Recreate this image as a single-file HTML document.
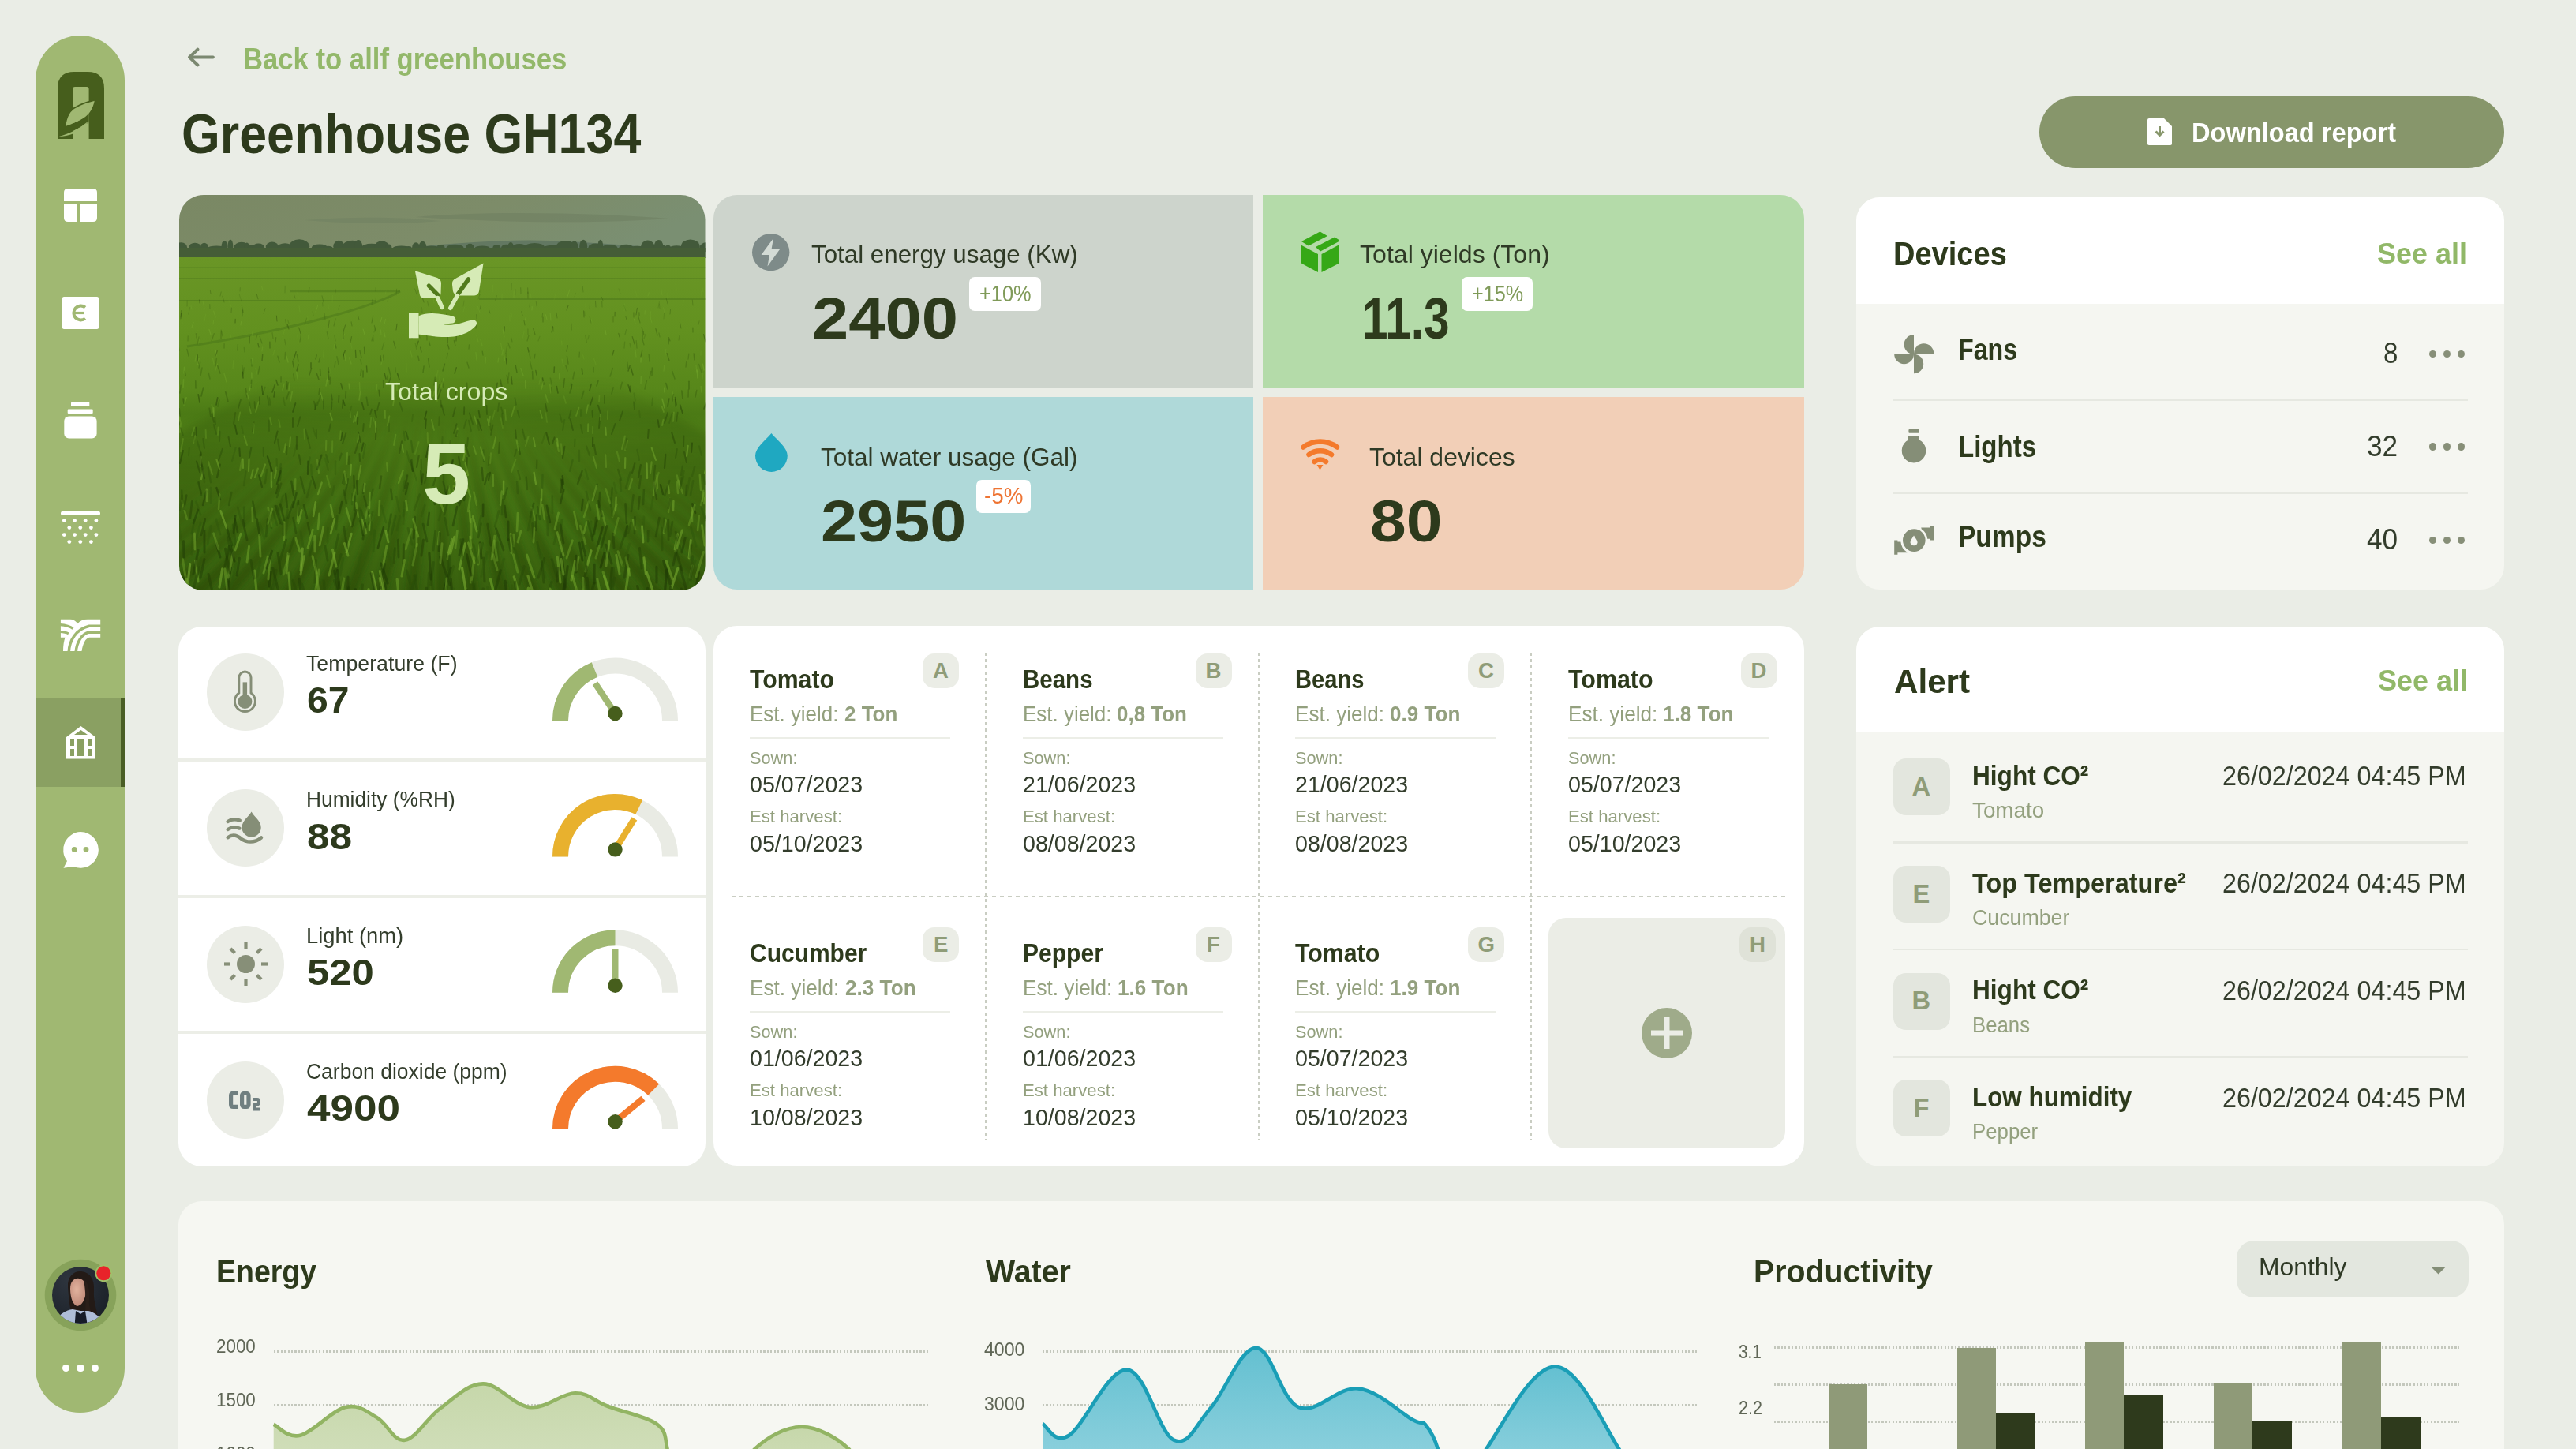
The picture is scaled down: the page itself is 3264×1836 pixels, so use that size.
<!DOCTYPE html>
<html><head><meta charset="utf-8"><style>
html,body{margin:0;padding:0;}
body{width:3264px;height:1836px;overflow:hidden;background:#eaede6;position:relative;font-family:"Liberation Sans",sans-serif;}
.t{position:absolute;white-space:nowrap;line-height:normal;transform-origin:0 0;}
.b{position:absolute;}
svg{position:absolute;overflow:visible;}
</style></head><body>
<div class="b" style="left:45px;top:45px;width:113px;height:1745px;background:#a0b872;border-radius:56.5px;"></div>
<div class="b" style="left:45px;top:884px;width:113px;height:113px;background:#8aa062;"></div>
<div class="b" style="left:153px;top:884px;width:5px;height:113px;background:#4a5e25;"></div>
<svg style="left:72.7px;top:90.7px" width="59" height="85" viewBox="0 0 59 85">
<path fill="#465e1c" d="M0 85 V21 Q0 0 21 0 H38 Q59 0 59 21 V85 H39.6 V22 Q39.6 19 37 19 H22 Q19 19 19 22 V85 Z"/>
<path fill="#465e1c" d="M10.6 68.8 C20 65 28 62 33 58 C40 52 45 44 46.9 35.9 L39.6 45 V64 C30 70 15 78 1.4 82 Z"/>
<path fill="#a0b872" d="M10.6 68.8 C11 58 17 48 24 44 C31 40 39 37.5 46.9 35.9 C45 46 40 54 33 58.5 C26 63 18 66 10.6 68.8 Z"/>
<path fill="none" stroke="#465e1c" stroke-width="2" d="M16 50 C22 44 32 39.5 46.9 35.9"/>
<path fill="#a0b872" d="M1 82.2 C14 79 28 72 39.6 62 C34 70 28 75 21 78 C14 80.5 7 81.8 1 82.2 Z"/>
</svg>
<svg style="left:81px;top:239px" width="42" height="42" viewBox="0 0 42 42">
<path fill="#fff" d="M0 5 Q0 0 5 0 H37 Q42 0 42 5 V16 H0 Z"/>
<path fill="#fff" d="M0 20 H16 V42 H5 Q0 42 0 37 Z"/>
<path fill="#fff" d="M20.5 20 H42 V37 Q42 42 37 42 H20.5 Z"/>
</svg>
<svg style="left:78.8px;top:376px" width="46" height="41" viewBox="0 0 46 41">
<rect x="0" y="0" width="46" height="41" rx="2" fill="#fff"/>
<path fill="none" stroke="#a0b872" stroke-width="4" d="M29 13.5 A9 9 0 1 0 29 27.5"/>
<path stroke="#a0b872" stroke-width="3.2" d="M14 20.5 H27"/>
</svg>
<svg style="left:81px;top:509px" width="42" height="47" viewBox="0 0 42 47">
<rect x="9" y="0.5" width="23.3" height="5.5" rx="1" fill="#fff"/>
<rect x="4.7" y="9.5" width="32" height="5.5" rx="1" fill="#fff"/>
<rect x="0.3" y="18.5" width="41.3" height="28" rx="6" fill="#fff"/>
</svg>
<svg style="left:77px;top:648px" width="50" height="42" viewBox="0 0 50 42">
<rect x="0" y="0" width="50" height="5" rx="2" fill="#fff"/><circle cx="4.3" cy="11.6" r="2.4" fill="#fff"/><circle cx="17.6" cy="11.6" r="2.4" fill="#fff"/><circle cx="31.2" cy="11.6" r="2.4" fill="#fff"/><circle cx="44.9" cy="11.6" r="2.4" fill="#fff"/><circle cx="10.8" cy="20.6" r="2.4" fill="#fff"/><circle cx="24.8" cy="20.6" r="2.4" fill="#fff"/><circle cx="38.4" cy="20.6" r="2.4" fill="#fff"/><circle cx="4.3" cy="29.6" r="2.4" fill="#fff"/><circle cx="17.6" cy="29.6" r="2.4" fill="#fff"/><circle cx="31.2" cy="29.6" r="2.4" fill="#fff"/><circle cx="44.9" cy="29.6" r="2.4" fill="#fff"/><circle cx="10.8" cy="38.6" r="2.4" fill="#fff"/><circle cx="24.8" cy="38.6" r="2.4" fill="#fff"/><circle cx="38.4" cy="38.6" r="2.4" fill="#fff"/></svg>
<svg style="left:70px;top:778px" width="64" height="54" viewBox="0 0 64 54">
<path fill="#fff" d="M6.9 6.8 H57.2 V29.8 H43 C38 31 35 38 33.5 47.1 H10 C10 40 11 34 12.5 29.8 H6.9 Z"/>
<g fill="none" stroke="#a0b872" stroke-width="3.6">
<path d="M17.2 48 C18 34 26 19 43 15.2 H58"/>
<path d="M26.2 48 C27 37 33 25 43 23.1 H58"/>
<path d="M6 13.6 C12 14 18 15 22.5 18.5" stroke-width="3.2"/>
<path d="M6 22.6 C10 22.8 13.5 23.2 16.8 24.8" stroke-width="3"/>
</g>
<path fill="#a0b872" d="M19 6 C24 7.5 27 10 28.3 12.2 C31 9 35 7 41 6 Z"/>
</svg>
<svg style="left:83.6px;top:919.8px" width="37" height="42" viewBox="0 0 37 42">
<path fill="#fff" d="M18.5 0 L37 14 V41.5 H0 V14 Z"/>
<path fill="#8aa062" d="M18.5 5 L27 11 H10 Z"/>
<rect x="5" y="16" width="5" height="9" fill="#8aa062"/>
<rect x="5" y="29" width="5" height="9" fill="#8aa062"/>
<rect x="27" y="16" width="5" height="9" fill="#8aa062"/>
<rect x="27" y="29" width="5" height="9" fill="#8aa062"/>
<rect x="14" y="16" width="9" height="22" fill="#8aa062"/>
</svg>
<svg style="left:79px;top:1053.6px" width="46" height="46" viewBox="0 0 46 46">
<path fill="#fff" d="M23 0 A22.9 22.9 0 1 1 14 44 L1.5 45.8 L6 37 A22.9 22.9 0 0 1 23 0 Z"/>
<circle cx="15.2" cy="22.4" r="3.4" fill="#a0b872"/>
<circle cx="30" cy="22.4" r="3.4" fill="#a0b872"/>
</svg>
<svg style="left:56px;top:1595px" width="92" height="92" viewBox="0 0 92 92">
<defs><clipPath id="av"><circle cx="46" cy="46" r="36"/></clipPath>
<radialGradient id="avbg" cx="0.35" cy="0.3" r="0.9"><stop offset="0" stop-color="#2e353e"/><stop offset="1" stop-color="#141920"/></radialGradient>
<radialGradient id="face" cx="0.4" cy="0.4" r="0.7"><stop offset="0" stop-color="#e2b39e"/><stop offset="1" stop-color="#b98272"/></radialGradient></defs>
<circle cx="46" cy="46" r="45.3" fill="#87a25a"/>
<g clip-path="url(#av)">
<rect x="0" y="0" width="92" height="92" fill="url(#avbg)"/>
<path fill="#231a16" d="M30 36 C29 22 38 15 47 16 C58 17 64 26 63 40 C62 52 66 62 68 74 L60 82 L36 80 C33 66 31 50 30 36 Z"/>
<path fill="url(#face)" d="M33 38 C33 29 38 24 44 25 C51 26 54 32 53 41 C52 52 48 59 42 60 C37 59 33 50 33 38 Z"/>
<path fill="#2a1e19" d="M50 26 C56 30 58 40 57 52 C56 60 60 68 62 76 L52 74 C52 62 54 50 50 26 Z"/>
<path fill="#aebdd8" d="M12 82 C18 70 28 65 36 64 L46 66 L56 66 C64 68 72 74 78 84 L78 92 H12 Z"/>
<path fill="#161b28" d="M40 66 L46 70 L52 66 L56 92 H38 Z"/>
</g>
<circle cx="75.3" cy="18.3" r="10.8" fill="#9fc06a"/>
<circle cx="75.3" cy="18.3" r="9" fill="#e8232a"/>
</svg>
<div class="b" style="left:79.2px;top:1729.2px;width:9.2px;height:9.2px;border-radius:50%;background:#fff"></div>
<div class="b" style="left:97.4px;top:1729.2px;width:9.2px;height:9.2px;border-radius:50%;background:#fff"></div>
<div class="b" style="left:115.60000000000001px;top:1729.2px;width:9.2px;height:9.2px;border-radius:50%;background:#fff"></div>
<svg style="left:236px;top:59px" width="37" height="28" viewBox="0 0 37 28">
<path fill="none" stroke="#7b8870" stroke-width="3.8" stroke-linecap="round" stroke-linejoin="round" d="M4 13.5 H34 M14.5 3.5 L4 13.5 L14.5 23.5"/>
</svg>
<div class="t" style="left:307.70px;top:52.79px;font-size:38.23px;color:#93b86a;font-weight:700;transform:scaleX(0.9071);">Back to allf greenhouses</div>
<div class="t" style="left:229.50px;top:128.68px;font-size:70.50px;color:#2d3a1c;font-weight:700;transform:scaleX(0.8899);">Greenhouse GH134</div>
<div class="b" style="left:2584px;top:122px;width:589px;height:91px;background:#87966b;border-radius:45.5px;"></div>
<svg style="left:2721px;top:150px" width="32" height="34" viewBox="0 0 32 34">
<path fill="#fff" d="M0 2 Q0 0 2 0 H21 L31 10 V32 Q31 34 29 34 H2 Q0 34 0 32 Z"/>
<path fill="none" stroke="#87966b" stroke-width="3" d="M15.5 10 V21 M10.5 16.5 L15.5 21.5 L20.5 16.5"/>
</svg>
<div class="t" style="left:2777.00px;top:148.12px;font-size:34.88px;color:#ffffff;font-weight:700;transform:scaleX(0.9350);">Download report</div>
<svg style="left:226.5px;top:247px" width="666.5" height="501" viewBox="0 0 666.5 501">
<defs>
<clipPath id="pc"><rect x="0" y="0" width="666.5" height="501" rx="31"/></clipPath>
<linearGradient id="sky" x1="0" y1="0" x2="1" y2="0.3"><stop offset="0" stop-color="#7a8864"/><stop offset="0.6" stop-color="#7d8c69"/><stop offset="1" stop-color="#7a8f72"/></linearGradient>
<linearGradient id="fld" x1="0" y1="0" x2="0" y2="1">
<stop offset="0" stop-color="#6a9626"/><stop offset="0.22" stop-color="#62911f"/><stop offset="0.4" stop-color="#57871a"/><stop offset="0.47" stop-color="#4b7a15"/><stop offset="0.55" stop-color="#4f7f17"/><stop offset="0.78" stop-color="#447213"/><stop offset="1" stop-color="#38600e"/></linearGradient>
<filter id="bl" x="-0.1" y="-0.1" width="1.2" height="1.2"><feGaussianBlur stdDeviation="4.5"/></filter>
<linearGradient id="fade" x1="0" y1="0" x2="0" y2="1"><stop offset="0" stop-color="#fff" stop-opacity="0"/><stop offset="0.3" stop-color="#fff" stop-opacity="0.4"/><stop offset="1" stop-color="#fff" stop-opacity="1"/></linearGradient>
<mask id="gm"><rect x="0" y="230" width="667" height="280" fill="url(#fade)"/></mask>
</defs>
<g clip-path="url(#pc)">
<rect x="0" y="0" width="667" height="80" fill="url(#sky)"/>
<path d="M300 28 C380 20 520 22 620 30 C540 36 420 36 300 28 Z" fill="#6a7a5e" opacity="0.45"/>
<path d="M160 32 C220 27 290 28 330 33 C290 37 220 37 160 32 Z" fill="#6a7a5e" opacity="0.35"/>
<path d="M300 66 C360 60 420 56 470 58 C520 60 570 64 620 68 L620 75 L300 75 Z" fill="#5d735f" opacity="0.8"/>
<g fill="#42593a"><ellipse cx="2.5" cy="66.2" rx="7.5" ry="5.9"/><ellipse cx="20.0" cy="66.3" rx="7.7" ry="5.6"/><ellipse cx="31.8" cy="66.3" rx="4.8" ry="5.6"/><ellipse cx="47.4" cy="67.2" rx="10.9" ry="2.7"/><ellipse cx="57.4" cy="65.7" rx="3.9" ry="7.7"/><ellipse cx="64.9" cy="65.3" rx="3.4" ry="8.9"/><ellipse cx="79.1" cy="66.1" rx="9.5" ry="6.3"/><ellipse cx="85.9" cy="66.3" rx="3.2" ry="5.7"/><ellipse cx="91.7" cy="66.9" rx="4.9" ry="3.7"/><ellipse cx="100.5" cy="66.5" rx="7.6" ry="5.1"/><ellipse cx="117.9" cy="66.1" rx="8.2" ry="6.5"/><ellipse cx="134.1" cy="66.4" rx="9.6" ry="5.2"/><ellipse cx="152.2" cy="65.3" rx="13.0" ry="9.0"/><ellipse cx="178.0" cy="66.7" rx="10.1" ry="4.2"/><ellipse cx="188.7" cy="67.3" rx="5.9" ry="2.5"/><ellipse cx="202.3" cy="65.6" rx="7.0" ry="7.9"/><ellipse cx="219.5" cy="65.6" rx="12.6" ry="7.9"/><ellipse cx="227.1" cy="65.5" rx="5.1" ry="8.4"/><ellipse cx="243.8" cy="66.6" rx="12.8" ry="4.8"/><ellipse cx="256.8" cy="65.8" rx="9.3" ry="7.4"/><ellipse cx="265.5" cy="66.7" rx="3.9" ry="4.3"/><ellipse cx="281.4" cy="67.2" rx="10.6" ry="2.8"/><ellipse cx="290.6" cy="67.3" rx="4.0" ry="2.4"/><ellipse cx="300.0" cy="66.2" rx="4.8" ry="5.9"/><ellipse cx="308.5" cy="65.9" rx="4.9" ry="7.1"/><ellipse cx="319.6" cy="67.2" rx="9.4" ry="2.8"/><ellipse cx="331.4" cy="66.8" rx="5.1" ry="3.9"/><ellipse cx="349.5" cy="66.8" rx="11.0" ry="4.1"/><ellipse cx="368.5" cy="66.6" rx="5.1" ry="4.8"/><ellipse cx="384.2" cy="67.2" rx="9.4" ry="2.7"/><ellipse cx="402.4" cy="66.9" rx="5.1" ry="3.8"/><ellipse cx="414.4" cy="66.8" rx="6.3" ry="4.1"/><ellipse cx="420.1" cy="66.2" rx="3.9" ry="6.1"/><ellipse cx="431.1" cy="66.6" rx="9.0" ry="4.6"/><ellipse cx="450.4" cy="66.4" rx="12.6" ry="5.4"/><ellipse cx="473.2" cy="67.0" rx="11.7" ry="3.3"/><ellipse cx="489.8" cy="65.7" rx="12.1" ry="7.7"/><ellipse cx="500.7" cy="65.8" rx="4.9" ry="7.2"/><ellipse cx="512.2" cy="65.4" rx="5.0" ry="8.7"/><ellipse cx="527.5" cy="66.5" rx="9.0" ry="5.0"/><ellipse cx="533.8" cy="65.4" rx="3.4" ry="8.7"/><ellipse cx="545.5" cy="66.9" rx="10.0" ry="3.8"/><ellipse cx="566.4" cy="66.8" rx="9.0" ry="4.1"/><ellipse cx="580.3" cy="67.3" rx="10.2" ry="2.5"/><ellipse cx="593.7" cy="65.6" rx="8.6" ry="8.0"/><ellipse cx="607.6" cy="65.5" rx="5.8" ry="8.4"/><ellipse cx="613.3" cy="66.8" rx="3.2" ry="3.9"/><ellipse cx="619.3" cy="67.0" rx="3.6" ry="3.2"/><ellipse cx="630.3" cy="67.1" rx="8.7" ry="2.9"/><ellipse cx="647.8" cy="65.3" rx="11.9" ry="8.9"/><ellipse cx="669.4" cy="66.2" rx="9.9" ry="6.1"/><ellipse cx="676.4" cy="67.4" rx="3.4" ry="2.1"/></g>
<rect x="0" y="67" width="667" height="13" fill="#455d37"/>
<rect x="0" y="79" width="667" height="422" fill="url(#fld)"/>
<g stroke="#3f6a18" stroke-opacity="0.35" fill="none">
<path d="M0 92 H667" stroke-width="1.2"/><path d="M0 106 H667" stroke-width="1.5"/>
<path d="M140 122 H280" stroke-width="2.5"/><path d="M0 134 H250" stroke-width="2"/>
<path d="M380 132 H667" stroke-width="2"/><path d="M280 122 C250 140 150 170 10 192" stroke-width="3"/>
</g>
<g stroke="#1f3c06" stroke-opacity="0.5" stroke-width="12" fill="none" filter="url(#bl)" mask="url(#gm)"><path d="M133 230 Q-107 380 -587 560" /><path d="M143 230 Q-85 380 -541 560" /><path d="M153 230 Q-63 380 -495 560" /><path d="M163 230 Q-41 380 -449 560" /><path d="M173 230 Q-19 380 -403 560" /><path d="M183 230 Q3 380 -357 560" /><path d="M193 230 Q25 380 -311 560" /><path d="M203 230 Q47 380 -265 560" /><path d="M213 230 Q69 380 -219 560" /><path d="M223 230 Q91 380 -173 560" /><path d="M233 230 Q113 380 -127 560" /><path d="M243 230 Q135 380 -81 560" /><path d="M253 230 Q157 380 -35 560" /><path d="M263 230 Q179 380 11 560" /><path d="M273 230 Q201 380 57 560" /><path d="M283 230 Q223 380 103 560" /><path d="M293 230 Q245 380 149 560" /><path d="M303 230 Q267 380 195 560" /><path d="M313 230 Q289 380 241 560" /><path d="M323 230 Q311 380 287 560" /><path d="M333 230 Q333 380 333 560" /><path d="M343 230 Q355 380 379 560" /><path d="M353 230 Q377 380 425 560" /><path d="M363 230 Q399 380 471 560" /><path d="M373 230 Q421 380 517 560" /><path d="M383 230 Q443 380 563 560" /><path d="M393 230 Q465 380 609 560" /><path d="M403 230 Q487 380 655 560" /><path d="M413 230 Q509 380 701 560" /><path d="M423 230 Q531 380 747 560" /><path d="M433 230 Q553 380 793 560" /><path d="M443 230 Q575 380 839 560" /><path d="M453 230 Q597 380 885 560" /><path d="M463 230 Q619 380 931 560" /><path d="M473 230 Q641 380 977 560" /><path d="M483 230 Q663 380 1023 560" /><path d="M493 230 Q685 380 1069 560" /><path d="M503 230 Q707 380 1115 560" /><path d="M513 230 Q729 380 1161 560" /><path d="M523 230 Q751 380 1207 560" /><path d="M533 230 Q773 380 1253 560" /></g>
<g stroke-linecap="round"><path d="M650 414 l-0.2 -17.2" stroke="#80b434" stroke-opacity="0.39" stroke-width="2.6"/><path d="M40 177 l-2.1 -6.7" stroke="#80b434" stroke-opacity="0.33" stroke-width="1.2"/><path d="M651 174 l-0.1 -6.0" stroke="#284a08" stroke-opacity="0.36" stroke-width="1.1"/><path d="M532 295 l1.1 -12.7" stroke="#1c3604" stroke-opacity="0.33" stroke-width="1.9"/><path d="M40 125 l-0.8 -4.5" stroke="#1c3604" stroke-opacity="0.30" stroke-width="0.8"/><path d="M494 283 l2.5 -10.3" stroke="#284a08" stroke-opacity="0.35" stroke-width="1.8"/><path d="M203 336 l2.6 -8.3" stroke="#284a08" stroke-opacity="0.38" stroke-width="2.1"/><path d="M621 378 l-1.5 -10.7" stroke="#80b434" stroke-opacity="0.43" stroke-width="2.4"/><path d="M507 338 l-0.0 -14.5" stroke="#2f560b" stroke-opacity="0.34" stroke-width="2.1"/><path d="M126 400 l5.7 -19.5" stroke="#2f560b" stroke-opacity="0.39" stroke-width="2.5"/><path d="M207 365 l3.0 -12.8" stroke="#284a08" stroke-opacity="0.44" stroke-width="2.3"/><path d="M180 519 l-4.0 -25.6" stroke="#2f560b" stroke-opacity="0.55" stroke-width="3.3"/><path d="M347 281 l2.8 -11.5" stroke="#203c05" stroke-opacity="0.34" stroke-width="1.8"/><path d="M12 151 l1.2 -8.4" stroke="#203c05" stroke-opacity="0.24" stroke-width="1.0"/><path d="M377 393 l-3.6 -16.5" stroke="#74a82c" stroke-opacity="0.36" stroke-width="2.5"/><path d="M22 179 l0.7 -7.6" stroke="#80b434" stroke-opacity="0.31" stroke-width="1.2"/><path d="M43 275 l-1.6 -9.1" stroke="#80b434" stroke-opacity="0.24" stroke-width="1.8"/><path d="M480 318 l-1.0 -9.2" stroke="#80b434" stroke-opacity="0.46" stroke-width="2.0"/><path d="M674 330 l1.8 -12.6" stroke="#2f560b" stroke-opacity="0.29" stroke-width="2.1"/><path d="M486 512 l2.2 -24.7" stroke="#284a08" stroke-opacity="0.46" stroke-width="3.2"/><path d="M593 359 l-0.5 -18.6" stroke="#80b434" stroke-opacity="0.49" stroke-width="2.3"/><path d="M584 162 l-2.2 -8.3" stroke="#2f560b" stroke-opacity="0.35" stroke-width="1.1"/><path d="M660 532 l-4.4 -35.3" stroke="#80b434" stroke-opacity="0.57" stroke-width="3.3"/><path d="M47 266 l1.7 -9.2" stroke="#1c3604" stroke-opacity="0.42" stroke-width="1.7"/><path d="M585 212 l0.2 -6.8" stroke="#80b434" stroke-opacity="0.36" stroke-width="1.4"/><path d="M92 179 l1.7 -7.1" stroke="#80b434" stroke-opacity="0.27" stroke-width="1.2"/><path d="M387 490 l-1.3 -30.0" stroke="#203c05" stroke-opacity="0.43" stroke-width="3.1"/><path d="M428 426 l1.0 -23.0" stroke="#74a82c" stroke-opacity="0.47" stroke-width="2.7"/><path d="M587 521 l-6.4 -25.4" stroke="#203c05" stroke-opacity="0.49" stroke-width="3.3"/><path d="M128 361 l1.1 -14.6" stroke="#284a08" stroke-opacity="0.40" stroke-width="2.3"/><path d="M619 138 l-1.8 -6.8" stroke="#284a08" stroke-opacity="0.30" stroke-width="0.9"/><path d="M360 148 l1.8 -6.2" stroke="#74a82c" stroke-opacity="0.22" stroke-width="1.0"/><path d="M223 327 l4.8 -16.5" stroke="#203c05" stroke-opacity="0.34" stroke-width="2.1"/><path d="M414 200 l1.8 -9.2" stroke="#284a08" stroke-opacity="0.20" stroke-width="1.3"/><path d="M-2 185 l-1.1 -6.1" stroke="#1c3604" stroke-opacity="0.21" stroke-width="1.2"/><path d="M74 427 l-3.5 -16.7" stroke="#203c05" stroke-opacity="0.51" stroke-width="2.7"/><path d="M424 130 l0.2 -8.1" stroke="#80b434" stroke-opacity="0.26" stroke-width="0.9"/><path d="M138 212 l-2.0 -7.9" stroke="#80b434" stroke-opacity="0.33" stroke-width="1.4"/><path d="M114 266 l-2.3 -10.9" stroke="#2f560b" stroke-opacity="0.41" stroke-width="1.7"/><path d="M154 176 l-2.3 -8.0" stroke="#1c3604" stroke-opacity="0.29" stroke-width="1.1"/><path d="M128 416 l-6.2 -22.0" stroke="#203c05" stroke-opacity="0.46" stroke-width="2.6"/><path d="M654 503 l4.4 -24.6" stroke="#203c05" stroke-opacity="0.58" stroke-width="3.2"/><path d="M541 470 l3.0 -16.5" stroke="#203c05" stroke-opacity="0.46" stroke-width="3.0"/><path d="M91 359 l2.6 -10.8" stroke="#74a82c" stroke-opacity="0.48" stroke-width="2.3"/><path d="M32 160 l1.7 -9.0" stroke="#74a82c" stroke-opacity="0.25" stroke-width="1.0"/><path d="M233 299 l0.8 -9.0" stroke="#284a08" stroke-opacity="0.43" stroke-width="1.9"/><path d="M301 196 l-1.8 -8.4" stroke="#2f560b" stroke-opacity="0.21" stroke-width="1.3"/><path d="M212 453 l6.3 -23.8" stroke="#80b434" stroke-opacity="0.54" stroke-width="2.9"/><path d="M121 359 l2.5 -13.7" stroke="#74a82c" stroke-opacity="0.47" stroke-width="2.3"/><path d="M524 433 l5.6 -20.3" stroke="#203c05" stroke-opacity="0.48" stroke-width="2.7"/><path d="M515 442 l-6.8 -22.8" stroke="#74a82c" stroke-opacity="0.40" stroke-width="2.8"/><path d="M599 162 l-2.9 -9.3" stroke="#74a82c" stroke-opacity="0.36" stroke-width="1.1"/><path d="M222 400 l0.4 -18.6" stroke="#1c3604" stroke-opacity="0.42" stroke-width="2.5"/><path d="M136 329 l0.5 -10.0" stroke="#284a08" stroke-opacity="0.40" stroke-width="2.1"/><path d="M166 430 l-3.0 -14.2" stroke="#1c3604" stroke-opacity="0.34" stroke-width="2.7"/><path d="M179 229 l-0.4 -7.4" stroke="#203c05" stroke-opacity="0.33" stroke-width="1.5"/><path d="M428 538 l1.6 -23.4" stroke="#284a08" stroke-opacity="0.48" stroke-width="3.4"/><path d="M255 514 l1.1 -36.3" stroke="#203c05" stroke-opacity="0.40" stroke-width="3.2"/><path d="M279 517 l-2.8 -29.8" stroke="#74a82c" stroke-opacity="0.48" stroke-width="3.3"/><path d="M628 233 l-3.1 -9.4" stroke="#2f560b" stroke-opacity="0.33" stroke-width="1.5"/><path d="M270 386 l-1.7 -13.5" stroke="#1c3604" stroke-opacity="0.32" stroke-width="2.4"/><path d="M638 535 l-1.8 -35.8" stroke="#1c3604" stroke-opacity="0.45" stroke-width="3.4"/><path d="M21 437 l6.2 -21.7" stroke="#2f560b" stroke-opacity="0.53" stroke-width="2.8"/><path d="M404 463 l-0.7 -22.2" stroke="#2f560b" stroke-opacity="0.53" stroke-width="2.9"/><path d="M96 270 l-0.5 -8.0" stroke="#203c05" stroke-opacity="0.29" stroke-width="1.7"/><path d="M278 365 l5.7 -16.2" stroke="#74a82c" stroke-opacity="0.44" stroke-width="2.3"/><path d="M68 220 l0.9 -10.2" stroke="#74a82c" stroke-opacity="0.26" stroke-width="1.4"/><path d="M487 376 l-2.2 -14.1" stroke="#2f560b" stroke-opacity="0.34" stroke-width="2.4"/><path d="M662 225 l-3.4 -10.5" stroke="#284a08" stroke-opacity="0.21" stroke-width="1.4"/><path d="M8 229 l-0.8 -5.4" stroke="#284a08" stroke-opacity="0.40" stroke-width="1.5"/><path d="M151 188 l-1.0 -9.5" stroke="#74a82c" stroke-opacity="0.26" stroke-width="1.2"/><path d="M565 433 l2.9 -13.5" stroke="#203c05" stroke-opacity="0.50" stroke-width="2.7"/><path d="M295 443 l-5.0 -20.6" stroke="#2f560b" stroke-opacity="0.47" stroke-width="2.8"/><path d="M213 535 l10.3 -35.0" stroke="#1c3604" stroke-opacity="0.53" stroke-width="3.4"/><path d="M307 364 l-0.7 -14.0" stroke="#203c05" stroke-opacity="0.39" stroke-width="2.3"/><path d="M195 408 l-3.0 -15.2" stroke="#80b434" stroke-opacity="0.44" stroke-width="2.6"/><path d="M329 412 l4.7 -17.8" stroke="#2f560b" stroke-opacity="0.40" stroke-width="2.6"/><path d="M241 425 l0.9 -19.4" stroke="#80b434" stroke-opacity="0.51" stroke-width="2.7"/><path d="M541 304 l-0.7 -9.4" stroke="#80b434" stroke-opacity="0.44" stroke-width="1.9"/><path d="M238 224 l-0.5 -7.1" stroke="#1c3604" stroke-opacity="0.37" stroke-width="1.4"/><path d="M243 430 l1.0 -15.3" stroke="#2f560b" stroke-opacity="0.37" stroke-width="2.7"/><path d="M594 439 l0.2 -13.7" stroke="#203c05" stroke-opacity="0.37" stroke-width="2.8"/><path d="M5 244 l0.6 -10.2" stroke="#74a82c" stroke-opacity="0.38" stroke-width="1.6"/><path d="M46 155 l-2.3 -7.9" stroke="#80b434" stroke-opacity="0.30" stroke-width="1.0"/><path d="M550 161 l-0.0 -6.4" stroke="#203c05" stroke-opacity="0.24" stroke-width="1.1"/><path d="M230 313 l-3.2 -12.4" stroke="#1c3604" stroke-opacity="0.37" stroke-width="2.0"/><path d="M476 423 l4.6 -20.1" stroke="#80b434" stroke-opacity="0.40" stroke-width="2.7"/><path d="M249 122 l0.1 -4.4" stroke="#284a08" stroke-opacity="0.26" stroke-width="0.8"/><path d="M540 418 l-4.3 -17.4" stroke="#80b434" stroke-opacity="0.36" stroke-width="2.6"/><path d="M459 387 l0.3 -14.4" stroke="#74a82c" stroke-opacity="0.50" stroke-width="2.5"/><path d="M202 145 l0.9 -4.7" stroke="#2f560b" stroke-opacity="0.35" stroke-width="1.0"/><path d="M2 436 l-3.1 -23.4" stroke="#2f560b" stroke-opacity="0.38" stroke-width="2.8"/><path d="M151 211 l-1.7 -8.8" stroke="#2f560b" stroke-opacity="0.38" stroke-width="1.4"/><path d="M615 289 l4.0 -13.0" stroke="#203c05" stroke-opacity="0.35" stroke-width="1.8"/><path d="M599 229 l0.3 -10.0" stroke="#284a08" stroke-opacity="0.31" stroke-width="1.5"/><path d="M24 213 l-0.8 -10.2" stroke="#203c05" stroke-opacity="0.36" stroke-width="1.4"/><path d="M530 445 l6.5 -23.8" stroke="#1c3604" stroke-opacity="0.52" stroke-width="2.8"/><path d="M159 309 l-0.7 -12.5" stroke="#74a82c" stroke-opacity="0.29" stroke-width="2.0"/><path d="M546 501 l2.4 -28.4" stroke="#203c05" stroke-opacity="0.48" stroke-width="3.2"/><path d="M518 183 l1.1 -4.7" stroke="#2f560b" stroke-opacity="0.20" stroke-width="1.2"/><path d="M482 233 l-0.1 -6.2" stroke="#80b434" stroke-opacity="0.33" stroke-width="1.5"/><path d="M198 480 l7.1 -24.4" stroke="#284a08" stroke-opacity="0.52" stroke-width="3.0"/><path d="M16 305 l3.3 -10.7" stroke="#74a82c" stroke-opacity="0.32" stroke-width="1.9"/><path d="M372 290 l-4.1 -13.5" stroke="#284a08" stroke-opacity="0.39" stroke-width="1.9"/><path d="M260 164 l1.5 -6.7" stroke="#80b434" stroke-opacity="0.27" stroke-width="1.1"/><path d="M478 483 l-5.7 -21.2" stroke="#284a08" stroke-opacity="0.54" stroke-width="3.0"/><path d="M483 475 l1.8 -20.7" stroke="#203c05" stroke-opacity="0.51" stroke-width="3.0"/><path d="M508 521 l-4.6 -21.1" stroke="#1c3604" stroke-opacity="0.53" stroke-width="3.3"/><path d="M638 258 l-1.2 -9.9" stroke="#1c3604" stroke-opacity="0.25" stroke-width="1.7"/><path d="M55 179 l-1.8 -7.9" stroke="#1c3604" stroke-opacity="0.19" stroke-width="1.2"/><path d="M473 315 l2.6 -7.6" stroke="#1c3604" stroke-opacity="0.35" stroke-width="2.0"/><path d="M622 151 l0.6 -6.3" stroke="#2f560b" stroke-opacity="0.33" stroke-width="1.0"/><path d="M217 282 l-0.6 -8.2" stroke="#80b434" stroke-opacity="0.31" stroke-width="1.8"/><path d="M158 451 l-4.1 -24.2" stroke="#2f560b" stroke-opacity="0.42" stroke-width="2.9"/><path d="M63 393 l3.3 -16.1" stroke="#284a08" stroke-opacity="0.43" stroke-width="2.5"/><path d="M516 187 l-0.9 -9.1" stroke="#203c05" stroke-opacity="0.29" stroke-width="1.2"/><path d="M126 361 l2.9 -19.9" stroke="#2f560b" stroke-opacity="0.41" stroke-width="2.3"/><path d="M442 131 l-0.1 -7.9" stroke="#1c3604" stroke-opacity="0.30" stroke-width="0.9"/><path d="M627 258 l-2.2 -8.3" stroke="#80b434" stroke-opacity="0.26" stroke-width="1.7"/><path d="M363 500 l-4.5 -27.4" stroke="#80b434" stroke-opacity="0.57" stroke-width="3.2"/><path d="M403 463 l-3.7 -25.0" stroke="#74a82c" stroke-opacity="0.40" stroke-width="2.9"/><path d="M560 361 l-3.9 -13.1" stroke="#284a08" stroke-opacity="0.37" stroke-width="2.3"/><path d="M628 449 l3.5 -19.3" stroke="#80b434" stroke-opacity="0.53" stroke-width="2.8"/><path d="M429 378 l-0.9 -14.3" stroke="#284a08" stroke-opacity="0.33" stroke-width="2.4"/><path d="M381 282 l-1.4 -8.5" stroke="#203c05" stroke-opacity="0.43" stroke-width="1.8"/><path d="M528 142 l-0.5 -7.7" stroke="#1c3604" stroke-opacity="0.28" stroke-width="0.9"/><path d="M272 317 l2.4 -13.3" stroke="#74a82c" stroke-opacity="0.36" stroke-width="2.0"/><path d="M565 538 l-1.4 -30.2" stroke="#203c05" stroke-opacity="0.42" stroke-width="3.4"/><path d="M217 514 l-8.8 -26.4" stroke="#284a08" stroke-opacity="0.44" stroke-width="3.2"/><path d="M287 379 l2.8 -13.6" stroke="#203c05" stroke-opacity="0.48" stroke-width="2.4"/><path d="M569 223 l2.3 -7.1" stroke="#1c3604" stroke-opacity="0.35" stroke-width="1.4"/><path d="M154 341 l-2.1 -11.6" stroke="#284a08" stroke-opacity="0.48" stroke-width="2.2"/><path d="M588 427 l0.9 -19.2" stroke="#2f560b" stroke-opacity="0.38" stroke-width="2.7"/><path d="M379 434 l3.6 -17.4" stroke="#284a08" stroke-opacity="0.51" stroke-width="2.7"/><path d="M301 362 l-5.0 -15.0" stroke="#2f560b" stroke-opacity="0.31" stroke-width="2.3"/><path d="M549 496 l1.4 -22.9" stroke="#284a08" stroke-opacity="0.44" stroke-width="3.1"/><path d="M205 311 l1.8 -9.1" stroke="#1c3604" stroke-opacity="0.44" stroke-width="2.0"/><path d="M579 205 l-1.0 -8.1" stroke="#74a82c" stroke-opacity="0.38" stroke-width="1.3"/><path d="M426 127 l0.2 -7.5" stroke="#2f560b" stroke-opacity="0.19" stroke-width="0.8"/><path d="M24 490 l-3.5 -26.6" stroke="#74a82c" stroke-opacity="0.54" stroke-width="3.1"/><path d="M83 420 l-0.9 -24.1" stroke="#284a08" stroke-opacity="0.36" stroke-width="2.7"/><path d="M73 482 l3.4 -21.8" stroke="#203c05" stroke-opacity="0.50" stroke-width="3.0"/><path d="M246 452 l1.7 -27.1" stroke="#2f560b" stroke-opacity="0.54" stroke-width="2.9"/><path d="M114 496 l2.2 -18.5" stroke="#1c3604" stroke-opacity="0.57" stroke-width="3.1"/><path d="M352 305 l0.7 -9.5" stroke="#74a82c" stroke-opacity="0.37" stroke-width="1.9"/><path d="M380 298 l-2.4 -10.9" stroke="#2f560b" stroke-opacity="0.31" stroke-width="1.9"/><path d="M118 350 l-6.1 -18.6" stroke="#1c3604" stroke-opacity="0.47" stroke-width="2.2"/><path d="M-8 366 l-4.2 -13.7" stroke="#80b434" stroke-opacity="0.48" stroke-width="2.3"/><path d="M322 255 l1.4 -6.2" stroke="#80b434" stroke-opacity="0.37" stroke-width="1.6"/><path d="M643 339 l-3.0 -12.9" stroke="#203c05" stroke-opacity="0.37" stroke-width="2.2"/><path d="M366 401 l2.8 -17.9" stroke="#74a82c" stroke-opacity="0.41" stroke-width="2.5"/><path d="M388 213 l0.5 -7.2" stroke="#80b434" stroke-opacity="0.22" stroke-width="1.4"/><path d="M594 308 l0.8 -10.9" stroke="#1c3604" stroke-opacity="0.36" stroke-width="2.0"/><path d="M578 424 l-2.9 -12.7" stroke="#80b434" stroke-opacity="0.44" stroke-width="2.7"/><path d="M153 452 l-5.6 -17.4" stroke="#74a82c" stroke-opacity="0.51" stroke-width="2.9"/><path d="M526 430 l2.2 -20.9" stroke="#203c05" stroke-opacity="0.37" stroke-width="2.7"/><path d="M100 227 l1.9 -9.4" stroke="#284a08" stroke-opacity="0.28" stroke-width="1.5"/><path d="M469 316 l-3.8 -14.7" stroke="#203c05" stroke-opacity="0.46" stroke-width="2.0"/><path d="M302 181 l-1.5 -8.0" stroke="#203c05" stroke-opacity="0.21" stroke-width="1.2"/><path d="M194 285 l-2.8 -8.5" stroke="#80b434" stroke-opacity="0.40" stroke-width="1.8"/><path d="M148 428 l-3.4 -18.8" stroke="#1c3604" stroke-opacity="0.35" stroke-width="2.7"/><path d="M202 215 l-2.1 -10.4" stroke="#2f560b" stroke-opacity="0.29" stroke-width="1.4"/><path d="M30 393 l4.5 -17.5" stroke="#203c05" stroke-opacity="0.50" stroke-width="2.5"/><path d="M580 194 l-0.8 -9.3" stroke="#284a08" stroke-opacity="0.24" stroke-width="1.3"/><path d="M116 266 l-1.8 -8.8" stroke="#2f560b" stroke-opacity="0.36" stroke-width="1.7"/><path d="M314 439 l-4.8 -21.8" stroke="#1c3604" stroke-opacity="0.38" stroke-width="2.8"/><path d="M40 281 l-1.7 -10.6" stroke="#284a08" stroke-opacity="0.35" stroke-width="1.8"/><path d="M341 431 l-4.3 -21.7" stroke="#284a08" stroke-opacity="0.41" stroke-width="2.7"/><path d="M633 184 l1.0 -6.5" stroke="#284a08" stroke-opacity="0.19" stroke-width="1.2"/><path d="M254 255 l-0.9 -7.7" stroke="#203c05" stroke-opacity="0.36" stroke-width="1.6"/><path d="M407 247 l0.1 -8.1" stroke="#2f560b" stroke-opacity="0.23" stroke-width="1.6"/><path d="M281 251 l1.2 -8.4" stroke="#74a82c" stroke-opacity="0.29" stroke-width="1.6"/><path d="M249 310 l0.4 -14.7" stroke="#1c3604" stroke-opacity="0.34" stroke-width="2.0"/><path d="M584 282 l-0.9 -8.1" stroke="#2f560b" stroke-opacity="0.27" stroke-width="1.8"/><path d="M503 476 l3.0 -16.7" stroke="#80b434" stroke-opacity="0.42" stroke-width="3.0"/><path d="M620 402 l2.0 -17.6" stroke="#74a82c" stroke-opacity="0.36" stroke-width="2.5"/><path d="M52 386 l-4.6 -14.9" stroke="#1c3604" stroke-opacity="0.49" stroke-width="2.4"/><path d="M472 240 l-1.6 -7.7" stroke="#2f560b" stroke-opacity="0.29" stroke-width="1.5"/><path d="M347 419 l5.1 -24.0" stroke="#1c3604" stroke-opacity="0.44" stroke-width="2.7"/><path d="M369 415 l-1.1 -14.6" stroke="#74a82c" stroke-opacity="0.51" stroke-width="2.6"/><path d="M177 503 l-4.4 -31.6" stroke="#80b434" stroke-opacity="0.44" stroke-width="3.2"/><path d="M6 226 l0.4 -7.8" stroke="#74a82c" stroke-opacity="0.38" stroke-width="1.5"/><path d="M431 493 l6.2 -22.3" stroke="#284a08" stroke-opacity="0.49" stroke-width="3.1"/><path d="M519 516 l-1.9 -30.6" stroke="#1c3604" stroke-opacity="0.40" stroke-width="3.3"/><path d="M308 149 l-0.5 -6.4" stroke="#2f560b" stroke-opacity="0.30" stroke-width="1.0"/><path d="M330 235 l0.5 -7.4" stroke="#74a82c" stroke-opacity="0.26" stroke-width="1.5"/><path d="M151 406 l-1.2 -15.5" stroke="#2f560b" stroke-opacity="0.43" stroke-width="2.6"/><path d="M515 477 l7.1 -26.4" stroke="#80b434" stroke-opacity="0.56" stroke-width="3.0"/><path d="M228 260 l1.6 -10.7" stroke="#80b434" stroke-opacity="0.31" stroke-width="1.7"/><path d="M122 186 l0.7 -5.3" stroke="#203c05" stroke-opacity="0.25" stroke-width="1.2"/><path d="M242 294 l1.2 -11.5" stroke="#74a82c" stroke-opacity="0.32" stroke-width="1.9"/><path d="M342 195 l-1.5 -5.1" stroke="#284a08" stroke-opacity="0.37" stroke-width="1.3"/><path d="M572 250 l-3.0 -9.2" stroke="#203c05" stroke-opacity="0.40" stroke-width="1.6"/><path d="M27 485 l4.9 -23.5" stroke="#1c3604" stroke-opacity="0.42" stroke-width="3.1"/><path d="M242 387 l3.6 -14.5" stroke="#2f560b" stroke-opacity="0.48" stroke-width="2.5"/><path d="M379 468 l2.2 -25.4" stroke="#74a82c" stroke-opacity="0.52" stroke-width="3.0"/><path d="M249 173 l-1.7 -7.6" stroke="#284a08" stroke-opacity="0.28" stroke-width="1.1"/><path d="M532 411 l-2.9 -18.0" stroke="#74a82c" stroke-opacity="0.45" stroke-width="2.6"/><path d="M630 287 l1.7 -11.3" stroke="#284a08" stroke-opacity="0.42" stroke-width="1.8"/><path d="M235 201 l-0.5 -7.8" stroke="#284a08" stroke-opacity="0.37" stroke-width="1.3"/><path d="M107 479 l5.4 -21.0" stroke="#80b434" stroke-opacity="0.42" stroke-width="3.0"/><path d="M414 285 l-1.0 -13.0" stroke="#80b434" stroke-opacity="0.29" stroke-width="1.8"/><path d="M585 239 l0.3 -8.7" stroke="#74a82c" stroke-opacity="0.40" stroke-width="1.5"/><path d="M94 302 l0.6 -12.1" stroke="#74a82c" stroke-opacity="0.38" stroke-width="1.9"/><path d="M146 235 l-1.3 -8.0" stroke="#284a08" stroke-opacity="0.25" stroke-width="1.5"/><path d="M512 123 l-0.8 -7.4" stroke="#2f560b" stroke-opacity="0.35" stroke-width="0.8"/><path d="M585 205 l1.6 -7.3" stroke="#1c3604" stroke-opacity="0.31" stroke-width="1.3"/><path d="M413 210 l-2.0 -9.0" stroke="#74a82c" stroke-opacity="0.38" stroke-width="1.4"/><path d="M294 538 l-8.2 -36.3" stroke="#284a08" stroke-opacity="0.59" stroke-width="3.4"/><path d="M453 346 l0.4 -9.6" stroke="#284a08" stroke-opacity="0.39" stroke-width="2.2"/><path d="M134 124 l0.2 -8.8" stroke="#2f560b" stroke-opacity="0.31" stroke-width="0.8"/><path d="M264 429 l4.6 -24.5" stroke="#284a08" stroke-opacity="0.52" stroke-width="2.7"/><path d="M566 322 l1.2 -13.5" stroke="#284a08" stroke-opacity="0.39" stroke-width="2.1"/><path d="M256 215 l1.6 -7.2" stroke="#74a82c" stroke-opacity="0.33" stroke-width="1.4"/><path d="M204 309 l0.6 -9.8" stroke="#74a82c" stroke-opacity="0.33" stroke-width="2.0"/><path d="M135 431 l2.7 -21.4" stroke="#2f560b" stroke-opacity="0.40" stroke-width="2.7"/><path d="M246 185 l-0.4 -5.3" stroke="#284a08" stroke-opacity="0.27" stroke-width="1.2"/><path d="M358 255 l2.8 -10.6" stroke="#74a82c" stroke-opacity="0.24" stroke-width="1.6"/><path d="M387 367 l4.2 -13.8" stroke="#1c3604" stroke-opacity="0.38" stroke-width="2.3"/><path d="M112 417 l6.0 -19.1" stroke="#74a82c" stroke-opacity="0.50" stroke-width="2.6"/><path d="M350 447 l2.4 -21.3" stroke="#80b434" stroke-opacity="0.36" stroke-width="2.8"/><path d="M226 379 l-0.9 -16.9" stroke="#203c05" stroke-opacity="0.49" stroke-width="2.4"/><path d="M497 171 l-0.2 -8.1" stroke="#1c3604" stroke-opacity="0.28" stroke-width="1.1"/><path d="M361 278 l0.2 -8.8" stroke="#1c3604" stroke-opacity="0.33" stroke-width="1.8"/><path d="M398 369 l-0.3 -14.7" stroke="#74a82c" stroke-opacity="0.45" stroke-width="2.3"/><path d="M495 251 l2.9 -11.1" stroke="#2f560b" stroke-opacity="0.38" stroke-width="1.6"/><path d="M66 497 l6.3 -31.1" stroke="#2f560b" stroke-opacity="0.54" stroke-width="3.1"/><path d="M341 455 l4.8 -18.7" stroke="#80b434" stroke-opacity="0.42" stroke-width="2.9"/><path d="M229 337 l-0.5 -8.9" stroke="#1c3604" stroke-opacity="0.34" stroke-width="2.1"/><path d="M40 390 l-0.1 -19.1" stroke="#2f560b" stroke-opacity="0.33" stroke-width="2.5"/><path d="M28 329 l-5.0 -16.6" stroke="#2f560b" stroke-opacity="0.44" stroke-width="2.1"/><path d="M219 195 l-1.9 -9.7" stroke="#74a82c" stroke-opacity="0.22" stroke-width="1.3"/><path d="M257 196 l2.6 -9.1" stroke="#284a08" stroke-opacity="0.21" stroke-width="1.3"/><path d="M355 393 l6.4 -19.5" stroke="#203c05" stroke-opacity="0.45" stroke-width="2.5"/><path d="M1 301 l0.9 -9.5" stroke="#74a82c" stroke-opacity="0.39" stroke-width="1.9"/><path d="M134 208 l0.5 -8.6" stroke="#284a08" stroke-opacity="0.23" stroke-width="1.3"/><path d="M636 169 l-1.6 -7.3" stroke="#284a08" stroke-opacity="0.32" stroke-width="1.1"/><path d="M237 429 l-4.3 -17.6" stroke="#80b434" stroke-opacity="0.39" stroke-width="2.7"/><path d="M410 277 l-2.0 -7.7" stroke="#284a08" stroke-opacity="0.31" stroke-width="1.8"/><path d="M151 416 l4.3 -16.6" stroke="#74a82c" stroke-opacity="0.52" stroke-width="2.6"/><path d="M435 153 l-1.1 -5.3" stroke="#1c3604" stroke-opacity="0.29" stroke-width="1.0"/><path d="M34 308 l-0.4 -10.0" stroke="#74a82c" stroke-opacity="0.32" stroke-width="2.0"/><path d="M451 412 l-4.1 -16.0" stroke="#74a82c" stroke-opacity="0.40" stroke-width="2.6"/><path d="M60 237 l-3.0 -10.7" stroke="#80b434" stroke-opacity="0.24" stroke-width="1.5"/><path d="M51 497 l3.6 -23.1" stroke="#80b434" stroke-opacity="0.51" stroke-width="3.1"/><path d="M550 536 l-8.5 -35.2" stroke="#284a08" stroke-opacity="0.47" stroke-width="3.4"/><path d="M207 315 l4.3 -13.0" stroke="#284a08" stroke-opacity="0.46" stroke-width="2.0"/><path d="M558 286 l4.0 -11.6" stroke="#284a08" stroke-opacity="0.45" stroke-width="1.8"/><path d="M532 396 l1.1 -19.1" stroke="#1c3604" stroke-opacity="0.39" stroke-width="2.5"/><path d="M261 180 l-1.9 -8.0" stroke="#80b434" stroke-opacity="0.32" stroke-width="1.2"/><path d="M612 450 l-0.5 -28.0" stroke="#284a08" stroke-opacity="0.43" stroke-width="2.8"/><path d="M244 185 l1.8 -6.6" stroke="#284a08" stroke-opacity="0.26" stroke-width="1.2"/><path d="M356 345 l-1.8 -13.1" stroke="#203c05" stroke-opacity="0.40" stroke-width="2.2"/><path d="M153 148 l-1.0 -7.4" stroke="#74a82c" stroke-opacity="0.32" stroke-width="1.0"/><path d="M274 224 l-0.2 -5.4" stroke="#203c05" stroke-opacity="0.23" stroke-width="1.4"/><path d="M606 178 l-2.1 -8.5" stroke="#203c05" stroke-opacity="0.29" stroke-width="1.2"/><path d="M410 291 l-0.8 -13.8" stroke="#284a08" stroke-opacity="0.30" stroke-width="1.9"/><path d="M65 455 l-3.1 -21.4" stroke="#203c05" stroke-opacity="0.35" stroke-width="2.9"/><path d="M196 166 l2.2 -9.2" stroke="#284a08" stroke-opacity="0.26" stroke-width="1.1"/><path d="M137 246 l-0.5 -9.1" stroke="#1c3604" stroke-opacity="0.27" stroke-width="1.6"/><path d="M374 537 l11.3 -37.9" stroke="#284a08" stroke-opacity="0.48" stroke-width="3.4"/><path d="M497 246 l-0.4 -7.2" stroke="#1c3604" stroke-opacity="0.30" stroke-width="1.6"/><path d="M219 392 l0.3 -13.1" stroke="#2f560b" stroke-opacity="0.42" stroke-width="2.5"/><path d="M264 350 l-0.9 -9.9" stroke="#74a82c" stroke-opacity="0.36" stroke-width="2.2"/><path d="M347 519 l-2.9 -32.6" stroke="#203c05" stroke-opacity="0.58" stroke-width="3.3"/><path d="M397 123 l0.6 -8.8" stroke="#74a82c" stroke-opacity="0.32" stroke-width="0.8"/><path d="M513 208 l-1.4 -5.1" stroke="#74a82c" stroke-opacity="0.21" stroke-width="1.3"/><path d="M163 159 l-0.3 -5.6" stroke="#74a82c" stroke-opacity="0.25" stroke-width="1.0"/><path d="M456 240 l1.7 -7.2" stroke="#74a82c" stroke-opacity="0.23" stroke-width="1.5"/><path d="M97 183 l2.1 -5.9" stroke="#1c3604" stroke-opacity="0.20" stroke-width="1.2"/><path d="M369 382 l-6.4 -19.1" stroke="#80b434" stroke-opacity="0.46" stroke-width="2.4"/><path d="M-6 364 l1.9 -15.2" stroke="#284a08" stroke-opacity="0.33" stroke-width="2.3"/><path d="M460 155 l0.6 -4.9" stroke="#284a08" stroke-opacity="0.26" stroke-width="1.0"/><path d="M489 497 l-3.5 -34.9" stroke="#203c05" stroke-opacity="0.52" stroke-width="3.1"/><path d="M262 415 l-5.6 -20.8" stroke="#2f560b" stroke-opacity="0.35" stroke-width="2.6"/><path d="M86 256 l-1.7 -10.5" stroke="#1c3604" stroke-opacity="0.24" stroke-width="1.6"/><path d="M249 301 l-0.1 -13.4" stroke="#80b434" stroke-opacity="0.42" stroke-width="1.9"/><path d="M320 335 l2.8 -14.9" stroke="#74a82c" stroke-opacity="0.32" stroke-width="2.1"/><path d="M102 265 l0.1 -8.8" stroke="#1c3604" stroke-opacity="0.33" stroke-width="1.7"/><path d="M307 367 l2.0 -13.7" stroke="#1c3604" stroke-opacity="0.36" stroke-width="2.3"/><path d="M150 413 l1.0 -19.2" stroke="#74a82c" stroke-opacity="0.51" stroke-width="2.6"/><path d="M165 457 l4.9 -17.0" stroke="#284a08" stroke-opacity="0.46" stroke-width="2.9"/><path d="M614 530 l-5.4 -28.9" stroke="#203c05" stroke-opacity="0.41" stroke-width="3.3"/><path d="M571 249 l0.3 -6.8" stroke="#203c05" stroke-opacity="0.32" stroke-width="1.6"/><path d="M296 326 l-1.9 -13.9" stroke="#2f560b" stroke-opacity="0.43" stroke-width="2.1"/><path d="M127 212 l-2.1 -7.9" stroke="#2f560b" stroke-opacity="0.32" stroke-width="1.4"/><path d="M624 498 l7.8 -24.7" stroke="#80b434" stroke-opacity="0.54" stroke-width="3.1"/><path d="M560 375 l-1.5 -14.9" stroke="#2f560b" stroke-opacity="0.41" stroke-width="2.4"/><path d="M191 226 l-0.1 -6.3" stroke="#74a82c" stroke-opacity="0.22" stroke-width="1.5"/><path d="M637 453 l4.2 -18.5" stroke="#203c05" stroke-opacity="0.52" stroke-width="2.9"/><path d="M363 376 l1.9 -16.8" stroke="#203c05" stroke-opacity="0.46" stroke-width="2.4"/><path d="M27 229 l2.0 -10.1" stroke="#2f560b" stroke-opacity="0.31" stroke-width="1.5"/><path d="M227 408 l-2.8 -17.7" stroke="#80b434" stroke-opacity="0.39" stroke-width="2.6"/><path d="M642 218 l0.7 -6.3" stroke="#284a08" stroke-opacity="0.27" stroke-width="1.4"/><path d="M630 121 l-0.8 -8.8" stroke="#74a82c" stroke-opacity="0.33" stroke-width="0.8"/><path d="M447 146 l0.2 -4.4" stroke="#80b434" stroke-opacity="0.36" stroke-width="1.0"/><path d="M621 529 l3.6 -28.3" stroke="#284a08" stroke-opacity="0.50" stroke-width="3.3"/><path d="M332 269 l-0.5 -8.5" stroke="#1c3604" stroke-opacity="0.28" stroke-width="1.7"/><path d="M10 411 l-6.9 -24.1" stroke="#74a82c" stroke-opacity="0.37" stroke-width="2.6"/><path d="M177 212 l1.6 -6.0" stroke="#2f560b" stroke-opacity="0.38" stroke-width="1.4"/><path d="M4 513 l3.8 -29.0" stroke="#203c05" stroke-opacity="0.56" stroke-width="3.2"/><path d="M106 253 l2.8 -9.6" stroke="#284a08" stroke-opacity="0.25" stroke-width="1.6"/><path d="M647 485 l3.5 -15.2" stroke="#80b434" stroke-opacity="0.49" stroke-width="3.1"/><path d="M516 476 l-1.7 -18.6" stroke="#2f560b" stroke-opacity="0.56" stroke-width="3.0"/><path d="M270 470 l-6.9 -20.2" stroke="#2f560b" stroke-opacity="0.41" stroke-width="3.0"/><path d="M351 366 l-0.5 -15.1" stroke="#2f560b" stroke-opacity="0.48" stroke-width="2.3"/><path d="M128 294 l-1.8 -9.0" stroke="#74a82c" stroke-opacity="0.29" stroke-width="1.9"/><path d="M409 405 l1.0 -18.7" stroke="#284a08" stroke-opacity="0.36" stroke-width="2.6"/><path d="M197 218 l0.9 -7.2" stroke="#2f560b" stroke-opacity="0.32" stroke-width="1.4"/><path d="M514 153 l-0.3 -5.3" stroke="#2f560b" stroke-opacity="0.24" stroke-width="1.0"/><path d="M615 270 l-3.0 -11.7" stroke="#80b434" stroke-opacity="0.40" stroke-width="1.7"/><path d="M532 262 l0.5 -8.2" stroke="#80b434" stroke-opacity="0.25" stroke-width="1.7"/><path d="M616 529 l5.8 -18.2" stroke="#1c3604" stroke-opacity="0.58" stroke-width="3.3"/><path d="M131 180 l2.7 -9.1" stroke="#74a82c" stroke-opacity="0.21" stroke-width="1.2"/><path d="M541 177 l-1.1 -5.9" stroke="#80b434" stroke-opacity="0.32" stroke-width="1.2"/><path d="M488 491 l-2.4 -26.7" stroke="#284a08" stroke-opacity="0.56" stroke-width="3.1"/><path d="M587 182 l1.2 -9.5" stroke="#284a08" stroke-opacity="0.25" stroke-width="1.2"/><path d="M74 197 l0.4 -7.5" stroke="#203c05" stroke-opacity="0.25" stroke-width="1.3"/><path d="M438 159 l1.5 -4.4" stroke="#80b434" stroke-opacity="0.27" stroke-width="1.0"/><path d="M217 187 l1.5 -7.4" stroke="#203c05" stroke-opacity="0.28" stroke-width="1.2"/><path d="M570 373 l4.0 -12.8" stroke="#80b434" stroke-opacity="0.31" stroke-width="2.4"/><path d="M265 440 l-3.3 -14.3" stroke="#80b434" stroke-opacity="0.51" stroke-width="2.8"/><path d="M7 524 l2.9 -36.8" stroke="#284a08" stroke-opacity="0.48" stroke-width="3.3"/><path d="M0 197 l-1.0 -6.0" stroke="#203c05" stroke-opacity="0.31" stroke-width="1.3"/><path d="M162 409 l-4.0 -15.9" stroke="#203c05" stroke-opacity="0.44" stroke-width="2.6"/><path d="M361 295 l2.9 -9.9" stroke="#2f560b" stroke-opacity="0.39" stroke-width="1.9"/><path d="M601 381 l0.7 -16.3" stroke="#74a82c" stroke-opacity="0.46" stroke-width="2.4"/><path d="M205 512 l3.7 -26.0" stroke="#74a82c" stroke-opacity="0.44" stroke-width="3.2"/><path d="M461 161 l-0.0 -6.0" stroke="#203c05" stroke-opacity="0.30" stroke-width="1.1"/><path d="M445 408 l4.2 -17.3" stroke="#203c05" stroke-opacity="0.41" stroke-width="2.6"/><path d="M331 158 l2.2 -6.6" stroke="#74a82c" stroke-opacity="0.28" stroke-width="1.0"/><path d="M182 141 l-0.3 -4.3" stroke="#284a08" stroke-opacity="0.21" stroke-width="0.9"/><path d="M336 499 l8.3 -26.6" stroke="#1c3604" stroke-opacity="0.55" stroke-width="3.1"/><path d="M207 184 l2.4 -7.9" stroke="#80b434" stroke-opacity="0.23" stroke-width="1.2"/><path d="M541 470 l4.1 -31.4" stroke="#80b434" stroke-opacity="0.50" stroke-width="3.0"/><path d="M540 460 l-3.4 -24.7" stroke="#2f560b" stroke-opacity="0.36" stroke-width="2.9"/><path d="M646 460 l2.3 -22.6" stroke="#80b434" stroke-opacity="0.53" stroke-width="2.9"/><path d="M432 512 l-7.7 -28.1" stroke="#74a82c" stroke-opacity="0.56" stroke-width="3.2"/><path d="M118 250 l3.5 -10.3" stroke="#203c05" stroke-opacity="0.36" stroke-width="1.6"/><path d="M449 435 l-1.4 -18.6" stroke="#284a08" stroke-opacity="0.45" stroke-width="2.7"/><path d="M428 516 l-2.6 -25.8" stroke="#284a08" stroke-opacity="0.56" stroke-width="3.3"/><path d="M662 330 l-3.1 -11.7" stroke="#2f560b" stroke-opacity="0.38" stroke-width="2.1"/><path d="M177 253 l1.0 -7.6" stroke="#284a08" stroke-opacity="0.30" stroke-width="1.6"/><path d="M615 509 l2.8 -33.9" stroke="#1c3604" stroke-opacity="0.54" stroke-width="3.2"/><path d="M182 260 l-3.0 -9.3" stroke="#80b434" stroke-opacity="0.34" stroke-width="1.7"/><path d="M501 319 l0.5 -9.3" stroke="#2f560b" stroke-opacity="0.36" stroke-width="2.0"/><path d="M223 287 l3.0 -12.0" stroke="#80b434" stroke-opacity="0.36" stroke-width="1.8"/><path d="M621 210 l-2.8 -9.4" stroke="#1c3604" stroke-opacity="0.29" stroke-width="1.4"/><path d="M513 408 l5.9 -19.4" stroke="#74a82c" stroke-opacity="0.44" stroke-width="2.6"/><path d="M-2 296 l2.6 -7.5" stroke="#203c05" stroke-opacity="0.28" stroke-width="1.9"/><path d="M177 352 l-2.1 -16.3" stroke="#80b434" stroke-opacity="0.30" stroke-width="2.2"/><path d="M32 144 l-1.9 -9.0" stroke="#74a82c" stroke-opacity="0.34" stroke-width="1.0"/><path d="M39 144 l-0.2 -5.4" stroke="#2f560b" stroke-opacity="0.36" stroke-width="0.9"/><path d="M528 329 l-2.3 -12.7" stroke="#203c05" stroke-opacity="0.36" stroke-width="2.1"/><path d="M377 157 l-0.4 -5.4" stroke="#1c3604" stroke-opacity="0.19" stroke-width="1.0"/><path d="M311 284 l2.4 -9.6" stroke="#1c3604" stroke-opacity="0.45" stroke-width="1.8"/><path d="M625 487 l-7.7 -23.0" stroke="#80b434" stroke-opacity="0.47" stroke-width="3.1"/><path d="M264 292 l2.4 -11.7" stroke="#80b434" stroke-opacity="0.31" stroke-width="1.9"/><path d="M445 207 l-1.2 -6.0" stroke="#284a08" stroke-opacity="0.28" stroke-width="1.3"/><path d="M520 248 l2.2 -8.4" stroke="#1c3604" stroke-opacity="0.36" stroke-width="1.6"/><path d="M336 405 l6.2 -23.0" stroke="#284a08" stroke-opacity="0.47" stroke-width="2.6"/><path d="M487 244 l1.3 -11.1" stroke="#1c3604" stroke-opacity="0.27" stroke-width="1.6"/><path d="M402 245 l1.1 -6.7" stroke="#203c05" stroke-opacity="0.37" stroke-width="1.6"/><path d="M275 127 l0.6 -7.8" stroke="#2f560b" stroke-opacity="0.33" stroke-width="0.8"/><path d="M646 246 l-0.0 -9.8" stroke="#284a08" stroke-opacity="0.39" stroke-width="1.6"/><path d="M258 472 l4.9 -26.8" stroke="#80b434" stroke-opacity="0.43" stroke-width="3.0"/><path d="M166 321 l-3.0 -12.5" stroke="#284a08" stroke-opacity="0.30" stroke-width="2.0"/><path d="M213 448 l-4.4 -27.7" stroke="#203c05" stroke-opacity="0.41" stroke-width="2.8"/><path d="M214 520 l-0.1 -35.8" stroke="#1c3604" stroke-opacity="0.45" stroke-width="3.3"/><path d="M278 459 l-0.6 -21.7" stroke="#203c05" stroke-opacity="0.46" stroke-width="2.9"/><path d="M5 305 l-3.1 -9.8" stroke="#284a08" stroke-opacity="0.32" stroke-width="1.9"/><path d="M463 411 l-2.9 -18.5" stroke="#74a82c" stroke-opacity="0.44" stroke-width="2.6"/><path d="M360 336 l2.4 -11.8" stroke="#80b434" stroke-opacity="0.45" stroke-width="2.1"/><path d="M161 512 l-5.6 -19.1" stroke="#284a08" stroke-opacity="0.53" stroke-width="3.2"/><path d="M326 231 l1.9 -8.5" stroke="#74a82c" stroke-opacity="0.26" stroke-width="1.5"/><path d="M470 415 l-4.2 -21.3" stroke="#1c3604" stroke-opacity="0.47" stroke-width="2.6"/><path d="M619 132 l0.0 -8.0" stroke="#74a82c" stroke-opacity="0.20" stroke-width="0.9"/><path d="M415 214 l-0.7 -6.4" stroke="#1c3604" stroke-opacity="0.38" stroke-width="1.4"/><path d="M115 194 l-0.1 -7.9" stroke="#203c05" stroke-opacity="0.34" stroke-width="1.3"/><path d="M596 211 l-0.9 -9.2" stroke="#2f560b" stroke-opacity="0.30" stroke-width="1.4"/><path d="M573 401 l2.6 -20.8" stroke="#203c05" stroke-opacity="0.32" stroke-width="2.5"/><path d="M397 256 l0.2 -10.3" stroke="#1c3604" stroke-opacity="0.24" stroke-width="1.6"/><path d="M4 163 l-1.2 -7.7" stroke="#80b434" stroke-opacity="0.21" stroke-width="1.1"/><path d="M27 405 l-5.5 -16.4" stroke="#2f560b" stroke-opacity="0.39" stroke-width="2.6"/><path d="M190 225 l-0.8 -6.2" stroke="#203c05" stroke-opacity="0.25" stroke-width="1.4"/><path d="M101 193 l-1.2 -5.3" stroke="#203c05" stroke-opacity="0.37" stroke-width="1.2"/><path d="M417 437 l0.0 -23.1" stroke="#1c3604" stroke-opacity="0.50" stroke-width="2.8"/><path d="M172 272 l3.3 -9.6" stroke="#2f560b" stroke-opacity="0.30" stroke-width="1.7"/><path d="M259 244 l-0.3 -8.5" stroke="#203c05" stroke-opacity="0.26" stroke-width="1.6"/><path d="M564 485 l4.9 -28.4" stroke="#1c3604" stroke-opacity="0.39" stroke-width="3.1"/><path d="M145 331 l3.6 -13.7" stroke="#2f560b" stroke-opacity="0.29" stroke-width="2.1"/><path d="M656 224 l-1.1 -8.2" stroke="#74a82c" stroke-opacity="0.32" stroke-width="1.4"/><path d="M42 536 l-5.7 -23.0" stroke="#1c3604" stroke-opacity="0.54" stroke-width="3.4"/><path d="M297 435 l1.7 -26.9" stroke="#203c05" stroke-opacity="0.46" stroke-width="2.8"/><path d="M109 365 l2.1 -17.2" stroke="#2f560b" stroke-opacity="0.48" stroke-width="2.3"/><path d="M547 394 l1.8 -22.7" stroke="#284a08" stroke-opacity="0.36" stroke-width="2.5"/><path d="M137 396 l-2.0 -17.0" stroke="#203c05" stroke-opacity="0.42" stroke-width="2.5"/><path d="M116 530 l-6.5 -33.5" stroke="#2f560b" stroke-opacity="0.41" stroke-width="3.3"/><path d="M537 134 l-1.6 -4.7" stroke="#2f560b" stroke-opacity="0.34" stroke-width="0.9"/><path d="M665 391 l3.6 -21.3" stroke="#74a82c" stroke-opacity="0.44" stroke-width="2.5"/><path d="M632 378 l-1.1 -13.8" stroke="#80b434" stroke-opacity="0.35" stroke-width="2.4"/><path d="M117 420 l-4.3 -23.5" stroke="#74a82c" stroke-opacity="0.38" stroke-width="2.7"/><path d="M47 204 l-0.5 -6.4" stroke="#80b434" stroke-opacity="0.34" stroke-width="1.3"/><path d="M449 531 l4.3 -27.9" stroke="#1c3604" stroke-opacity="0.40" stroke-width="3.3"/><path d="M393 292 l-2.1 -7.8" stroke="#74a82c" stroke-opacity="0.45" stroke-width="1.9"/><path d="M216 276 l2.4 -8.3" stroke="#2f560b" stroke-opacity="0.28" stroke-width="1.8"/><path d="M442 125 l-0.3 -7.2" stroke="#1c3604" stroke-opacity="0.30" stroke-width="0.8"/><path d="M583 153 l-0.1 -4.3" stroke="#1c3604" stroke-opacity="0.29" stroke-width="1.0"/><path d="M512 433 l3.6 -16.0" stroke="#2f560b" stroke-opacity="0.39" stroke-width="2.7"/><path d="M605 378 l-3.8 -15.4" stroke="#80b434" stroke-opacity="0.31" stroke-width="2.4"/><path d="M403 475 l-5.2 -19.1" stroke="#74a82c" stroke-opacity="0.40" stroke-width="3.0"/><path d="M290 309 l-2.8 -9.3" stroke="#203c05" stroke-opacity="0.42" stroke-width="2.0"/><path d="M249 292 l-3.6 -10.4" stroke="#74a82c" stroke-opacity="0.26" stroke-width="1.9"/><path d="M123 378 l3.0 -11.0" stroke="#203c05" stroke-opacity="0.47" stroke-width="2.4"/><path d="M186 242 l1.8 -8.8" stroke="#74a82c" stroke-opacity="0.41" stroke-width="1.6"/><path d="M438 165 l-1.0 -5.6" stroke="#284a08" stroke-opacity="0.32" stroke-width="1.1"/><path d="M117 508 l6.0 -32.5" stroke="#284a08" stroke-opacity="0.49" stroke-width="3.2"/><path d="M275 171 l1.0 -7.8" stroke="#203c05" stroke-opacity="0.36" stroke-width="1.1"/><path d="M601 362 l2.1 -19.2" stroke="#203c05" stroke-opacity="0.32" stroke-width="2.3"/><path d="M377 290 l-2.9 -9.5" stroke="#80b434" stroke-opacity="0.37" stroke-width="1.8"/><path d="M645 208 l0.8 -6.8" stroke="#284a08" stroke-opacity="0.25" stroke-width="1.3"/><path d="M466 274 l-1.9 -9.1" stroke="#203c05" stroke-opacity="0.36" stroke-width="1.8"/><path d="M69 428 l2.1 -21.7" stroke="#1c3604" stroke-opacity="0.53" stroke-width="2.7"/><path d="M35 388 l-0.2 -15.2" stroke="#80b434" stroke-opacity="0.40" stroke-width="2.5"/><path d="M451 319 l-2.0 -11.0" stroke="#80b434" stroke-opacity="0.42" stroke-width="2.0"/><path d="M460 314 l3.6 -11.1" stroke="#2f560b" stroke-opacity="0.29" stroke-width="2.0"/><path d="M460 372 l0.5 -17.2" stroke="#2f560b" stroke-opacity="0.41" stroke-width="2.4"/><path d="M654 403 l-3.8 -11.6" stroke="#1c3604" stroke-opacity="0.45" stroke-width="2.6"/><path d="M165 228 l2.6 -8.3" stroke="#284a08" stroke-opacity="0.34" stroke-width="1.5"/><path d="M147 131 l-1.3 -4.2" stroke="#203c05" stroke-opacity="0.23" stroke-width="0.9"/><path d="M471 159 l-0.8 -8.6" stroke="#80b434" stroke-opacity="0.32" stroke-width="1.0"/><path d="M370 491 l3.9 -31.3" stroke="#74a82c" stroke-opacity="0.43" stroke-width="3.1"/><path d="M424 445 l-0.2 -14.9" stroke="#74a82c" stroke-opacity="0.44" stroke-width="2.8"/><path d="M98 502 l-2.5 -25.8" stroke="#74a82c" stroke-opacity="0.51" stroke-width="3.2"/><path d="M534 536 l0.1 -28.1" stroke="#74a82c" stroke-opacity="0.48" stroke-width="3.4"/><path d="M322 507 l-2.6 -26.0" stroke="#284a08" stroke-opacity="0.39" stroke-width="3.2"/><path d="M44 288 l-2.5 -10.1" stroke="#1c3604" stroke-opacity="0.27" stroke-width="1.8"/><path d="M92 217 l-0.7 -8.3" stroke="#2f560b" stroke-opacity="0.35" stroke-width="1.4"/><path d="M106 121 l-1.3 -4.7" stroke="#80b434" stroke-opacity="0.30" stroke-width="0.8"/><path d="M96 358 l3.8 -11.3" stroke="#74a82c" stroke-opacity="0.48" stroke-width="2.3"/><path d="M89 261 l-3.1 -9.7" stroke="#80b434" stroke-opacity="0.30" stroke-width="1.7"/><path d="M621 289 l3.7 -12.7" stroke="#2f560b" stroke-opacity="0.34" stroke-width="1.8"/><path d="M619 246 l-2.2 -7.5" stroke="#2f560b" stroke-opacity="0.42" stroke-width="1.6"/><path d="M210 380 l4.1 -19.9" stroke="#284a08" stroke-opacity="0.47" stroke-width="2.4"/><path d="M569 220 l-1.2 -8.0" stroke="#2f560b" stroke-opacity="0.32" stroke-width="1.4"/><path d="M106 253 l-1.2 -10.7" stroke="#1c3604" stroke-opacity="0.40" stroke-width="1.6"/><path d="M144 514 l-4.8 -25.5" stroke="#2f560b" stroke-opacity="0.55" stroke-width="3.2"/><path d="M432 328 l-2.5 -11.1" stroke="#203c05" stroke-opacity="0.40" stroke-width="2.1"/><path d="M472 174 l1.4 -7.4" stroke="#203c05" stroke-opacity="0.34" stroke-width="1.1"/><path d="M287 449 l7.4 -25.7" stroke="#74a82c" stroke-opacity="0.37" stroke-width="2.8"/><path d="M309 225 l1.1 -8.0" stroke="#2f560b" stroke-opacity="0.38" stroke-width="1.5"/><path d="M431 282 l-2.3 -8.3" stroke="#2f560b" stroke-opacity="0.43" stroke-width="1.8"/><path d="M250 247 l0.6 -6.1" stroke="#80b434" stroke-opacity="0.24" stroke-width="1.6"/><path d="M511 227 l-0.7 -7.2" stroke="#1c3604" stroke-opacity="0.40" stroke-width="1.5"/><path d="M630 456 l-0.3 -20.9" stroke="#2f560b" stroke-opacity="0.48" stroke-width="2.9"/><path d="M214 457 l-4.6 -15.5" stroke="#80b434" stroke-opacity="0.47" stroke-width="2.9"/><path d="M301 126 l-2.3 -7.0" stroke="#1c3604" stroke-opacity="0.24" stroke-width="0.8"/><path d="M81 228 l1.2 -9.0" stroke="#284a08" stroke-opacity="0.24" stroke-width="1.5"/><path d="M52 459 l-4.9 -17.2" stroke="#1c3604" stroke-opacity="0.48" stroke-width="2.9"/><path d="M207 246 l-2.1 -7.3" stroke="#1c3604" stroke-opacity="0.35" stroke-width="1.6"/><path d="M524 319 l0.2 -11.2" stroke="#1c3604" stroke-opacity="0.43" stroke-width="2.0"/><path d="M604 433 l4.4 -23.9" stroke="#1c3604" stroke-opacity="0.35" stroke-width="2.7"/><path d="M22 181 l-0.7 -5.5" stroke="#1c3604" stroke-opacity="0.21" stroke-width="1.2"/><path d="M384 191 l-2.2 -7.9" stroke="#74a82c" stroke-opacity="0.35" stroke-width="1.2"/><path d="M366 120 l-1.3 -4.5" stroke="#74a82c" stroke-opacity="0.28" stroke-width="0.8"/><path d="M510 400 l1.5 -14.1" stroke="#1c3604" stroke-opacity="0.41" stroke-width="2.5"/><path d="M453 228 l-1.2 -5.6" stroke="#203c05" stroke-opacity="0.32" stroke-width="1.5"/><path d="M649 326 l1.0 -11.5" stroke="#1c3604" stroke-opacity="0.44" stroke-width="2.1"/><path d="M112 530 l11.2 -36.8" stroke="#2f560b" stroke-opacity="0.52" stroke-width="3.3"/><path d="M283 274 l-3.7 -10.7" stroke="#2f560b" stroke-opacity="0.42" stroke-width="1.8"/><path d="M185 158 l-0.9 -8.4" stroke="#1c3604" stroke-opacity="0.18" stroke-width="1.0"/><path d="M535 446 l7.0 -26.5" stroke="#203c05" stroke-opacity="0.48" stroke-width="2.8"/><path d="M351 185 l0.3 -7.6" stroke="#1c3604" stroke-opacity="0.32" stroke-width="1.2"/><path d="M231 214 l-1.4 -5.3" stroke="#2f560b" stroke-opacity="0.22" stroke-width="1.4"/><path d="M414 408 l-1.6 -14.0" stroke="#1c3604" stroke-opacity="0.47" stroke-width="2.6"/><path d="M487 217 l-1.9 -8.8" stroke="#74a82c" stroke-opacity="0.30" stroke-width="1.4"/><path d="M567 158 l-1.3 -4.4" stroke="#284a08" stroke-opacity="0.33" stroke-width="1.0"/><path d="M546 230 l3.3 -10.4" stroke="#284a08" stroke-opacity="0.25" stroke-width="1.5"/><path d="M128 536 l-3.3 -24.2" stroke="#1c3604" stroke-opacity="0.41" stroke-width="3.4"/><path d="M209 367 l2.6 -12.1" stroke="#284a08" stroke-opacity="0.31" stroke-width="2.3"/><path d="M191 240 l0.6 -8.8" stroke="#1c3604" stroke-opacity="0.24" stroke-width="1.5"/><path d="M492 223 l-2.1 -6.8" stroke="#284a08" stroke-opacity="0.27" stroke-width="1.4"/><path d="M190 234 l-1.0 -10.4" stroke="#1c3604" stroke-opacity="0.35" stroke-width="1.5"/><path d="M327 261 l-2.5 -8.1" stroke="#74a82c" stroke-opacity="0.39" stroke-width="1.7"/><path d="M153 186 l1.4 -8.7" stroke="#284a08" stroke-opacity="0.26" stroke-width="1.2"/><path d="M351 306 l1.5 -7.3" stroke="#203c05" stroke-opacity="0.39" stroke-width="2.0"/><path d="M255 161 l1.8 -5.6" stroke="#80b434" stroke-opacity="0.35" stroke-width="1.1"/><path d="M452 425 l1.1 -19.3" stroke="#203c05" stroke-opacity="0.43" stroke-width="2.7"/><path d="M622 535 l1.0 -38.0" stroke="#203c05" stroke-opacity="0.58" stroke-width="3.4"/><path d="M316 141 l-1.4 -6.0" stroke="#203c05" stroke-opacity="0.22" stroke-width="0.9"/><path d="M511 497 l5.8 -26.0" stroke="#1c3604" stroke-opacity="0.38" stroke-width="3.1"/><path d="M493 214 l-1.6 -9.9" stroke="#284a08" stroke-opacity="0.29" stroke-width="1.4"/><path d="M628 314 l-3.8 -12.9" stroke="#1c3604" stroke-opacity="0.36" stroke-width="2.0"/><path d="M62 262 l-3.2 -12.2" stroke="#1c3604" stroke-opacity="0.26" stroke-width="1.7"/><path d="M334 352 l0.1 -11.5" stroke="#203c05" stroke-opacity="0.38" stroke-width="2.2"/><path d="M635 370 l4.6 -20.1" stroke="#2f560b" stroke-opacity="0.44" stroke-width="2.3"/><path d="M616 203 l0.8 -7.5" stroke="#74a82c" stroke-opacity="0.26" stroke-width="1.3"/><path d="M52 128 l1.2 -5.1" stroke="#284a08" stroke-opacity="0.29" stroke-width="0.9"/><path d="M71 162 l0.2 -4.7" stroke="#1c3604" stroke-opacity="0.37" stroke-width="1.1"/><path d="M482 528 l6.3 -33.7" stroke="#203c05" stroke-opacity="0.55" stroke-width="3.3"/><path d="M403 521 l-8.6 -33.8" stroke="#74a82c" stroke-opacity="0.58" stroke-width="3.3"/><path d="M145 209 l3.1 -10.3" stroke="#1c3604" stroke-opacity="0.37" stroke-width="1.3"/><path d="M379 465 l5.6 -23.7" stroke="#284a08" stroke-opacity="0.36" stroke-width="2.9"/><path d="M491 146 l2.3 -6.6" stroke="#1c3604" stroke-opacity="0.34" stroke-width="1.0"/><path d="M208 204 l2.3 -6.8" stroke="#1c3604" stroke-opacity="0.34" stroke-width="1.3"/><path d="M307 457 l2.5 -19.9" stroke="#203c05" stroke-opacity="0.49" stroke-width="2.9"/><path d="M667 186 l-2.4 -9.3" stroke="#1c3604" stroke-opacity="0.35" stroke-width="1.2"/><path d="M82 368 l2.5 -17.6" stroke="#2f560b" stroke-opacity="0.44" stroke-width="2.3"/><path d="M233 378 l1.3 -11.5" stroke="#284a08" stroke-opacity="0.47" stroke-width="2.4"/><path d="M26 351 l-4.0 -13.5" stroke="#1c3604" stroke-opacity="0.38" stroke-width="2.2"/><path d="M411 126 l0.6 -7.2" stroke="#74a82c" stroke-opacity="0.17" stroke-width="0.8"/><path d="M212 391 l-3.4 -16.3" stroke="#284a08" stroke-opacity="0.47" stroke-width="2.5"/><path d="M307 536 l-10.3 -30.0" stroke="#74a82c" stroke-opacity="0.58" stroke-width="3.4"/><path d="M381 145 l1.5 -5.6" stroke="#203c05" stroke-opacity="0.23" stroke-width="1.0"/><path d="M75 286 l2.2 -10.5" stroke="#74a82c" stroke-opacity="0.37" stroke-width="1.8"/><path d="M385 407 l0.2 -15.1" stroke="#1c3604" stroke-opacity="0.50" stroke-width="2.6"/><path d="M325 242 l0.2 -8.3" stroke="#284a08" stroke-opacity="0.30" stroke-width="1.6"/><path d="M643 495 l11.1 -31.9" stroke="#2f560b" stroke-opacity="0.55" stroke-width="3.1"/><path d="M28 431 l4.9 -20.6" stroke="#203c05" stroke-opacity="0.49" stroke-width="2.7"/><path d="M379 186 l-2.0 -7.8" stroke="#74a82c" stroke-opacity="0.29" stroke-width="1.2"/><path d="M663 233 l0.8 -7.0" stroke="#74a82c" stroke-opacity="0.24" stroke-width="1.5"/><path d="M301 192 l2.3 -7.0" stroke="#203c05" stroke-opacity="0.39" stroke-width="1.2"/><path d="M622 493 l-8.4 -29.4" stroke="#203c05" stroke-opacity="0.53" stroke-width="3.1"/><path d="M342 323 l1.8 -11.7" stroke="#203c05" stroke-opacity="0.27" stroke-width="2.1"/><path d="M32 453 l-0.1 -27.5" stroke="#1c3604" stroke-opacity="0.45" stroke-width="2.9"/><path d="M174 308 l-0.2 -10.1" stroke="#284a08" stroke-opacity="0.33" stroke-width="2.0"/><path d="M274 194 l-2.2 -8.6" stroke="#203c05" stroke-opacity="0.30" stroke-width="1.3"/><path d="M187 236 l1.9 -10.0" stroke="#74a82c" stroke-opacity="0.26" stroke-width="1.5"/><path d="M59 506 l6.4 -33.0" stroke="#1c3604" stroke-opacity="0.39" stroke-width="3.2"/><path d="M24 189 l2.5 -7.8" stroke="#74a82c" stroke-opacity="0.25" stroke-width="1.2"/><path d="M2 155 l0.5 -8.4" stroke="#1c3604" stroke-opacity="0.24" stroke-width="1.0"/><path d="M205 519 l-8.5 -30.4" stroke="#284a08" stroke-opacity="0.46" stroke-width="3.3"/><path d="M343 380 l-1.4 -11.6" stroke="#80b434" stroke-opacity="0.35" stroke-width="2.4"/><path d="M335 244 l-1.6 -7.9" stroke="#1c3604" stroke-opacity="0.23" stroke-width="1.6"/><path d="M614 275 l-2.3 -7.0" stroke="#74a82c" stroke-opacity="0.42" stroke-width="1.8"/><path d="M22 484 l5.6 -22.8" stroke="#2f560b" stroke-opacity="0.39" stroke-width="3.1"/><path d="M29 344 l-2.5 -14.8" stroke="#284a08" stroke-opacity="0.33" stroke-width="2.2"/><path d="M534 285 l0.2 -7.9" stroke="#80b434" stroke-opacity="0.34" stroke-width="1.8"/><path d="M323 180 l2.3 -9.2" stroke="#2f560b" stroke-opacity="0.30" stroke-width="1.2"/><path d="M466 158 l-1.6 -6.2" stroke="#80b434" stroke-opacity="0.34" stroke-width="1.0"/><path d="M257 490 l3.5 -22.4" stroke="#203c05" stroke-opacity="0.41" stroke-width="3.1"/><path d="M77 122 l0.3 -4.4" stroke="#1c3604" stroke-opacity="0.23" stroke-width="0.8"/><path d="M-0 522 l-3.2 -18.7" stroke="#203c05" stroke-opacity="0.42" stroke-width="3.3"/><path d="M89 248 l2.0 -7.8" stroke="#80b434" stroke-opacity="0.40" stroke-width="1.6"/><path d="M598 398 l2.5 -15.4" stroke="#2f560b" stroke-opacity="0.38" stroke-width="2.5"/><path d="M295 205 l-1.8 -7.2" stroke="#74a82c" stroke-opacity="0.29" stroke-width="1.3"/><path d="M655 484 l9.4 -31.5" stroke="#74a82c" stroke-opacity="0.43" stroke-width="3.1"/><path d="M668 352 l1.4 -16.2" stroke="#203c05" stroke-opacity="0.40" stroke-width="2.2"/><path d="M307 147 l1.0 -4.5" stroke="#80b434" stroke-opacity="0.18" stroke-width="1.0"/><path d="M336 279 l-3.4 -12.7" stroke="#203c05" stroke-opacity="0.33" stroke-width="1.8"/><path d="M305 181 l-1.4 -4.7" stroke="#1c3604" stroke-opacity="0.21" stroke-width="1.2"/><path d="M43 164 l0.6 -4.6" stroke="#74a82c" stroke-opacity="0.36" stroke-width="1.1"/><path d="M638 378 l-5.4 -16.3" stroke="#74a82c" stroke-opacity="0.39" stroke-width="2.4"/><path d="M637 475 l-6.5 -20.6" stroke="#203c05" stroke-opacity="0.43" stroke-width="3.0"/><path d="M341 475 l-1.2 -19.4" stroke="#284a08" stroke-opacity="0.52" stroke-width="3.0"/><path d="M95 486 l-4.2 -23.5" stroke="#203c05" stroke-opacity="0.41" stroke-width="3.1"/><path d="M353 531 l-5.3 -31.8" stroke="#2f560b" stroke-opacity="0.45" stroke-width="3.3"/><path d="M455 485 l7.7 -24.3" stroke="#203c05" stroke-opacity="0.37" stroke-width="3.1"/><path d="M16 455 l1.5 -26.4" stroke="#2f560b" stroke-opacity="0.40" stroke-width="2.9"/><path d="M523 162 l-0.8 -5.0" stroke="#74a82c" stroke-opacity="0.35" stroke-width="1.1"/><path d="M421 120 l0.4 -7.6" stroke="#2f560b" stroke-opacity="0.27" stroke-width="0.8"/><path d="M212 365 l-2.6 -14.5" stroke="#80b434" stroke-opacity="0.37" stroke-width="2.3"/><path d="M589 190 l-2.1 -7.8" stroke="#2f560b" stroke-opacity="0.36" stroke-width="1.2"/><path d="M345 350 l1.8 -14.5" stroke="#203c05" stroke-opacity="0.44" stroke-width="2.2"/><path d="M191 370 l-3.9 -14.1" stroke="#74a82c" stroke-opacity="0.30" stroke-width="2.4"/><path d="M626 287 l0.9 -11.6" stroke="#80b434" stroke-opacity="0.29" stroke-width="1.8"/><path d="M129 237 l0.1 -6.2" stroke="#2f560b" stroke-opacity="0.34" stroke-width="1.5"/><path d="M536 407 l-4.8 -18.9" stroke="#203c05" stroke-opacity="0.41" stroke-width="2.6"/><path d="M138 409 l6.6 -19.9" stroke="#203c05" stroke-opacity="0.38" stroke-width="2.6"/><path d="M133 437 l-0.1 -22.2" stroke="#80b434" stroke-opacity="0.45" stroke-width="2.8"/><path d="M90 270 l-1.1 -9.6" stroke="#2f560b" stroke-opacity="0.32" stroke-width="1.7"/><path d="M2 157 l0.6 -7.2" stroke="#1c3604" stroke-opacity="0.37" stroke-width="1.0"/><path d="M565 324 l3.0 -12.4" stroke="#74a82c" stroke-opacity="0.29" stroke-width="2.1"/><path d="M473 403 l-0.3 -21.4" stroke="#2f560b" stroke-opacity="0.40" stroke-width="2.6"/><path d="M194 380 l2.3 -10.7" stroke="#2f560b" stroke-opacity="0.34" stroke-width="2.4"/><path d="M674 337 l-4.4 -12.8" stroke="#2f560b" stroke-opacity="0.46" stroke-width="2.1"/><path d="M427 308 l-1.0 -9.8" stroke="#1c3604" stroke-opacity="0.32" stroke-width="2.0"/><path d="M411 450 l-9.6 -27.6" stroke="#203c05" stroke-opacity="0.47" stroke-width="2.8"/><path d="M645 256 l0.3 -9.0" stroke="#203c05" stroke-opacity="0.24" stroke-width="1.6"/><path d="M324 392 l-2.4 -12.7" stroke="#1c3604" stroke-opacity="0.36" stroke-width="2.5"/><path d="M599 267 l0.9 -9.6" stroke="#2f560b" stroke-opacity="0.28" stroke-width="1.7"/><path d="M365 530 l3.6 -23.9" stroke="#1c3604" stroke-opacity="0.49" stroke-width="3.3"/><path d="M407 537 l9.9 -28.5" stroke="#1c3604" stroke-opacity="0.48" stroke-width="3.4"/><path d="M349 363 l4.8 -15.2" stroke="#80b434" stroke-opacity="0.33" stroke-width="2.3"/><path d="M75 270 l3.0 -10.6" stroke="#284a08" stroke-opacity="0.40" stroke-width="1.7"/><path d="M62 509 l-4.2 -34.9" stroke="#80b434" stroke-opacity="0.39" stroke-width="3.2"/><path d="M327 252 l2.9 -11.5" stroke="#203c05" stroke-opacity="0.25" stroke-width="1.6"/><path d="M401 134 l1.0 -6.4" stroke="#1c3604" stroke-opacity="0.34" stroke-width="0.9"/><path d="M127 323 l-2.1 -13.5" stroke="#203c05" stroke-opacity="0.28" stroke-width="2.1"/><path d="M28 378 l-3.9 -13.9" stroke="#284a08" stroke-opacity="0.44" stroke-width="2.4"/><path d="M505 366 l5.6 -16.1" stroke="#1c3604" stroke-opacity="0.34" stroke-width="2.3"/><path d="M162 383 l5.2 -21.0" stroke="#284a08" stroke-opacity="0.32" stroke-width="2.4"/><path d="M124 348 l-0.5 -14.0" stroke="#2f560b" stroke-opacity="0.38" stroke-width="2.2"/><path d="M370 482 l-5.5 -26.3" stroke="#1c3604" stroke-opacity="0.52" stroke-width="3.0"/><path d="M525 224 l0.0 -5.5" stroke="#2f560b" stroke-opacity="0.34" stroke-width="1.4"/><path d="M-5 226 l1.3 -7.9" stroke="#80b434" stroke-opacity="0.30" stroke-width="1.5"/><path d="M328 443 l1.7 -15.7" stroke="#74a82c" stroke-opacity="0.48" stroke-width="2.8"/><path d="M350 253 l1.5 -8.0" stroke="#284a08" stroke-opacity="0.39" stroke-width="1.6"/><path d="M559 246 l2.3 -8.6" stroke="#284a08" stroke-opacity="0.27" stroke-width="1.6"/><path d="M286 371 l3.1 -15.5" stroke="#203c05" stroke-opacity="0.44" stroke-width="2.4"/><path d="M405 327 l0.9 -13.2" stroke="#284a08" stroke-opacity="0.42" stroke-width="2.1"/><path d="M422 186 l-1.3 -5.0" stroke="#284a08" stroke-opacity="0.22" stroke-width="1.2"/><path d="M198 354 l-0.0 -16.7" stroke="#2f560b" stroke-opacity="0.30" stroke-width="2.2"/><path d="M36 442 l4.2 -22.5" stroke="#2f560b" stroke-opacity="0.43" stroke-width="2.8"/><path d="M381 127 l-1.0 -4.9" stroke="#2f560b" stroke-opacity="0.21" stroke-width="0.8"/><path d="M329 451 l1.2 -22.7" stroke="#1c3604" stroke-opacity="0.43" stroke-width="2.8"/><path d="M355 474 l7.4 -32.3" stroke="#80b434" stroke-opacity="0.54" stroke-width="3.0"/><path d="M392 342 l0.9 -9.8" stroke="#2f560b" stroke-opacity="0.39" stroke-width="2.2"/><path d="M284 375 l1.7 -12.6" stroke="#2f560b" stroke-opacity="0.37" stroke-width="2.4"/><path d="M297 252 l1.6 -8.8" stroke="#203c05" stroke-opacity="0.39" stroke-width="1.6"/><path d="M657 425 l1.9 -18.3" stroke="#74a82c" stroke-opacity="0.37" stroke-width="2.7"/><path d="M150 233 l-1.5 -9.6" stroke="#74a82c" stroke-opacity="0.35" stroke-width="1.5"/><path d="M529 346 l-4.2 -14.2" stroke="#80b434" stroke-opacity="0.34" stroke-width="2.2"/><path d="M594 128 l1.3 -4.3" stroke="#80b434" stroke-opacity="0.26" stroke-width="0.8"/><path d="M643 380 l3.7 -20.8" stroke="#2f560b" stroke-opacity="0.40" stroke-width="2.4"/><path d="M188 463 l-3.2 -18.6" stroke="#284a08" stroke-opacity="0.55" stroke-width="2.9"/><path d="M441 373 l-1.3 -15.5" stroke="#284a08" stroke-opacity="0.41" stroke-width="2.4"/><path d="M113 487 l1.7 -24.6" stroke="#74a82c" stroke-opacity="0.50" stroke-width="3.1"/><path d="M638 140 l1.2 -6.4" stroke="#80b434" stroke-opacity="0.19" stroke-width="0.9"/><path d="M173 371 l-4.4 -13.7" stroke="#203c05" stroke-opacity="0.42" stroke-width="2.4"/><path d="M164 183 l0.1 -4.9" stroke="#80b434" stroke-opacity="0.33" stroke-width="1.2"/><path d="M86 465 l2.5 -19.7" stroke="#74a82c" stroke-opacity="0.50" stroke-width="2.9"/><path d="M124 418 l-5.0 -17.2" stroke="#284a08" stroke-opacity="0.36" stroke-width="2.6"/><path d="M250 282 l-2.1 -8.8" stroke="#1c3604" stroke-opacity="0.38" stroke-width="1.8"/><path d="M529 242 l2.0 -6.8" stroke="#2f560b" stroke-opacity="0.40" stroke-width="1.6"/><path d="M567 416 l-1.5 -24.8" stroke="#203c05" stroke-opacity="0.42" stroke-width="2.6"/><path d="M379 132 l2.0 -6.0" stroke="#1c3604" stroke-opacity="0.17" stroke-width="0.9"/><path d="M323 298 l-3.2 -13.0" stroke="#80b434" stroke-opacity="0.32" stroke-width="1.9"/><path d="M97 409 l-3.7 -20.5" stroke="#203c05" stroke-opacity="0.38" stroke-width="2.6"/><path d="M229 522 l3.3 -27.9" stroke="#284a08" stroke-opacity="0.55" stroke-width="3.3"/><path d="M525 386 l4.7 -19.4" stroke="#203c05" stroke-opacity="0.32" stroke-width="2.4"/><path d="M199 194 l-1.5 -5.5" stroke="#284a08" stroke-opacity="0.33" stroke-width="1.3"/><path d="M620 437 l-0.3 -25.9" stroke="#203c05" stroke-opacity="0.37" stroke-width="2.8"/><path d="M194 326 l0.2 -13.7" stroke="#74a82c" stroke-opacity="0.33" stroke-width="2.1"/><path d="M14 409 l2.2 -20.7" stroke="#203c05" stroke-opacity="0.43" stroke-width="2.6"/><path d="M41 185 l3.3 -9.5" stroke="#203c05" stroke-opacity="0.22" stroke-width="1.2"/><path d="M92 232 l-0.2 -6.9" stroke="#80b434" stroke-opacity="0.32" stroke-width="1.5"/><path d="M381 123 l-1.0 -8.0" stroke="#2f560b" stroke-opacity="0.31" stroke-width="0.8"/><path d="M189 339 l-3.0 -9.8" stroke="#284a08" stroke-opacity="0.36" stroke-width="2.2"/><path d="M198 448 l3.9 -18.1" stroke="#284a08" stroke-opacity="0.46" stroke-width="2.8"/><path d="M421 454 l-0.9 -24.8" stroke="#80b434" stroke-opacity="0.39" stroke-width="2.9"/><path d="M284 326 l-1.8 -10.3" stroke="#80b434" stroke-opacity="0.40" stroke-width="2.1"/><path d="M655 530 l0.3 -27.5" stroke="#203c05" stroke-opacity="0.59" stroke-width="3.3"/><path d="M261 283 l-0.2 -10.0" stroke="#74a82c" stroke-opacity="0.43" stroke-width="1.8"/><path d="M93 414 l-0.5 -17.3" stroke="#80b434" stroke-opacity="0.33" stroke-width="2.6"/><path d="M528 460 l4.2 -15.2" stroke="#74a82c" stroke-opacity="0.39" stroke-width="2.9"/><path d="M344 454 l4.8 -20.8" stroke="#80b434" stroke-opacity="0.54" stroke-width="2.9"/><path d="M65 319 l-2.5 -12.2" stroke="#1c3604" stroke-opacity="0.32" stroke-width="2.0"/><path d="M105 198 l0.6 -5.1" stroke="#74a82c" stroke-opacity="0.34" stroke-width="1.3"/><path d="M626 400 l0.4 -12.0" stroke="#80b434" stroke-opacity="0.46" stroke-width="2.5"/><path d="M647 459 l2.0 -15.7" stroke="#284a08" stroke-opacity="0.38" stroke-width="2.9"/><path d="M110 433 l2.2 -22.6" stroke="#284a08" stroke-opacity="0.53" stroke-width="2.7"/><path d="M377 426 l-4.9 -18.6" stroke="#80b434" stroke-opacity="0.46" stroke-width="2.7"/><path d="M46 217 l1.4 -9.8" stroke="#2f560b" stroke-opacity="0.29" stroke-width="1.4"/><path d="M561 322 l3.9 -16.5" stroke="#80b434" stroke-opacity="0.30" stroke-width="2.1"/><path d="M513 428 l3.4 -13.7" stroke="#74a82c" stroke-opacity="0.52" stroke-width="2.7"/><path d="M48 358 l3.8 -16.3" stroke="#1c3604" stroke-opacity="0.39" stroke-width="2.3"/><path d="M307 530 l6.4 -31.7" stroke="#203c05" stroke-opacity="0.48" stroke-width="3.3"/><path d="M291 179 l1.3 -7.1" stroke="#74a82c" stroke-opacity="0.31" stroke-width="1.2"/><path d="M648 380 l3.2 -17.7" stroke="#2f560b" stroke-opacity="0.50" stroke-width="2.4"/><path d="M646 418 l7.3 -25.1" stroke="#74a82c" stroke-opacity="0.44" stroke-width="2.6"/><path d="M28 255 l2.6 -10.9" stroke="#284a08" stroke-opacity="0.36" stroke-width="1.6"/><path d="M6 522 l3.2 -35.0" stroke="#74a82c" stroke-opacity="0.48" stroke-width="3.3"/><path d="M10 141 l0.2 -7.1" stroke="#284a08" stroke-opacity="0.26" stroke-width="0.9"/><path d="M49 304 l0.5 -9.5" stroke="#74a82c" stroke-opacity="0.33" stroke-width="1.9"/><path d="M452 366 l-2.4 -14.3" stroke="#80b434" stroke-opacity="0.49" stroke-width="2.3"/><path d="M337 515 l2.3 -29.4" stroke="#74a82c" stroke-opacity="0.54" stroke-width="3.2"/><path d="M173 271 l-2.1 -9.3" stroke="#284a08" stroke-opacity="0.37" stroke-width="1.7"/><path d="M512 520 l-0.2 -34.6" stroke="#74a82c" stroke-opacity="0.45" stroke-width="3.3"/><path d="M66 142 l-2.9 -8.4" stroke="#74a82c" stroke-opacity="0.24" stroke-width="0.9"/><path d="M301 445 l-0.3 -18.2" stroke="#80b434" stroke-opacity="0.40" stroke-width="2.8"/><path d="M669 519 l2.6 -28.3" stroke="#80b434" stroke-opacity="0.40" stroke-width="3.3"/><path d="M636 451 l-6.8 -23.9" stroke="#284a08" stroke-opacity="0.45" stroke-width="2.9"/><path d="M425 449 l-4.4 -17.5" stroke="#284a08" stroke-opacity="0.42" stroke-width="2.8"/><path d="M485 288 l-2.8 -10.6" stroke="#284a08" stroke-opacity="0.27" stroke-width="1.8"/><path d="M141 508 l-2.0 -28.9" stroke="#74a82c" stroke-opacity="0.54" stroke-width="3.2"/><path d="M636 355 l1.9 -11.4" stroke="#284a08" stroke-opacity="0.37" stroke-width="2.3"/><path d="M629 268 l-0.3 -9.3" stroke="#284a08" stroke-opacity="0.38" stroke-width="1.7"/><path d="M207 270 l0.6 -9.6" stroke="#1c3604" stroke-opacity="0.36" stroke-width="1.7"/><path d="M472 251 l-0.3 -7.3" stroke="#2f560b" stroke-opacity="0.31" stroke-width="1.6"/><path d="M15 524 l3.9 -28.1" stroke="#284a08" stroke-opacity="0.52" stroke-width="3.3"/><path d="M409 196 l-1.3 -7.5" stroke="#80b434" stroke-opacity="0.22" stroke-width="1.3"/><path d="M404 212 l0.8 -5.9" stroke="#74a82c" stroke-opacity="0.37" stroke-width="1.4"/><path d="M136 479 l2.0 -24.6" stroke="#80b434" stroke-opacity="0.42" stroke-width="3.0"/><path d="M264 516 l-3.5 -23.4" stroke="#1c3604" stroke-opacity="0.40" stroke-width="3.3"/><path d="M648 488 l2.6 -30.3" stroke="#284a08" stroke-opacity="0.45" stroke-width="3.1"/><path d="M114 299 l-0.2 -13.5" stroke="#284a08" stroke-opacity="0.35" stroke-width="1.9"/><path d="M149 322 l-0.0 -16.0" stroke="#1c3604" stroke-opacity="0.34" stroke-width="2.1"/><path d="M524 436 l-2.3 -22.1" stroke="#2f560b" stroke-opacity="0.50" stroke-width="2.8"/><path d="M190 299 l1.8 -8.5" stroke="#284a08" stroke-opacity="0.38" stroke-width="1.9"/><path d="M488 502 l4.2 -31.3" stroke="#203c05" stroke-opacity="0.54" stroke-width="3.2"/><path d="M303 509 l-4.9 -26.9" stroke="#284a08" stroke-opacity="0.48" stroke-width="3.2"/><path d="M480 251 l-1.7 -8.5" stroke="#203c05" stroke-opacity="0.39" stroke-width="1.6"/><path d="M485 329 l-1.1 -13.8" stroke="#74a82c" stroke-opacity="0.29" stroke-width="2.1"/><path d="M411 379 l0.1 -16.2" stroke="#80b434" stroke-opacity="0.48" stroke-width="2.4"/><path d="M548 303 l4.5 -13.0" stroke="#284a08" stroke-opacity="0.46" stroke-width="1.9"/><path d="M249 136 l0.5 -7.0" stroke="#2f560b" stroke-opacity="0.30" stroke-width="0.9"/><path d="M603 366 l4.6 -14.1" stroke="#74a82c" stroke-opacity="0.32" stroke-width="2.3"/><path d="M324 131 l-1.6 -6.5" stroke="#2f560b" stroke-opacity="0.35" stroke-width="0.9"/><path d="M420 159 l1.3 -8.0" stroke="#74a82c" stroke-opacity="0.23" stroke-width="1.0"/><path d="M186 520 l-2.8 -31.2" stroke="#284a08" stroke-opacity="0.41" stroke-width="3.3"/><path d="M549 408 l5.4 -16.0" stroke="#74a82c" stroke-opacity="0.34" stroke-width="2.6"/><path d="M50 398 l1.3 -18.5" stroke="#74a82c" stroke-opacity="0.34" stroke-width="2.5"/><path d="M338 502 l9.6 -31.3" stroke="#2f560b" stroke-opacity="0.49" stroke-width="3.2"/><path d="M15 538 l0.6 -24.9" stroke="#203c05" stroke-opacity="0.44" stroke-width="3.4"/><path d="M487 366 l-1.3 -9.9" stroke="#1c3604" stroke-opacity="0.48" stroke-width="2.3"/><path d="M392 361 l2.0 -9.1" stroke="#203c05" stroke-opacity="0.48" stroke-width="2.3"/><path d="M412 173 l0.4 -6.3" stroke="#203c05" stroke-opacity="0.35" stroke-width="1.1"/><path d="M455 185 l1.9 -5.6" stroke="#2f560b" stroke-opacity="0.19" stroke-width="1.2"/><path d="M433 475 l-6.6 -24.3" stroke="#2f560b" stroke-opacity="0.47" stroke-width="3.0"/><path d="M520 144 l0.6 -7.6" stroke="#2f560b" stroke-opacity="0.18" stroke-width="0.9"/><path d="M28 342 l-0.6 -15.3" stroke="#1c3604" stroke-opacity="0.35" stroke-width="2.2"/><path d="M134 267 l-2.1 -10.3" stroke="#2f560b" stroke-opacity="0.31" stroke-width="1.7"/><path d="M430 323 l-2.3 -11.4" stroke="#74a82c" stroke-opacity="0.44" stroke-width="2.1"/><path d="M163 308 l-3.1 -11.2" stroke="#284a08" stroke-opacity="0.33" stroke-width="2.0"/><path d="M385 203 l-0.8 -4.9" stroke="#2f560b" stroke-opacity="0.35" stroke-width="1.3"/><path d="M622 185 l-1.5 -4.4" stroke="#203c05" stroke-opacity="0.29" stroke-width="1.2"/><path d="M562 470 l-6.0 -18.3" stroke="#74a82c" stroke-opacity="0.40" stroke-width="3.0"/><path d="M211 257 l0.4 -8.6" stroke="#1c3604" stroke-opacity="0.30" stroke-width="1.6"/><path d="M572 193 l-1.0 -5.3" stroke="#2f560b" stroke-opacity="0.21" stroke-width="1.3"/><path d="M208 173 l2.6 -8.1" stroke="#203c05" stroke-opacity="0.31" stroke-width="1.1"/><path d="M23 215 l2.0 -7.9" stroke="#80b434" stroke-opacity="0.37" stroke-width="1.4"/><path d="M665 222 l-1.6 -7.9" stroke="#80b434" stroke-opacity="0.36" stroke-width="1.4"/><path d="M6 398 l3.3 -17.4" stroke="#203c05" stroke-opacity="0.42" stroke-width="2.5"/><path d="M614 157 l0.6 -7.6" stroke="#2f560b" stroke-opacity="0.21" stroke-width="1.0"/><path d="M210 267 l-2.4 -6.9" stroke="#1c3604" stroke-opacity="0.40" stroke-width="1.7"/><path d="M32 321 l-1.7 -12.1" stroke="#284a08" stroke-opacity="0.35" stroke-width="2.0"/><path d="M417 524 l-3.9 -34.7" stroke="#1c3604" stroke-opacity="0.48" stroke-width="3.3"/><path d="M464 485 l-4.9 -29.3" stroke="#2f560b" stroke-opacity="0.44" stroke-width="3.1"/><path d="M124 366 l4.5 -15.8" stroke="#1c3604" stroke-opacity="0.45" stroke-width="2.3"/><path d="M379 423 l3.6 -16.4" stroke="#2f560b" stroke-opacity="0.52" stroke-width="2.7"/><path d="M381 149 l-2.6 -7.6" stroke="#74a82c" stroke-opacity="0.32" stroke-width="1.0"/><path d="M218 419 l-6.1 -21.6" stroke="#80b434" stroke-opacity="0.42" stroke-width="2.7"/><path d="M509 280 l-0.0 -7.9" stroke="#2f560b" stroke-opacity="0.33" stroke-width="1.8"/><path d="M332 243 l3.1 -10.7" stroke="#74a82c" stroke-opacity="0.37" stroke-width="1.6"/><path d="M52 430 l-5.2 -19.0" stroke="#2f560b" stroke-opacity="0.41" stroke-width="2.7"/><path d="M46 222 l2.5 -7.9" stroke="#80b434" stroke-opacity="0.24" stroke-width="1.4"/><path d="M294 504 l4.6 -21.7" stroke="#2f560b" stroke-opacity="0.48" stroke-width="3.2"/><path d="M612 292 l1.5 -7.4" stroke="#74a82c" stroke-opacity="0.41" stroke-width="1.9"/><path d="M479 156 l-1.0 -6.8" stroke="#284a08" stroke-opacity="0.31" stroke-width="1.0"/><path d="M490 264 l-2.5 -8.9" stroke="#74a82c" stroke-opacity="0.27" stroke-width="1.7"/><path d="M503 280 l3.5 -10.4" stroke="#74a82c" stroke-opacity="0.41" stroke-width="1.8"/><path d="M666 352 l3.9 -13.8" stroke="#80b434" stroke-opacity="0.46" stroke-width="2.2"/><path d="M395 444 l-4.3 -26.8" stroke="#1c3604" stroke-opacity="0.36" stroke-width="2.8"/><path d="M397 284 l2.9 -10.5" stroke="#74a82c" stroke-opacity="0.26" stroke-width="1.8"/><path d="M635 372 l1.4 -12.7" stroke="#284a08" stroke-opacity="0.34" stroke-width="2.4"/><path d="M244 162 l1.8 -8.8" stroke="#2f560b" stroke-opacity="0.36" stroke-width="1.1"/><path d="M589 182 l1.9 -5.6" stroke="#284a08" stroke-opacity="0.19" stroke-width="1.2"/><path d="M665 271 l2.9 -8.4" stroke="#203c05" stroke-opacity="0.40" stroke-width="1.7"/><path d="M359 172 l1.5 -6.2" stroke="#2f560b" stroke-opacity="0.35" stroke-width="1.1"/><path d="M328 258 l3.8 -11.0" stroke="#203c05" stroke-opacity="0.37" stroke-width="1.7"/><path d="M132 431 l0.2 -14.4" stroke="#284a08" stroke-opacity="0.50" stroke-width="2.7"/><path d="M19 312 l0.3 -10.9" stroke="#284a08" stroke-opacity="0.29" stroke-width="2.0"/><path d="M666 519 l-4.9 -23.7" stroke="#2f560b" stroke-opacity="0.39" stroke-width="3.3"/><path d="M435 182 l2.3 -9.5" stroke="#74a82c" stroke-opacity="0.20" stroke-width="1.2"/><path d="M217 355 l0.9 -13.1" stroke="#80b434" stroke-opacity="0.43" stroke-width="2.3"/><path d="M383 298 l-4.4 -13.2" stroke="#1c3604" stroke-opacity="0.39" stroke-width="1.9"/><path d="M192 429 l5.0 -18.5" stroke="#80b434" stroke-opacity="0.52" stroke-width="2.7"/><path d="M293 493 l-4.7 -16.9" stroke="#284a08" stroke-opacity="0.44" stroke-width="3.1"/><path d="M139 248 l1.1 -10.0" stroke="#80b434" stroke-opacity="0.25" stroke-width="1.6"/><path d="M265 240 l3.5 -10.3" stroke="#203c05" stroke-opacity="0.33" stroke-width="1.5"/><path d="M551 431 l5.4 -21.7" stroke="#74a82c" stroke-opacity="0.37" stroke-width="2.7"/><path d="M475 133 l2.0 -8.1" stroke="#74a82c" stroke-opacity="0.19" stroke-width="0.9"/><path d="M441 185 l2.1 -7.5" stroke="#2f560b" stroke-opacity="0.29" stroke-width="1.2"/><path d="M4 391 l-0.8 -16.4" stroke="#284a08" stroke-opacity="0.40" stroke-width="2.5"/><path d="M150 293 l3.4 -11.7" stroke="#284a08" stroke-opacity="0.42" stroke-width="1.9"/><path d="M189 144 l-0.5 -7.4" stroke="#80b434" stroke-opacity="0.25" stroke-width="1.0"/><path d="M566 147 l-2.1 -6.6" stroke="#2f560b" stroke-opacity="0.18" stroke-width="1.0"/><path d="M100 132 l-1.6 -5.7" stroke="#203c05" stroke-opacity="0.33" stroke-width="0.9"/><path d="M154 481 l4.3 -23.3" stroke="#80b434" stroke-opacity="0.49" stroke-width="3.0"/><path d="M419 160 l-0.2 -7.5" stroke="#74a82c" stroke-opacity="0.25" stroke-width="1.0"/><path d="M558 338 l-3.1 -12.2" stroke="#74a82c" stroke-opacity="0.32" stroke-width="2.2"/><path d="M405 485 l6.6 -23.8" stroke="#2f560b" stroke-opacity="0.52" stroke-width="3.1"/><path d="M643 331 l1.7 -13.2" stroke="#80b434" stroke-opacity="0.44" stroke-width="2.1"/><path d="M132 481 l7.1 -25.7" stroke="#74a82c" stroke-opacity="0.37" stroke-width="3.0"/><path d="M650 356 l3.2 -11.6" stroke="#2f560b" stroke-opacity="0.46" stroke-width="2.3"/><path d="M77 331 l-0.7 -9.8" stroke="#1c3604" stroke-opacity="0.43" stroke-width="2.1"/><path d="M221 288 l1.2 -7.8" stroke="#80b434" stroke-opacity="0.35" stroke-width="1.8"/><path d="M329 292 l0.7 -10.7" stroke="#284a08" stroke-opacity="0.29" stroke-width="1.9"/><path d="M565 346 l0.3 -13.0" stroke="#80b434" stroke-opacity="0.43" stroke-width="2.2"/><path d="M338 379 l-3.3 -15.5" stroke="#1c3604" stroke-opacity="0.39" stroke-width="2.4"/><path d="M-10 122 l0.3 -6.7" stroke="#74a82c" stroke-opacity="0.24" stroke-width="0.8"/><path d="M384 256 l3.1 -9.9" stroke="#1c3604" stroke-opacity="0.23" stroke-width="1.6"/><path d="M421 351 l5.3 -15.5" stroke="#74a82c" stroke-opacity="0.30" stroke-width="2.2"/><path d="M615 346 l1.3 -17.1" stroke="#203c05" stroke-opacity="0.42" stroke-width="2.2"/><path d="M42 503 l-4.9 -22.5" stroke="#203c05" stroke-opacity="0.44" stroke-width="3.2"/><path d="M227 360 l3.3 -17.3" stroke="#80b434" stroke-opacity="0.39" stroke-width="2.3"/><path d="M163 354 l0.4 -16.4" stroke="#1c3604" stroke-opacity="0.47" stroke-width="2.2"/><path d="M319 494 l3.3 -28.4" stroke="#284a08" stroke-opacity="0.48" stroke-width="3.1"/><path d="M276 425 l3.7 -17.7" stroke="#2f560b" stroke-opacity="0.39" stroke-width="2.7"/><path d="M582 358 l2.9 -15.8" stroke="#1c3604" stroke-opacity="0.37" stroke-width="2.3"/><path d="M50 449 l-6.5 -20.2" stroke="#80b434" stroke-opacity="0.36" stroke-width="2.8"/><path d="M144 505 l-2.9 -26.7" stroke="#2f560b" stroke-opacity="0.39" stroke-width="3.2"/><path d="M172 452 l-0.4 -19.8" stroke="#80b434" stroke-opacity="0.42" stroke-width="2.9"/><path d="M335 361 l-0.1 -11.9" stroke="#284a08" stroke-opacity="0.38" stroke-width="2.3"/><path d="M151 406 l-0.1 -18.0" stroke="#1c3604" stroke-opacity="0.42" stroke-width="2.6"/><path d="M231 206 l-2.2 -9.1" stroke="#1c3604" stroke-opacity="0.23" stroke-width="1.3"/><path d="M293 505 l7.0 -22.8" stroke="#284a08" stroke-opacity="0.52" stroke-width="3.2"/><path d="M28 360 l2.6 -11.3" stroke="#80b434" stroke-opacity="0.46" stroke-width="2.3"/><path d="M152 132 l-2.9 -9.0" stroke="#74a82c" stroke-opacity="0.19" stroke-width="0.9"/><path d="M569 428 l3.4 -12.7" stroke="#284a08" stroke-opacity="0.37" stroke-width="2.7"/><path d="M386 338 l-0.5 -14.6" stroke="#2f560b" stroke-opacity="0.41" stroke-width="2.1"/><path d="M253 515 l-8.4 -36.7" stroke="#80b434" stroke-opacity="0.56" stroke-width="3.2"/><path d="M365 247 l-0.4 -8.6" stroke="#2f560b" stroke-opacity="0.42" stroke-width="1.6"/><path d="M322 368 l6.0 -19.3" stroke="#284a08" stroke-opacity="0.43" stroke-width="2.3"/><path d="M638 277 l-3.3 -10.9" stroke="#1c3604" stroke-opacity="0.42" stroke-width="1.8"/><path d="M12 204 l-2.1 -8.6" stroke="#2f560b" stroke-opacity="0.34" stroke-width="1.3"/><path d="M67 337 l4.6 -16.7" stroke="#2f560b" stroke-opacity="0.33" stroke-width="2.1"/><path d="M175 348 l5.4 -18.4" stroke="#1c3604" stroke-opacity="0.40" stroke-width="2.2"/><path d="M511 302 l-2.3 -11.0" stroke="#2f560b" stroke-opacity="0.40" stroke-width="1.9"/><path d="M173 500 l4.3 -24.8" stroke="#74a82c" stroke-opacity="0.44" stroke-width="3.2"/><path d="M-5 338 l0.7 -11.1" stroke="#203c05" stroke-opacity="0.31" stroke-width="2.1"/><path d="M86 317 l-3.6 -11.5" stroke="#74a82c" stroke-opacity="0.41" stroke-width="2.0"/><path d="M233 431 l-3.4 -17.9" stroke="#203c05" stroke-opacity="0.48" stroke-width="2.7"/><path d="M439 245 l-0.1 -9.2" stroke="#80b434" stroke-opacity="0.34" stroke-width="1.6"/><path d="M377 209 l-1.1 -9.4" stroke="#74a82c" stroke-opacity="0.35" stroke-width="1.4"/><path d="M448 538 l-10.5 -30.7" stroke="#284a08" stroke-opacity="0.43" stroke-width="3.4"/><path d="M614 428 l2.5 -15.7" stroke="#74a82c" stroke-opacity="0.45" stroke-width="2.7"/><path d="M400 503 l7.3 -27.1" stroke="#203c05" stroke-opacity="0.48" stroke-width="3.2"/><path d="M522 162 l-1.8 -7.5" stroke="#1c3604" stroke-opacity="0.18" stroke-width="1.1"/><path d="M73 303 l-2.3 -11.6" stroke="#1c3604" stroke-opacity="0.44" stroke-width="1.9"/><path d="M364 349 l0.7 -16.0" stroke="#203c05" stroke-opacity="0.44" stroke-width="2.2"/><path d="M2 325 l2.9 -16.0" stroke="#74a82c" stroke-opacity="0.34" stroke-width="2.1"/><path d="M446 131 l-0.6 -4.5" stroke="#74a82c" stroke-opacity="0.29" stroke-width="0.9"/><path d="M188 440 l0.4 -17.9" stroke="#2f560b" stroke-opacity="0.35" stroke-width="2.8"/><path d="M462 491 l-2.6 -26.2" stroke="#203c05" stroke-opacity="0.39" stroke-width="3.1"/><path d="M215 341 l0.3 -9.4" stroke="#284a08" stroke-opacity="0.39" stroke-width="2.2"/><path d="M319 487 l-2.1 -33.1" stroke="#1c3604" stroke-opacity="0.50" stroke-width="3.1"/><path d="M541 345 l-0.8 -15.7" stroke="#80b434" stroke-opacity="0.30" stroke-width="2.2"/><path d="M492 129 l2.8 -9.0" stroke="#80b434" stroke-opacity="0.35" stroke-width="0.9"/><path d="M64 437 l-6.6 -24.1" stroke="#2f560b" stroke-opacity="0.45" stroke-width="2.8"/><path d="M505 424 l-4.6 -22.8" stroke="#74a82c" stroke-opacity="0.44" stroke-width="2.7"/><path d="M261 126 l1.1 -4.1" stroke="#80b434" stroke-opacity="0.17" stroke-width="0.8"/><path d="M358 374 l-2.8 -11.0" stroke="#284a08" stroke-opacity="0.44" stroke-width="2.4"/><path d="M549 407 l-2.6 -22.5" stroke="#2f560b" stroke-opacity="0.44" stroke-width="2.6"/><path d="M337 382 l4.3 -12.9" stroke="#1c3604" stroke-opacity="0.34" stroke-width="2.4"/><path d="M296 350 l-1.6 -14.3" stroke="#203c05" stroke-opacity="0.41" stroke-width="2.2"/><path d="M81 226 l-1.3 -9.8" stroke="#2f560b" stroke-opacity="0.31" stroke-width="1.5"/><path d="M140 319 l0.9 -11.7" stroke="#80b434" stroke-opacity="0.38" stroke-width="2.0"/><path d="M370 435 l0.3 -24.6" stroke="#74a82c" stroke-opacity="0.42" stroke-width="2.8"/><path d="M596 232 l1.9 -8.6" stroke="#1c3604" stroke-opacity="0.23" stroke-width="1.5"/><path d="M546 390 l-5.5 -17.7" stroke="#74a82c" stroke-opacity="0.36" stroke-width="2.5"/><path d="M234 376 l1.3 -10.3" stroke="#80b434" stroke-opacity="0.44" stroke-width="2.4"/><path d="M304 162 l1.2 -6.2" stroke="#1c3604" stroke-opacity="0.32" stroke-width="1.1"/><path d="M129 480 l-4.0 -26.2" stroke="#203c05" stroke-opacity="0.46" stroke-width="3.0"/><path d="M144 294 l-0.0 -11.0" stroke="#203c05" stroke-opacity="0.40" stroke-width="1.9"/><path d="M315 418 l1.8 -15.2" stroke="#1c3604" stroke-opacity="0.41" stroke-width="2.6"/><path d="M467 431 l-0.2 -22.6" stroke="#284a08" stroke-opacity="0.34" stroke-width="2.7"/><path d="M392 292 l1.9 -11.2" stroke="#74a82c" stroke-opacity="0.43" stroke-width="1.9"/><path d="M239 267 l-1.6 -10.6" stroke="#2f560b" stroke-opacity="0.42" stroke-width="1.7"/><path d="M655 445 l-6.4 -23.6" stroke="#2f560b" stroke-opacity="0.53" stroke-width="2.8"/><path d="M89 188 l0.1 -8.6" stroke="#1c3604" stroke-opacity="0.37" stroke-width="1.2"/><path d="M663 388 l1.3 -13.2" stroke="#80b434" stroke-opacity="0.40" stroke-width="2.5"/><path d="M32 364 l-2.4 -16.1" stroke="#2f560b" stroke-opacity="0.30" stroke-width="2.3"/><path d="M251 273 l2.2 -9.1" stroke="#284a08" stroke-opacity="0.42" stroke-width="1.7"/><path d="M643 502 l-8.3 -31.1" stroke="#1c3604" stroke-opacity="0.41" stroke-width="3.2"/><path d="M235 430 l-3.3 -19.0" stroke="#74a82c" stroke-opacity="0.37" stroke-width="2.7"/><path d="M289 400 l-1.7 -13.0" stroke="#74a82c" stroke-opacity="0.50" stroke-width="2.5"/><path d="M135 190 l-1.3 -6.4" stroke="#203c05" stroke-opacity="0.19" stroke-width="1.2"/><path d="M81 346 l-0.3 -11.3" stroke="#80b434" stroke-opacity="0.43" stroke-width="2.2"/><path d="M669 300 l0.8 -8.5" stroke="#74a82c" stroke-opacity="0.40" stroke-width="1.9"/><path d="M486 333 l2.4 -14.1" stroke="#203c05" stroke-opacity="0.42" stroke-width="2.1"/><path d="M376 169 l0.4 -6.4" stroke="#203c05" stroke-opacity="0.37" stroke-width="1.1"/><path d="M233 333 l2.9 -16.6" stroke="#2f560b" stroke-opacity="0.38" stroke-width="2.1"/><path d="M69 290 l2.2 -14.1" stroke="#203c05" stroke-opacity="0.27" stroke-width="1.9"/><path d="M194 260 l-1.2 -7.6" stroke="#203c05" stroke-opacity="0.32" stroke-width="1.7"/><path d="M81 149 l-1.7 -8.9" stroke="#1c3604" stroke-opacity="0.29" stroke-width="1.0"/><path d="M26 263 l-1.8 -10.1" stroke="#203c05" stroke-opacity="0.43" stroke-width="1.7"/><path d="M359 462 l-2.3 -25.1" stroke="#284a08" stroke-opacity="0.51" stroke-width="2.9"/><path d="M4 504 l2.6 -18.9" stroke="#1c3604" stroke-opacity="0.48" stroke-width="3.2"/><path d="M196 195 l0.9 -6.0" stroke="#74a82c" stroke-opacity="0.30" stroke-width="1.3"/><path d="M16 145 l-1.0 -4.5" stroke="#74a82c" stroke-opacity="0.31" stroke-width="1.0"/><path d="M307 199 l-1.4 -5.8" stroke="#203c05" stroke-opacity="0.30" stroke-width="1.3"/><path d="M323 137 l-1.2 -8.7" stroke="#80b434" stroke-opacity="0.21" stroke-width="0.9"/><path d="M588 440 l-1.5 -20.3" stroke="#80b434" stroke-opacity="0.53" stroke-width="2.8"/><path d="M458 460 l-4.2 -19.7" stroke="#284a08" stroke-opacity="0.44" stroke-width="2.9"/><path d="M501 129 l1.4 -4.7" stroke="#2f560b" stroke-opacity="0.17" stroke-width="0.9"/><path d="M383 460 l-1.9 -19.3" stroke="#1c3604" stroke-opacity="0.50" stroke-width="2.9"/><path d="M450 207 l1.1 -5.6" stroke="#2f560b" stroke-opacity="0.34" stroke-width="1.3"/><path d="M262 513 l-7.7 -36.5" stroke="#80b434" stroke-opacity="0.47" stroke-width="3.2"/><path d="M12 330 l0.8 -9.4" stroke="#2f560b" stroke-opacity="0.28" stroke-width="2.1"/><path d="M194 136 l0.5 -8.5" stroke="#74a82c" stroke-opacity="0.24" stroke-width="0.9"/><path d="M661 374 l-1.3 -19.1" stroke="#74a82c" stroke-opacity="0.43" stroke-width="2.4"/><path d="M57 194 l0.1 -5.3" stroke="#284a08" stroke-opacity="0.26" stroke-width="1.3"/><path d="M658 164 l1.1 -4.3" stroke="#203c05" stroke-opacity="0.18" stroke-width="1.1"/><path d="M673 357 l-4.1 -13.6" stroke="#80b434" stroke-opacity="0.48" stroke-width="2.3"/><path d="M524 302 l0.2 -8.4" stroke="#74a82c" stroke-opacity="0.31" stroke-width="1.9"/><path d="M548 510 l-10.8 -31.9" stroke="#74a82c" stroke-opacity="0.44" stroke-width="3.2"/><path d="M546 507 l-7.5 -23.7" stroke="#74a82c" stroke-opacity="0.52" stroke-width="3.2"/><path d="M619 268 l1.8 -9.8" stroke="#203c05" stroke-opacity="0.38" stroke-width="1.7"/><path d="M240 404 l-5.7 -22.2" stroke="#203c05" stroke-opacity="0.41" stroke-width="2.6"/><path d="M102 431 l-3.5 -20.4" stroke="#203c05" stroke-opacity="0.53" stroke-width="2.7"/><path d="M483 391 l4.4 -17.6" stroke="#1c3604" stroke-opacity="0.44" stroke-width="2.5"/><path d="M264 135 l1.1 -4.7" stroke="#284a08" stroke-opacity="0.29" stroke-width="0.9"/><path d="M174 479 l-5.0 -21.2" stroke="#74a82c" stroke-opacity="0.50" stroke-width="3.0"/><path d="M81 302 l-1.8 -8.9" stroke="#2f560b" stroke-opacity="0.27" stroke-width="1.9"/><path d="M1 340 l3.8 -16.0" stroke="#203c05" stroke-opacity="0.48" stroke-width="2.2"/><path d="M571 482 l-5.0 -22.3" stroke="#80b434" stroke-opacity="0.41" stroke-width="3.0"/><path d="M369 537 l8.1 -26.1" stroke="#80b434" stroke-opacity="0.41" stroke-width="3.4"/><path d="M247 174 l2.0 -6.6" stroke="#2f560b" stroke-opacity="0.20" stroke-width="1.1"/><path d="M224 206 l-0.6 -9.6" stroke="#203c05" stroke-opacity="0.38" stroke-width="1.3"/><path d="M629 333 l1.8 -10.9" stroke="#284a08" stroke-opacity="0.36" stroke-width="2.1"/><path d="M216 246 l-0.9 -7.0" stroke="#80b434" stroke-opacity="0.32" stroke-width="1.6"/><path d="M518 300 l0.2 -9.7" stroke="#74a82c" stroke-opacity="0.43" stroke-width="1.9"/><path d="M368 527 l6.1 -33.2" stroke="#284a08" stroke-opacity="0.43" stroke-width="3.3"/><path d="M212 341 l1.1 -14.0" stroke="#80b434" stroke-opacity="0.32" stroke-width="2.2"/><path d="M667 412 l-4.9 -14.5" stroke="#2f560b" stroke-opacity="0.45" stroke-width="2.6"/><path d="M612 127 l-1.2 -8.1" stroke="#80b434" stroke-opacity="0.22" stroke-width="0.8"/><path d="M534 277 l-3.2 -10.4" stroke="#203c05" stroke-opacity="0.38" stroke-width="1.8"/><path d="M673 256 l1.2 -8.0" stroke="#284a08" stroke-opacity="0.40" stroke-width="1.6"/><path d="M237 421 l-6.6 -21.5" stroke="#284a08" stroke-opacity="0.50" stroke-width="2.7"/><path d="M136 259 l3.0 -8.9" stroke="#284a08" stroke-opacity="0.31" stroke-width="1.7"/><path d="M175 267 l4.2 -12.5" stroke="#2f560b" stroke-opacity="0.38" stroke-width="1.7"/><path d="M66 181 l-1.4 -4.5" stroke="#74a82c" stroke-opacity="0.23" stroke-width="1.2"/><path d="M515 457 l-4.5 -17.1" stroke="#203c05" stroke-opacity="0.54" stroke-width="2.9"/><path d="M447 221 l-2.4 -9.6" stroke="#2f560b" stroke-opacity="0.30" stroke-width="1.4"/><path d="M605 491 l-0.1 -19.8" stroke="#1c3604" stroke-opacity="0.43" stroke-width="3.1"/><path d="M395 304 l2.4 -12.2" stroke="#284a08" stroke-opacity="0.40" stroke-width="1.9"/><path d="M145 380 l-2.8 -17.2" stroke="#203c05" stroke-opacity="0.45" stroke-width="2.4"/><path d="M661 393 l4.1 -15.5" stroke="#74a82c" stroke-opacity="0.32" stroke-width="2.5"/><path d="M211 210 l-1.7 -9.3" stroke="#80b434" stroke-opacity="0.27" stroke-width="1.4"/><path d="M164 123 l1.3 -5.4" stroke="#203c05" stroke-opacity="0.23" stroke-width="0.8"/><path d="M419 194 l-2.1 -6.6" stroke="#2f560b" stroke-opacity="0.27" stroke-width="1.3"/><path d="M534 472 l4.9 -18.4" stroke="#1c3604" stroke-opacity="0.56" stroke-width="3.0"/><path d="M6 459 l-0.6 -20.4" stroke="#203c05" stroke-opacity="0.54" stroke-width="2.9"/><path d="M99 483 l3.8 -17.7" stroke="#2f560b" stroke-opacity="0.51" stroke-width="3.0"/><path d="M319 352 l3.1 -12.9" stroke="#203c05" stroke-opacity="0.31" stroke-width="2.2"/><path d="M615 149 l-1.6 -6.3" stroke="#80b434" stroke-opacity="0.17" stroke-width="1.0"/><path d="M20 449 l-0.6 -20.0" stroke="#80b434" stroke-opacity="0.45" stroke-width="2.8"/><path d="M590 246 l2.3 -10.5" stroke="#2f560b" stroke-opacity="0.31" stroke-width="1.6"/><path d="M78 165 l0.5 -4.5" stroke="#80b434" stroke-opacity="0.30" stroke-width="1.1"/><path d="M409 203 l1.5 -7.2" stroke="#74a82c" stroke-opacity="0.36" stroke-width="1.3"/><path d="M438 309 l-3.2 -12.5" stroke="#284a08" stroke-opacity="0.36" stroke-width="2.0"/><path d="M233 231 l0.1 -8.0" stroke="#284a08" stroke-opacity="0.37" stroke-width="1.5"/><path d="M66 149 l0.4 -5.9" stroke="#1c3604" stroke-opacity="0.23" stroke-width="1.0"/><path d="M340 461 l3.5 -16.4" stroke="#80b434" stroke-opacity="0.37" stroke-width="2.9"/><path d="M228 158 l-1.5 -5.1" stroke="#284a08" stroke-opacity="0.33" stroke-width="1.0"/><path d="M639 319 l0.4 -13.4" stroke="#1c3604" stroke-opacity="0.30" stroke-width="2.0"/><path d="M457 411 l-2.9 -15.7" stroke="#284a08" stroke-opacity="0.46" stroke-width="2.6"/><path d="M348 381 l-0.2 -12.8" stroke="#80b434" stroke-opacity="0.38" stroke-width="2.4"/><path d="M539 264 l0.0 -10.2" stroke="#284a08" stroke-opacity="0.40" stroke-width="1.7"/><path d="M119 203 l1.7 -6.0" stroke="#74a82c" stroke-opacity="0.26" stroke-width="1.3"/><path d="M376 250 l1.1 -7.8" stroke="#74a82c" stroke-opacity="0.40" stroke-width="1.6"/><path d="M0 248 l-0.8 -11.3" stroke="#80b434" stroke-opacity="0.24" stroke-width="1.6"/><path d="M425 331 l2.2 -8.3" stroke="#284a08" stroke-opacity="0.31" stroke-width="2.1"/><path d="M583 336 l-2.6 -13.2" stroke="#2f560b" stroke-opacity="0.35" stroke-width="2.1"/><path d="M404 274 l1.1 -9.9" stroke="#2f560b" stroke-opacity="0.39" stroke-width="1.8"/><path d="M152 514 l-7.7 -25.1" stroke="#284a08" stroke-opacity="0.41" stroke-width="3.2"/><path d="M-8 139 l-2.2 -6.7" stroke="#2f560b" stroke-opacity="0.29" stroke-width="0.9"/><path d="M622 432 l3.0 -17.8" stroke="#284a08" stroke-opacity="0.47" stroke-width="2.7"/><path d="M370 447 l-1.4 -14.1" stroke="#74a82c" stroke-opacity="0.50" stroke-width="2.8"/><path d="M367 331 l-4.2 -14.2" stroke="#1c3604" stroke-opacity="0.34" stroke-width="2.1"/><path d="M271 267 l1.5 -9.9" stroke="#80b434" stroke-opacity="0.33" stroke-width="1.7"/><path d="M516 276 l2.1 -9.9" stroke="#80b434" stroke-opacity="0.35" stroke-width="1.8"/><path d="M258 505 l-3.8 -19.4" stroke="#80b434" stroke-opacity="0.45" stroke-width="3.2"/><path d="M256 177 l-0.8 -6.2" stroke="#74a82c" stroke-opacity="0.38" stroke-width="1.2"/><path d="M256 211 l-1.0 -7.4" stroke="#1c3604" stroke-opacity="0.29" stroke-width="1.4"/><path d="M322 157 l-2.9 -8.9" stroke="#1c3604" stroke-opacity="0.26" stroke-width="1.0"/><path d="M583 539 l1.8 -27.0" stroke="#80b434" stroke-opacity="0.54" stroke-width="3.4"/><path d="M548 531 l-8.1 -23.1" stroke="#80b434" stroke-opacity="0.48" stroke-width="3.3"/><path d="M578 261 l-1.7 -9.6" stroke="#2f560b" stroke-opacity="0.24" stroke-width="1.7"/><path d="M170 407 l2.9 -17.8" stroke="#80b434" stroke-opacity="0.48" stroke-width="2.6"/><path d="M483 491 l-3.7 -32.0" stroke="#80b434" stroke-opacity="0.46" stroke-width="3.1"/><path d="M222 373 l-0.8 -17.0" stroke="#203c05" stroke-opacity="0.37" stroke-width="2.4"/><path d="M1 399 l2.6 -18.5" stroke="#284a08" stroke-opacity="0.34" stroke-width="2.5"/><path d="M338 155 l0.8 -4.6" stroke="#1c3604" stroke-opacity="0.20" stroke-width="1.0"/><path d="M543 284 l0.2 -9.9" stroke="#80b434" stroke-opacity="0.27" stroke-width="1.8"/><path d="M189 182 l-1.7 -8.4" stroke="#2f560b" stroke-opacity="0.28" stroke-width="1.2"/><path d="M591 480 l-2.0 -20.2" stroke="#80b434" stroke-opacity="0.56" stroke-width="3.0"/><path d="M-8 495 l-5.7 -30.3" stroke="#1c3604" stroke-opacity="0.45" stroke-width="3.1"/><path d="M582 398 l1.5 -15.4" stroke="#1c3604" stroke-opacity="0.35" stroke-width="2.5"/><path d="M79 414 l-4.8 -18.2" stroke="#2f560b" stroke-opacity="0.46" stroke-width="2.6"/><path d="M607 143 l1.4 -7.3" stroke="#2f560b" stroke-opacity="0.23" stroke-width="0.9"/><path d="M347 142 l-1.4 -8.4" stroke="#203c05" stroke-opacity="0.36" stroke-width="0.9"/><path d="M292 339 l-3.8 -14.6" stroke="#2f560b" stroke-opacity="0.35" stroke-width="2.2"/><path d="M17 501 l8.8 -29.0" stroke="#284a08" stroke-opacity="0.49" stroke-width="3.2"/><path d="M177 234 l-2.5 -7.3" stroke="#203c05" stroke-opacity="0.33" stroke-width="1.5"/><path d="M378 134 l-1.2 -5.7" stroke="#74a82c" stroke-opacity="0.17" stroke-width="0.9"/><path d="M39 233 l-1.8 -7.4" stroke="#2f560b" stroke-opacity="0.32" stroke-width="1.5"/><path d="M-3 132 l-0.9 -5.4" stroke="#80b434" stroke-opacity="0.27" stroke-width="0.9"/><path d="M495 350 l3.6 -13.9" stroke="#2f560b" stroke-opacity="0.43" stroke-width="2.2"/><path d="M42 354 l-5.1 -15.8" stroke="#80b434" stroke-opacity="0.30" stroke-width="2.2"/><path d="M313 332 l3.0 -13.7" stroke="#1c3604" stroke-opacity="0.47" stroke-width="2.1"/><path d="M589 177 l-3.0 -9.3" stroke="#203c05" stroke-opacity="0.21" stroke-width="1.2"/><path d="M295 287 l1.1 -8.5" stroke="#2f560b" stroke-opacity="0.30" stroke-width="1.8"/><path d="M241 397 l0.5 -19.9" stroke="#80b434" stroke-opacity="0.44" stroke-width="2.5"/><path d="M400 420 l5.0 -19.4" stroke="#2f560b" stroke-opacity="0.47" stroke-width="2.7"/><path d="M374 466 l-7.6 -25.2" stroke="#74a82c" stroke-opacity="0.53" stroke-width="2.9"/><path d="M127 466 l8.5 -29.0" stroke="#284a08" stroke-opacity="0.55" stroke-width="2.9"/><path d="M548 467 l-7.2 -23.8" stroke="#1c3604" stroke-opacity="0.43" stroke-width="3.0"/><path d="M551 447 l-1.1 -17.8" stroke="#1c3604" stroke-opacity="0.38" stroke-width="2.8"/><path d="M484 377 l1.2 -15.9" stroke="#203c05" stroke-opacity="0.49" stroke-width="2.4"/><path d="M276 248 l-0.2 -10.1" stroke="#80b434" stroke-opacity="0.33" stroke-width="1.6"/><path d="M417 234 l0.9 -9.0" stroke="#284a08" stroke-opacity="0.23" stroke-width="1.5"/><path d="M453 141 l-0.8 -6.5" stroke="#203c05" stroke-opacity="0.21" stroke-width="0.9"/><path d="M668 403 l-1.5 -18.8" stroke="#74a82c" stroke-opacity="0.51" stroke-width="2.5"/><path d="M479 490 l1.0 -17.3" stroke="#203c05" stroke-opacity="0.52" stroke-width="3.1"/><path d="M463 519 l9.0 -28.5" stroke="#284a08" stroke-opacity="0.48" stroke-width="3.3"/><path d="M666 444 l-3.6 -25.7" stroke="#80b434" stroke-opacity="0.44" stroke-width="2.8"/><path d="M615 381 l6.4 -18.9" stroke="#284a08" stroke-opacity="0.44" stroke-width="2.4"/><path d="M626 530 l0.1 -23.4" stroke="#1c3604" stroke-opacity="0.55" stroke-width="3.3"/><path d="M86 437 l-5.5 -24.9" stroke="#1c3604" stroke-opacity="0.41" stroke-width="2.8"/><path d="M254 372 l2.1 -15.6" stroke="#203c05" stroke-opacity="0.37" stroke-width="2.4"/><path d="M299 328 l4.4 -14.9" stroke="#74a82c" stroke-opacity="0.28" stroke-width="2.1"/><path d="M67 444 l-6.6 -22.3" stroke="#203c05" stroke-opacity="0.48" stroke-width="2.8"/><path d="M111 473 l6.6 -21.7" stroke="#203c05" stroke-opacity="0.55" stroke-width="3.0"/><path d="M361 387 l3.7 -20.5" stroke="#1c3604" stroke-opacity="0.42" stroke-width="2.5"/><path d="M154 476 l2.4 -28.1" stroke="#80b434" stroke-opacity="0.53" stroke-width="3.0"/><path d="M615 250 l-0.2 -5.7" stroke="#80b434" stroke-opacity="0.32" stroke-width="1.6"/><path d="M333 321 l0.6 -13.9" stroke="#2f560b" stroke-opacity="0.36" stroke-width="2.0"/><path d="M6 266 l3.0 -9.1" stroke="#74a82c" stroke-opacity="0.44" stroke-width="1.7"/><path d="M662 250 l-0.8 -7.5" stroke="#80b434" stroke-opacity="0.26" stroke-width="1.6"/><path d="M288 224 l-0.3 -10.4" stroke="#74a82c" stroke-opacity="0.23" stroke-width="1.4"/><path d="M46 291 l-1.1 -11.8" stroke="#284a08" stroke-opacity="0.33" stroke-width="1.9"/><path d="M72 446 l-3.8 -28.2" stroke="#284a08" stroke-opacity="0.44" stroke-width="2.8"/><path d="M40 364 l-3.3 -18.3" stroke="#284a08" stroke-opacity="0.33" stroke-width="2.3"/><path d="M186 323 l0.3 -11.3" stroke="#74a82c" stroke-opacity="0.37" stroke-width="2.1"/><path d="M44 214 l-1.4 -6.9" stroke="#74a82c" stroke-opacity="0.30" stroke-width="1.4"/><path d="M218 214 l-2.5 -8.0" stroke="#74a82c" stroke-opacity="0.39" stroke-width="1.4"/><path d="M120 256 l1.1 -6.9" stroke="#203c05" stroke-opacity="0.40" stroke-width="1.6"/><path d="M409 243 l-2.1 -9.3" stroke="#1c3604" stroke-opacity="0.30" stroke-width="1.6"/><path d="M11 492 l2.7 -24.5" stroke="#80b434" stroke-opacity="0.55" stroke-width="3.1"/><path d="M381 521 l-9.6 -30.7" stroke="#284a08" stroke-opacity="0.53" stroke-width="3.3"/><path d="M507 205 l0.4 -5.8" stroke="#2f560b" stroke-opacity="0.31" stroke-width="1.3"/><path d="M438 535 l4.4 -36.9" stroke="#74a82c" stroke-opacity="0.57" stroke-width="3.4"/><path d="M311 365 l3.4 -13.6" stroke="#2f560b" stroke-opacity="0.47" stroke-width="2.3"/><path d="M284 417 l1.2 -17.8" stroke="#2f560b" stroke-opacity="0.34" stroke-width="2.6"/><path d="M62 485 l6.4 -31.9" stroke="#80b434" stroke-opacity="0.40" stroke-width="3.1"/><path d="M32 359 l-3.5 -17.3" stroke="#1c3604" stroke-opacity="0.39" stroke-width="2.3"/><path d="M475 442 l6.5 -26.1" stroke="#2f560b" stroke-opacity="0.46" stroke-width="2.8"/><path d="M600 501 l-7.6 -22.8" stroke="#80b434" stroke-opacity="0.55" stroke-width="3.2"/><path d="M47 303 l-3.1 -12.0" stroke="#284a08" stroke-opacity="0.33" stroke-width="1.9"/><path d="M671 417 l1.9 -20.5" stroke="#284a08" stroke-opacity="0.50" stroke-width="2.6"/><path d="M486 298 l2.2 -13.1" stroke="#2f560b" stroke-opacity="0.37" stroke-width="1.9"/><path d="M53 182 l0.1 -8.6" stroke="#1c3604" stroke-opacity="0.24" stroke-width="1.2"/><path d="M183 271 l-0.3 -11.8" stroke="#284a08" stroke-opacity="0.36" stroke-width="1.7"/><path d="M18 315 l2.2 -9.7" stroke="#74a82c" stroke-opacity="0.33" stroke-width="2.0"/><path d="M575 228 l-2.7 -9.6" stroke="#203c05" stroke-opacity="0.41" stroke-width="1.5"/><path d="M18 480 l6.1 -29.7" stroke="#203c05" stroke-opacity="0.51" stroke-width="3.0"/><path d="M223 386 l-1.9 -17.9" stroke="#2f560b" stroke-opacity="0.38" stroke-width="2.4"/><path d="M605 385 l-3.6 -21.6" stroke="#1c3604" stroke-opacity="0.39" stroke-width="2.4"/><path d="M462 240 l-1.5 -7.9" stroke="#1c3604" stroke-opacity="0.40" stroke-width="1.5"/><path d="M343 494 l-12.1 -35.2" stroke="#203c05" stroke-opacity="0.52" stroke-width="3.1"/><path d="M178 444 l4.8 -23.6" stroke="#80b434" stroke-opacity="0.46" stroke-width="2.8"/><path d="M606 371 l-0.6 -15.5" stroke="#74a82c" stroke-opacity="0.41" stroke-width="2.4"/><path d="M264 234 l0.1 -5.1" stroke="#203c05" stroke-opacity="0.31" stroke-width="1.5"/><path d="M259 209 l-0.3 -5.9" stroke="#284a08" stroke-opacity="0.26" stroke-width="1.3"/><path d="M176 423 l1.6 -19.2" stroke="#74a82c" stroke-opacity="0.49" stroke-width="2.7"/><path d="M242 278 l2.0 -6.5" stroke="#1c3604" stroke-opacity="0.27" stroke-width="1.8"/><path d="M198 124 l0.4 -4.1" stroke="#203c05" stroke-opacity="0.22" stroke-width="0.8"/><path d="M190 482 l7.0 -28.3" stroke="#74a82c" stroke-opacity="0.54" stroke-width="3.0"/><path d="M638 536 l-6.1 -20.6" stroke="#1c3604" stroke-opacity="0.49" stroke-width="3.4"/><path d="M163 447 l6.3 -22.9" stroke="#74a82c" stroke-opacity="0.51" stroke-width="2.8"/><path d="M97 275 l3.6 -12.8" stroke="#74a82c" stroke-opacity="0.42" stroke-width="1.8"/><path d="M231 325 l2.5 -10.6" stroke="#1c3604" stroke-opacity="0.43" stroke-width="2.1"/><path d="M335 121 l-0.6 -5.8" stroke="#74a82c" stroke-opacity="0.33" stroke-width="0.8"/><path d="M580 129 l-1.4 -6.7" stroke="#74a82c" stroke-opacity="0.18" stroke-width="0.9"/><path d="M448 233 l-0.4 -9.5" stroke="#284a08" stroke-opacity="0.32" stroke-width="1.5"/><path d="M442 177 l-0.1 -7.1" stroke="#284a08" stroke-opacity="0.20" stroke-width="1.2"/><path d="M521 266 l3.1 -9.6" stroke="#1c3604" stroke-opacity="0.38" stroke-width="1.7"/><path d="M155 509 l-3.0 -22.6" stroke="#203c05" stroke-opacity="0.50" stroke-width="3.2"/><path d="M403 526 l0.8 -21.0" stroke="#2f560b" stroke-opacity="0.42" stroke-width="3.3"/><path d="M44 281 l-0.4 -11.1" stroke="#80b434" stroke-opacity="0.43" stroke-width="1.8"/><path d="M510 258 l2.8 -9.7" stroke="#2f560b" stroke-opacity="0.38" stroke-width="1.7"/><path d="M429 440 l3.9 -14.0" stroke="#74a82c" stroke-opacity="0.47" stroke-width="2.8"/><path d="M272 466 l1.4 -18.3" stroke="#284a08" stroke-opacity="0.54" stroke-width="2.9"/><path d="M220 387 l2.7 -14.2" stroke="#74a82c" stroke-opacity="0.34" stroke-width="2.5"/><path d="M520 330 l-4.0 -11.6" stroke="#284a08" stroke-opacity="0.30" stroke-width="2.1"/><path d="M460 283 l-2.6 -9.8" stroke="#74a82c" stroke-opacity="0.41" stroke-width="1.8"/><path d="M520 510 l7.6 -22.2" stroke="#2f560b" stroke-opacity="0.39" stroke-width="3.2"/><path d="M335 401 l-5.9 -17.5" stroke="#74a82c" stroke-opacity="0.49" stroke-width="2.5"/><path d="M183 136 l-2.0 -8.2" stroke="#2f560b" stroke-opacity="0.36" stroke-width="0.9"/><path d="M123 535 l-5.0 -18.5" stroke="#74a82c" stroke-opacity="0.50" stroke-width="3.4"/><path d="M199 424 l1.2 -17.6" stroke="#284a08" stroke-opacity="0.36" stroke-width="2.7"/><path d="M81 232 l-0.8 -7.7" stroke="#1c3604" stroke-opacity="0.41" stroke-width="1.5"/><path d="M284 467 l0.4 -24.4" stroke="#203c05" stroke-opacity="0.47" stroke-width="2.9"/><path d="M199 521 l3.7 -30.9" stroke="#284a08" stroke-opacity="0.54" stroke-width="3.3"/><path d="M475 225 l0.4 -7.1" stroke="#203c05" stroke-opacity="0.37" stroke-width="1.5"/><path d="M471 251 l-1.3 -10.5" stroke="#74a82c" stroke-opacity="0.34" stroke-width="1.6"/><path d="M653 209 l-0.9 -8.0" stroke="#1c3604" stroke-opacity="0.25" stroke-width="1.4"/><path d="M346 173 l-1.1 -5.6" stroke="#1c3604" stroke-opacity="0.22" stroke-width="1.1"/><path d="M387 336 l-5.2 -16.5" stroke="#74a82c" stroke-opacity="0.47" stroke-width="2.1"/><path d="M198 185 l-1.0 -7.0" stroke="#284a08" stroke-opacity="0.25" stroke-width="1.2"/><path d="M91 277 l-2.2 -8.7" stroke="#74a82c" stroke-opacity="0.36" stroke-width="1.8"/><path d="M577 272 l-1.0 -9.7" stroke="#284a08" stroke-opacity="0.36" stroke-width="1.7"/><path d="M459 246 l2.5 -9.5" stroke="#74a82c" stroke-opacity="0.42" stroke-width="1.6"/><path d="M70 464 l-4.8 -19.8" stroke="#1c3604" stroke-opacity="0.54" stroke-width="2.9"/><path d="M203 498 l-2.4 -22.4" stroke="#1c3604" stroke-opacity="0.57" stroke-width="3.1"/><path d="M173 148 l2.6 -7.7" stroke="#80b434" stroke-opacity="0.31" stroke-width="1.0"/><path d="M93 300 l1.7 -11.9" stroke="#284a08" stroke-opacity="0.29" stroke-width="1.9"/><path d="M524 438 l-6.1 -24.2" stroke="#203c05" stroke-opacity="0.41" stroke-width="2.8"/><path d="M208 182 l-0.2 -9.1" stroke="#203c05" stroke-opacity="0.33" stroke-width="1.2"/><path d="M483 429 l1.9 -17.7" stroke="#2f560b" stroke-opacity="0.48" stroke-width="2.7"/><path d="M367 195 l0.5 -5.1" stroke="#2f560b" stroke-opacity="0.31" stroke-width="1.3"/><path d="M379 467 l-6.1 -24.0" stroke="#2f560b" stroke-opacity="0.49" stroke-width="2.9"/><path d="M344 346 l2.5 -9.0" stroke="#1c3604" stroke-opacity="0.32" stroke-width="2.2"/><path d="M124 383 l5.2 -17.3" stroke="#284a08" stroke-opacity="0.47" stroke-width="2.4"/><path d="M296 469 l5.4 -26.8" stroke="#74a82c" stroke-opacity="0.40" stroke-width="3.0"/><path d="M318 191 l-1.3 -5.4" stroke="#2f560b" stroke-opacity="0.37" stroke-width="1.2"/><path d="M108 435 l-6.0 -19.2" stroke="#2f560b" stroke-opacity="0.35" stroke-width="2.8"/><path d="M21 245 l-0.2 -9.1" stroke="#2f560b" stroke-opacity="0.39" stroke-width="1.6"/><path d="M348 302 l3.6 -11.8" stroke="#284a08" stroke-opacity="0.44" stroke-width="1.9"/><path d="M513 155 l-0.4 -8.1" stroke="#1c3604" stroke-opacity="0.31" stroke-width="1.0"/><path d="M629 452 l8.3 -27.0" stroke="#80b434" stroke-opacity="0.47" stroke-width="2.9"/><path d="M279 234 l-2.4 -7.5" stroke="#1c3604" stroke-opacity="0.40" stroke-width="1.5"/><path d="M597 352 l1.7 -13.7" stroke="#80b434" stroke-opacity="0.35" stroke-width="2.2"/><path d="M675 151 l0.6 -4.5" stroke="#1c3604" stroke-opacity="0.29" stroke-width="1.0"/><path d="M296 350 l-2.9 -12.9" stroke="#203c05" stroke-opacity="0.32" stroke-width="2.2"/><path d="M16 429 l3.4 -17.4" stroke="#2f560b" stroke-opacity="0.53" stroke-width="2.7"/><path d="M189 349 l-4.1 -15.2" stroke="#2f560b" stroke-opacity="0.30" stroke-width="2.2"/><path d="M279 401 l-3.8 -18.5" stroke="#2f560b" stroke-opacity="0.37" stroke-width="2.5"/><path d="M315 514 l1.5 -34.8" stroke="#284a08" stroke-opacity="0.47" stroke-width="3.2"/><path d="M626 469 l4.0 -18.6" stroke="#203c05" stroke-opacity="0.50" stroke-width="3.0"/><path d="M442 425 l4.6 -22.3" stroke="#2f560b" stroke-opacity="0.52" stroke-width="2.7"/><path d="M51 347 l-3.6 -11.8" stroke="#80b434" stroke-opacity="0.41" stroke-width="2.2"/><path d="M613 379 l-3.1 -11.8" stroke="#1c3604" stroke-opacity="0.47" stroke-width="2.4"/><path d="M314 184 l-0.1 -8.1" stroke="#203c05" stroke-opacity="0.24" stroke-width="1.2"/><path d="M499 233 l1.6 -8.7" stroke="#284a08" stroke-opacity="0.28" stroke-width="1.5"/><path d="M433 125 l-0.3 -7.3" stroke="#203c05" stroke-opacity="0.29" stroke-width="0.8"/><path d="M535 512 l-5.2 -25.1" stroke="#80b434" stroke-opacity="0.39" stroke-width="3.2"/><path d="M481 325 l-2.7 -11.3" stroke="#74a82c" stroke-opacity="0.39" stroke-width="2.1"/><path d="M674 123 l-2.3 -7.0" stroke="#203c05" stroke-opacity="0.30" stroke-width="0.8"/><path d="M634 371 l-3.2 -15.5" stroke="#74a82c" stroke-opacity="0.38" stroke-width="2.4"/><path d="M396 462 l3.8 -29.8" stroke="#74a82c" stroke-opacity="0.44" stroke-width="2.9"/><path d="M487 457 l-8.0 -29.4" stroke="#80b434" stroke-opacity="0.46" stroke-width="2.9"/><path d="M240 524 l-0.0 -24.3" stroke="#74a82c" stroke-opacity="0.57" stroke-width="3.3"/><path d="M-7 180 l-0.6 -5.2" stroke="#203c05" stroke-opacity="0.26" stroke-width="1.2"/><path d="M385 362 l-1.3 -16.1" stroke="#203c05" stroke-opacity="0.44" stroke-width="2.3"/><path d="M420 451 l-2.7 -14.4" stroke="#203c05" stroke-opacity="0.43" stroke-width="2.8"/><path d="M359 533 l6.0 -32.2" stroke="#203c05" stroke-opacity="0.49" stroke-width="3.4"/><path d="M354 390 l-5.5 -18.6" stroke="#1c3604" stroke-opacity="0.47" stroke-width="2.5"/><path d="M467 263 l-2.8 -10.2" stroke="#74a82c" stroke-opacity="0.37" stroke-width="1.7"/><path d="M642 381 l1.1 -13.4" stroke="#284a08" stroke-opacity="0.45" stroke-width="2.4"/><path d="M558 480 l-4.2 -23.8" stroke="#80b434" stroke-opacity="0.46" stroke-width="3.0"/><path d="M133 412 l-4.8 -20.2" stroke="#203c05" stroke-opacity="0.46" stroke-width="2.6"/><path d="M366 355 l-3.3 -14.9" stroke="#80b434" stroke-opacity="0.44" stroke-width="2.3"/><path d="M376 328 l-3.0 -9.6" stroke="#80b434" stroke-opacity="0.35" stroke-width="2.1"/><path d="M421 155 l-0.9 -5.2" stroke="#80b434" stroke-opacity="0.22" stroke-width="1.0"/><path d="M268 229 l-2.7 -10.2" stroke="#2f560b" stroke-opacity="0.33" stroke-width="1.5"/><path d="M193 272 l0.6 -10.0" stroke="#284a08" stroke-opacity="0.44" stroke-width="1.7"/><path d="M542 539 l-0.3 -23.2" stroke="#203c05" stroke-opacity="0.49" stroke-width="3.4"/><path d="M615 427 l-0.3 -17.1" stroke="#284a08" stroke-opacity="0.33" stroke-width="2.7"/><path d="M409 133 l0.1 -6.7" stroke="#74a82c" stroke-opacity="0.31" stroke-width="0.9"/><path d="M518 360 l-3.3 -12.4" stroke="#2f560b" stroke-opacity="0.34" stroke-width="2.3"/><path d="M202 504 l-5.3 -27.7" stroke="#203c05" stroke-opacity="0.56" stroke-width="3.2"/><path d="M578 163 l-1.6 -5.8" stroke="#80b434" stroke-opacity="0.30" stroke-width="1.1"/><path d="M609 144 l-0.6 -6.0" stroke="#1c3604" stroke-opacity="0.18" stroke-width="0.9"/><path d="M591 504 l-3.8 -35.1" stroke="#2f560b" stroke-opacity="0.52" stroke-width="3.2"/><path d="M230 229 l0.7 -7.2" stroke="#1c3604" stroke-opacity="0.31" stroke-width="1.5"/><path d="M588 392 l0.9 -18.6" stroke="#284a08" stroke-opacity="0.48" stroke-width="2.5"/><path d="M119 182 l-1.0 -7.4" stroke="#284a08" stroke-opacity="0.22" stroke-width="1.2"/><path d="M117 361 l-1.0 -17.8" stroke="#203c05" stroke-opacity="0.30" stroke-width="2.3"/><path d="M350 191 l-1.7 -6.6" stroke="#284a08" stroke-opacity="0.32" stroke-width="1.2"/><path d="M63 512 l-0.0 -22.2" stroke="#1c3604" stroke-opacity="0.47" stroke-width="3.2"/><path d="M307 407 l4.3 -13.8" stroke="#2f560b" stroke-opacity="0.40" stroke-width="2.6"/><path d="M451 177 l-2.3 -7.6" stroke="#203c05" stroke-opacity="0.28" stroke-width="1.2"/><path d="M139 170 l-1.8 -5.9" stroke="#1c3604" stroke-opacity="0.35" stroke-width="1.1"/><path d="M229 248 l-0.5 -10.1" stroke="#74a82c" stroke-opacity="0.31" stroke-width="1.6"/><path d="M662 128 l-0.5 -6.1" stroke="#74a82c" stroke-opacity="0.27" stroke-width="0.8"/><path d="M339 207 l1.4 -6.7" stroke="#284a08" stroke-opacity="0.23" stroke-width="1.3"/><path d="M407 393 l1.8 -17.4" stroke="#80b434" stroke-opacity="0.40" stroke-width="2.5"/><path d="M234 272 l-2.5 -9.2" stroke="#203c05" stroke-opacity="0.41" stroke-width="1.7"/><path d="M398 321 l3.1 -14.0" stroke="#74a82c" stroke-opacity="0.46" stroke-width="2.0"/><path d="M303 433 l-6.7 -22.5" stroke="#74a82c" stroke-opacity="0.51" stroke-width="2.7"/><path d="M46 204 l2.2 -6.3" stroke="#1c3604" stroke-opacity="0.29" stroke-width="1.3"/><path d="M357 173 l-0.7 -5.5" stroke="#80b434" stroke-opacity="0.35" stroke-width="1.1"/><path d="M620 189 l0.5 -6.7" stroke="#284a08" stroke-opacity="0.36" stroke-width="1.2"/><path d="M506 509 l-7.6 -26.4" stroke="#74a82c" stroke-opacity="0.54" stroke-width="3.2"/><path d="M487 481 l-3.0 -19.5" stroke="#80b434" stroke-opacity="0.48" stroke-width="3.0"/><path d="M431 538 l0.6 -27.9" stroke="#1c3604" stroke-opacity="0.48" stroke-width="3.4"/><path d="M99 227 l-2.0 -7.5" stroke="#74a82c" stroke-opacity="0.24" stroke-width="1.5"/><path d="M614 223 l0.8 -7.5" stroke="#74a82c" stroke-opacity="0.34" stroke-width="1.4"/><path d="M417 238 l-1.8 -9.4" stroke="#203c05" stroke-opacity="0.24" stroke-width="1.5"/><path d="M170 153 l-0.8 -5.1" stroke="#203c05" stroke-opacity="0.22" stroke-width="1.0"/><path d="M521 399 l-5.3 -23.1" stroke="#284a08" stroke-opacity="0.33" stroke-width="2.5"/><path d="M2 290 l-2.6 -12.2" stroke="#80b434" stroke-opacity="0.34" stroke-width="1.9"/><path d="M202 263 l0.5 -9.5" stroke="#203c05" stroke-opacity="0.33" stroke-width="1.7"/><path d="M266 300 l0.1 -10.2" stroke="#2f560b" stroke-opacity="0.35" stroke-width="1.9"/><path d="M167 219 l0.0 -6.2" stroke="#1c3604" stroke-opacity="0.41" stroke-width="1.4"/><path d="M36 527 l4.6 -24.9" stroke="#203c05" stroke-opacity="0.49" stroke-width="3.3"/><path d="M312 296 l0.9 -11.9" stroke="#203c05" stroke-opacity="0.45" stroke-width="1.9"/><path d="M524 282 l-0.6 -8.0" stroke="#284a08" stroke-opacity="0.41" stroke-width="1.8"/><path d="M189 168 l1.2 -8.4" stroke="#1c3604" stroke-opacity="0.28" stroke-width="1.1"/><path d="M83 199 l-0.7 -5.7" stroke="#284a08" stroke-opacity="0.21" stroke-width="1.3"/><path d="M215 517 l-0.2 -19.1" stroke="#203c05" stroke-opacity="0.42" stroke-width="3.3"/><path d="M455 537 l-1.6 -35.2" stroke="#203c05" stroke-opacity="0.49" stroke-width="3.4"/><path d="M427 266 l-1.6 -8.8" stroke="#2f560b" stroke-opacity="0.41" stroke-width="1.7"/><path d="M172 491 l1.3 -28.6" stroke="#284a08" stroke-opacity="0.42" stroke-width="3.1"/><path d="M249 508 l-5.7 -28.2" stroke="#1c3604" stroke-opacity="0.42" stroke-width="3.2"/><path d="M6 520 l-1.1 -28.8" stroke="#203c05" stroke-opacity="0.51" stroke-width="3.3"/><path d="M209 208 l-1.0 -8.1" stroke="#203c05" stroke-opacity="0.23" stroke-width="1.3"/><path d="M136 246 l2.3 -8.3" stroke="#2f560b" stroke-opacity="0.27" stroke-width="1.6"/><path d="M163 350 l2.7 -17.7" stroke="#2f560b" stroke-opacity="0.36" stroke-width="2.2"/><path d="M562 471 l8.7 -28.9" stroke="#2f560b" stroke-opacity="0.39" stroke-width="3.0"/><path d="M107 150 l2.1 -6.2" stroke="#203c05" stroke-opacity="0.24" stroke-width="1.0"/><path d="M592 517 l1.6 -18.6" stroke="#203c05" stroke-opacity="0.58" stroke-width="3.3"/><path d="M105 210 l0.7 -7.6" stroke="#203c05" stroke-opacity="0.35" stroke-width="1.4"/><path d="M26 137 l-0.6 -4.2" stroke="#203c05" stroke-opacity="0.32" stroke-width="0.9"/><path d="M370 299 l-3.1 -13.3" stroke="#284a08" stroke-opacity="0.31" stroke-width="1.9"/><path d="M117 422 l-3.5 -20.1" stroke="#284a08" stroke-opacity="0.38" stroke-width="2.7"/><path d="M172 272 l1.2 -7.6" stroke="#284a08" stroke-opacity="0.37" stroke-width="1.7"/><path d="M69 443 l-2.6 -17.3" stroke="#2f560b" stroke-opacity="0.35" stroke-width="2.8"/><path d="M590 151 l0.3 -4.3" stroke="#80b434" stroke-opacity="0.29" stroke-width="1.0"/><path d="M577 189 l-2.8 -9.5" stroke="#1c3604" stroke-opacity="0.29" stroke-width="1.2"/><path d="M410 295 l-2.3 -11.7" stroke="#74a82c" stroke-opacity="0.26" stroke-width="1.9"/><path d="M60 462 l5.8 -20.3" stroke="#2f560b" stroke-opacity="0.51" stroke-width="2.9"/><path d="M92 214 l0.4 -6.2" stroke="#74a82c" stroke-opacity="0.38" stroke-width="1.4"/><path d="M349 226 l2.3 -7.2" stroke="#203c05" stroke-opacity="0.36" stroke-width="1.5"/><path d="M511 463 l-3.7 -22.0" stroke="#1c3604" stroke-opacity="0.55" stroke-width="2.9"/><path d="M548 252 l2.1 -8.3" stroke="#2f560b" stroke-opacity="0.34" stroke-width="1.6"/><path d="M105 370 l-3.9 -14.7" stroke="#1c3604" stroke-opacity="0.40" stroke-width="2.3"/><path d="M121 314 l3.7 -14.5" stroke="#1c3604" stroke-opacity="0.36" stroke-width="2.0"/><path d="M450 485 l-9.4 -28.8" stroke="#74a82c" stroke-opacity="0.54" stroke-width="3.1"/><path d="M449 440 l1.0 -17.8" stroke="#80b434" stroke-opacity="0.37" stroke-width="2.8"/><path d="M342 487 l0.4 -29.5" stroke="#284a08" stroke-opacity="0.51" stroke-width="3.1"/><path d="M139 455 l6.5 -20.4" stroke="#284a08" stroke-opacity="0.47" stroke-width="2.9"/><path d="M608 294 l-1.4 -8.7" stroke="#203c05" stroke-opacity="0.44" stroke-width="1.9"/><path d="M479 535 l-9.2 -35.8" stroke="#80b434" stroke-opacity="0.47" stroke-width="3.4"/><path d="M-2 300 l-2.2 -10.4" stroke="#203c05" stroke-opacity="0.37" stroke-width="1.9"/><path d="M487 441 l-3.7 -22.9" stroke="#1c3604" stroke-opacity="0.41" stroke-width="2.8"/><path d="M444 142 l0.5 -4.9" stroke="#2f560b" stroke-opacity="0.34" stroke-width="0.9"/><path d="M176 379 l4.7 -14.4" stroke="#80b434" stroke-opacity="0.44" stroke-width="2.4"/><path d="M296 525 l6.4 -22.4" stroke="#1c3604" stroke-opacity="0.56" stroke-width="3.3"/><path d="M432 360 l-2.8 -10.6" stroke="#284a08" stroke-opacity="0.34" stroke-width="2.3"/><path d="M144 396 l4.6 -18.0" stroke="#203c05" stroke-opacity="0.51" stroke-width="2.5"/><path d="M412 385 l3.8 -13.9" stroke="#284a08" stroke-opacity="0.43" stroke-width="2.4"/><path d="M11 185 l0.2 -6.1" stroke="#284a08" stroke-opacity="0.25" stroke-width="1.2"/><path d="M240 417 l5.2 -15.5" stroke="#2f560b" stroke-opacity="0.52" stroke-width="2.6"/><path d="M577 429 l0.4 -21.0" stroke="#203c05" stroke-opacity="0.38" stroke-width="2.7"/><path d="M360 141 l1.0 -7.0" stroke="#284a08" stroke-opacity="0.17" stroke-width="0.9"/><path d="M104 356 l5.0 -14.5" stroke="#74a82c" stroke-opacity="0.47" stroke-width="2.3"/><path d="M262 233 l-1.9 -7.1" stroke="#1c3604" stroke-opacity="0.38" stroke-width="1.5"/><path d="M421 281 l3.6 -12.2" stroke="#74a82c" stroke-opacity="0.41" stroke-width="1.8"/><path d="M25 219 l1.6 -6.7" stroke="#2f560b" stroke-opacity="0.33" stroke-width="1.4"/><path d="M394 340 l1.0 -12.6" stroke="#74a82c" stroke-opacity="0.34" stroke-width="2.2"/><path d="M295 182 l0.0 -4.7" stroke="#203c05" stroke-opacity="0.27" stroke-width="1.2"/><path d="M253 406 l1.0 -18.7" stroke="#74a82c" stroke-opacity="0.46" stroke-width="2.6"/><path d="M269 430 l5.1 -22.8" stroke="#284a08" stroke-opacity="0.35" stroke-width="2.7"/><path d="M390 278 l-0.5 -11.2" stroke="#284a08" stroke-opacity="0.41" stroke-width="1.8"/><path d="M124 160 l-0.6 -6.9" stroke="#1c3604" stroke-opacity="0.36" stroke-width="1.0"/><path d="M105 188 l-2.9 -8.6" stroke="#203c05" stroke-opacity="0.23" stroke-width="1.2"/><path d="M597 156 l0.4 -8.2" stroke="#74a82c" stroke-opacity="0.37" stroke-width="1.0"/><path d="M566 501 l3.9 -26.8" stroke="#74a82c" stroke-opacity="0.54" stroke-width="3.2"/><path d="M566 371 l5.5 -19.4" stroke="#2f560b" stroke-opacity="0.45" stroke-width="2.4"/><path d="M491 198 l1.3 -7.1" stroke="#1c3604" stroke-opacity="0.28" stroke-width="1.3"/><path d="M-1 163 l-2.2 -8.7" stroke="#284a08" stroke-opacity="0.34" stroke-width="1.1"/><path d="M286 311 l-1.3 -11.2" stroke="#2f560b" stroke-opacity="0.37" stroke-width="2.0"/><path d="M491 460 l7.4 -22.2" stroke="#74a82c" stroke-opacity="0.45" stroke-width="2.9"/><path d="M422 240 l-1.2 -10.0" stroke="#1c3604" stroke-opacity="0.36" stroke-width="1.5"/><path d="M625 261 l1.3 -8.1" stroke="#284a08" stroke-opacity="0.30" stroke-width="1.7"/><path d="M331 466 l2.1 -24.2" stroke="#80b434" stroke-opacity="0.40" stroke-width="2.9"/><path d="M57 136 l-2.1 -7.8" stroke="#284a08" stroke-opacity="0.33" stroke-width="0.9"/><path d="M255 522 l0.2 -24.5" stroke="#284a08" stroke-opacity="0.57" stroke-width="3.3"/><path d="M49 268 l1.9 -8.0" stroke="#2f560b" stroke-opacity="0.31" stroke-width="1.7"/><path d="M528 215 l-2.5 -7.7" stroke="#74a82c" stroke-opacity="0.21" stroke-width="1.4"/><path d="M236 410 l3.2 -14.7" stroke="#80b434" stroke-opacity="0.33" stroke-width="2.6"/><path d="M320 165 l0.9 -6.4" stroke="#284a08" stroke-opacity="0.29" stroke-width="1.1"/><path d="M229 414 l-0.1 -16.4" stroke="#2f560b" stroke-opacity="0.43" stroke-width="2.6"/><path d="M317 218 l-1.4 -10.6" stroke="#284a08" stroke-opacity="0.32" stroke-width="1.4"/><path d="M497 488 l4.6 -24.1" stroke="#74a82c" stroke-opacity="0.53" stroke-width="3.1"/><path d="M451 514 l-9.0 -31.1" stroke="#80b434" stroke-opacity="0.48" stroke-width="3.2"/><path d="M545 522 l6.5 -36.7" stroke="#284a08" stroke-opacity="0.50" stroke-width="3.3"/><path d="M620 397 l2.2 -12.2" stroke="#203c05" stroke-opacity="0.42" stroke-width="2.5"/><path d="M247 531 l8.6 -30.0" stroke="#80b434" stroke-opacity="0.53" stroke-width="3.3"/><path d="M515 142 l0.4 -5.6" stroke="#74a82c" stroke-opacity="0.32" stroke-width="0.9"/><path d="M558 180 l-1.2 -4.7" stroke="#1c3604" stroke-opacity="0.27" stroke-width="1.2"/><path d="M340 188 l0.1 -9.1" stroke="#1c3604" stroke-opacity="0.39" stroke-width="1.2"/><path d="M315 314 l-0.3 -11.9" stroke="#80b434" stroke-opacity="0.27" stroke-width="2.0"/><path d="M357 380 l-0.4 -20.3" stroke="#203c05" stroke-opacity="0.31" stroke-width="2.4"/><path d="M657 232 l-0.9 -9.9" stroke="#80b434" stroke-opacity="0.36" stroke-width="1.5"/><path d="M486 372 l-2.0 -11.6" stroke="#203c05" stroke-opacity="0.39" stroke-width="2.4"/><path d="M436 229 l-3.1 -9.6" stroke="#74a82c" stroke-opacity="0.40" stroke-width="1.5"/><path d="M60 422 l-7.5 -21.6" stroke="#80b434" stroke-opacity="0.53" stroke-width="2.7"/><path d="M517 520 l9.0 -28.2" stroke="#203c05" stroke-opacity="0.40" stroke-width="3.3"/><path d="M485 190 l-0.4 -4.9" stroke="#74a82c" stroke-opacity="0.28" stroke-width="1.2"/><path d="M51 312 l0.5 -12.2" stroke="#284a08" stroke-opacity="0.35" stroke-width="2.0"/><path d="M173 208 l1.1 -5.2" stroke="#1c3604" stroke-opacity="0.33" stroke-width="1.3"/><path d="M27 344 l0.9 -11.9" stroke="#80b434" stroke-opacity="0.30" stroke-width="2.2"/><path d="M307 347 l-0.4 -11.1" stroke="#284a08" stroke-opacity="0.30" stroke-width="2.2"/><path d="M204 482 l3.6 -21.7" stroke="#2f560b" stroke-opacity="0.51" stroke-width="3.0"/><path d="M586 473 l-2.6 -25.5" stroke="#203c05" stroke-opacity="0.43" stroke-width="3.0"/><path d="M9 490 l-4.5 -28.1" stroke="#74a82c" stroke-opacity="0.41" stroke-width="3.1"/><path d="M41 533 l-4.4 -20.8" stroke="#203c05" stroke-opacity="0.54" stroke-width="3.4"/><path d="M664 123 l-1.7 -7.5" stroke="#80b434" stroke-opacity="0.22" stroke-width="0.8"/><path d="M667 409 l3.7 -18.0" stroke="#2f560b" stroke-opacity="0.52" stroke-width="2.6"/><path d="M117 370 l-0.2 -18.2" stroke="#80b434" stroke-opacity="0.44" stroke-width="2.4"/><path d="M149 223 l2.1 -8.1" stroke="#203c05" stroke-opacity="0.40" stroke-width="1.4"/><path d="M117 291 l-1.9 -8.0" stroke="#74a82c" stroke-opacity="0.36" stroke-width="1.9"/><path d="M64 479 l-5.5 -30.7" stroke="#203c05" stroke-opacity="0.49" stroke-width="3.0"/><path d="M552 154 l0.2 -5.7" stroke="#1c3604" stroke-opacity="0.37" stroke-width="1.0"/><path d="M592 504 l-10.3 -32.6" stroke="#2f560b" stroke-opacity="0.39" stroke-width="3.2"/><path d="M173 306 l-3.4 -10.8" stroke="#2f560b" stroke-opacity="0.31" stroke-width="1.9"/><path d="M77 349 l2.7 -14.5" stroke="#80b434" stroke-opacity="0.29" stroke-width="2.2"/><path d="M133 326 l1.9 -10.6" stroke="#74a82c" stroke-opacity="0.42" stroke-width="2.1"/><path d="M564 147 l0.6 -9.1" stroke="#74a82c" stroke-opacity="0.23" stroke-width="1.0"/><path d="M553 399 l0.7 -15.6" stroke="#80b434" stroke-opacity="0.39" stroke-width="2.5"/><path d="M16 168 l2.1 -6.7" stroke="#80b434" stroke-opacity="0.27" stroke-width="1.1"/><path d="M333 141 l-0.2 -7.3" stroke="#74a82c" stroke-opacity="0.27" stroke-width="0.9"/><path d="M415 210 l-1.0 -9.3" stroke="#2f560b" stroke-opacity="0.21" stroke-width="1.4"/><path d="M91 244 l0.7 -9.5" stroke="#284a08" stroke-opacity="0.32" stroke-width="1.6"/><path d="M304 210 l-1.2 -5.9" stroke="#1c3604" stroke-opacity="0.23" stroke-width="1.4"/><path d="M159 164 l2.7 -8.0" stroke="#2f560b" stroke-opacity="0.20" stroke-width="1.1"/><path d="M334 524 l-1.4 -22.3" stroke="#74a82c" stroke-opacity="0.49" stroke-width="3.3"/><path d="M28 380 l-2.9 -15.5" stroke="#284a08" stroke-opacity="0.47" stroke-width="2.4"/><path d="M302 124 l2.1 -7.7" stroke="#203c05" stroke-opacity="0.17" stroke-width="0.8"/><path d="M654 256 l1.8 -8.4" stroke="#284a08" stroke-opacity="0.29" stroke-width="1.6"/><path d="M58 470 l5.5 -25.3" stroke="#203c05" stroke-opacity="0.47" stroke-width="3.0"/><path d="M549 203 l1.8 -6.0" stroke="#1c3604" stroke-opacity="0.32" stroke-width="1.3"/><path d="M499 298 l-3.4 -13.8" stroke="#203c05" stroke-opacity="0.35" stroke-width="1.9"/><path d="M226 313 l1.5 -9.6" stroke="#74a82c" stroke-opacity="0.36" stroke-width="2.0"/><path d="M147 373 l0.3 -12.7" stroke="#80b434" stroke-opacity="0.33" stroke-width="2.4"/><path d="M661 203 l0.1 -5.2" stroke="#74a82c" stroke-opacity="0.27" stroke-width="1.3"/><path d="M536 142 l-0.3 -6.7" stroke="#284a08" stroke-opacity="0.29" stroke-width="0.9"/><path d="M423 533 l-1.2 -37.8" stroke="#2f560b" stroke-opacity="0.40" stroke-width="3.4"/><path d="M130 417 l-6.3 -22.7" stroke="#284a08" stroke-opacity="0.48" stroke-width="2.6"/><path d="M226 290 l0.3 -8.4" stroke="#1c3604" stroke-opacity="0.41" stroke-width="1.9"/><path d="M235 177 l-1.9 -6.8" stroke="#80b434" stroke-opacity="0.32" stroke-width="1.2"/><path d="M322 450 l2.7 -24.0" stroke="#284a08" stroke-opacity="0.47" stroke-width="2.8"/><path d="M80 154 l0.9 -7.9" stroke="#2f560b" stroke-opacity="0.28" stroke-width="1.0"/><path d="M576 155 l-0.1 -6.1" stroke="#1c3604" stroke-opacity="0.28" stroke-width="1.0"/><path d="M120 517 l-5.2 -27.0" stroke="#284a08" stroke-opacity="0.52" stroke-width="3.3"/><path d="M103 458 l-1.4 -27.1" stroke="#80b434" stroke-opacity="0.37" stroke-width="2.9"/><path d="M579 152 l1.4 -8.7" stroke="#203c05" stroke-opacity="0.35" stroke-width="1.0"/><path d="M136 166 l-1.3 -8.1" stroke="#1c3604" stroke-opacity="0.25" stroke-width="1.1"/><path d="M428 225 l-1.8 -9.0" stroke="#284a08" stroke-opacity="0.40" stroke-width="1.4"/><path d="M145 218 l-1.3 -7.6" stroke="#284a08" stroke-opacity="0.39" stroke-width="1.4"/><path d="M670 221 l-0.8 -6.0" stroke="#203c05" stroke-opacity="0.24" stroke-width="1.4"/><path d="M395 298 l-0.9 -8.2" stroke="#284a08" stroke-opacity="0.27" stroke-width="1.9"/><path d="M125 241 l-2.1 -6.5" stroke="#203c05" stroke-opacity="0.38" stroke-width="1.5"/><path d="M383 483 l7.3 -30.4" stroke="#2f560b" stroke-opacity="0.45" stroke-width="3.0"/><path d="M282 483 l3.5 -20.5" stroke="#74a82c" stroke-opacity="0.51" stroke-width="3.0"/><path d="M367 219 l-2.0 -6.8" stroke="#284a08" stroke-opacity="0.28" stroke-width="1.4"/><path d="M466 288 l-1.5 -11.8" stroke="#74a82c" stroke-opacity="0.26" stroke-width="1.8"/><path d="M135 413 l2.5 -14.1" stroke="#284a08" stroke-opacity="0.34" stroke-width="2.6"/><path d="M580 529 l-9.7 -27.9" stroke="#2f560b" stroke-opacity="0.48" stroke-width="3.3"/><path d="M225 478 l5.2 -21.7" stroke="#2f560b" stroke-opacity="0.37" stroke-width="3.0"/><path d="M565 177 l1.6 -6.4" stroke="#2f560b" stroke-opacity="0.24" stroke-width="1.2"/><path d="M89 332 l2.3 -11.7" stroke="#284a08" stroke-opacity="0.46" stroke-width="2.1"/><path d="M355 456 l4.9 -19.3" stroke="#203c05" stroke-opacity="0.50" stroke-width="2.9"/><path d="M559 125 l-2.0 -6.2" stroke="#1c3604" stroke-opacity="0.17" stroke-width="0.8"/><path d="M219 420 l5.6 -20.7" stroke="#203c05" stroke-opacity="0.47" stroke-width="2.7"/><path d="M159 378 l-5.2 -20.7" stroke="#284a08" stroke-opacity="0.48" stroke-width="2.4"/><path d="M203 403 l3.1 -13.9" stroke="#1c3604" stroke-opacity="0.43" stroke-width="2.6"/><path d="M1 251 l1.1 -9.7" stroke="#1c3604" stroke-opacity="0.23" stroke-width="1.6"/><path d="M183 205 l0.4 -8.3" stroke="#74a82c" stroke-opacity="0.36" stroke-width="1.3"/><path d="M439 318 l3.6 -12.0" stroke="#74a82c" stroke-opacity="0.31" stroke-width="2.0"/><path d="M144 275 l3.4 -11.0" stroke="#1c3604" stroke-opacity="0.42" stroke-width="1.8"/><path d="M554 378 l-3.0 -13.1" stroke="#2f560b" stroke-opacity="0.31" stroke-width="2.4"/><path d="M651 140 l-0.7 -6.9" stroke="#284a08" stroke-opacity="0.29" stroke-width="0.9"/><path d="M284 407 l1.0 -17.3" stroke="#2f560b" stroke-opacity="0.39" stroke-width="2.6"/><path d="M71 450 l7.1 -20.7" stroke="#80b434" stroke-opacity="0.47" stroke-width="2.8"/><path d="M107 331 l-0.2 -10.8" stroke="#284a08" stroke-opacity="0.34" stroke-width="2.1"/><path d="M394 515 l-3.2 -18.3" stroke="#2f560b" stroke-opacity="0.45" stroke-width="3.2"/><path d="M323 241 l1.3 -9.8" stroke="#284a08" stroke-opacity="0.27" stroke-width="1.6"/><path d="M6 265 l-0.9 -6.9" stroke="#1c3604" stroke-opacity="0.30" stroke-width="1.7"/><path d="M524 387 l5.0 -18.7" stroke="#80b434" stroke-opacity="0.44" stroke-width="2.5"/><path d="M394 150 l-1.8 -5.6" stroke="#2f560b" stroke-opacity="0.33" stroke-width="1.0"/><path d="M526 492 l0.1 -23.6" stroke="#1c3604" stroke-opacity="0.52" stroke-width="3.1"/><path d="M264 492 l-8.2 -25.0" stroke="#1c3604" stroke-opacity="0.48" stroke-width="3.1"/><path d="M457 405 l1.7 -19.8" stroke="#74a82c" stroke-opacity="0.36" stroke-width="2.6"/><path d="M1 280 l-0.9 -9.2" stroke="#1c3604" stroke-opacity="0.26" stroke-width="1.8"/><path d="M139 163 l-1.3 -4.7" stroke="#2f560b" stroke-opacity="0.20" stroke-width="1.1"/><path d="M429 478 l-5.6 -22.3" stroke="#74a82c" stroke-opacity="0.45" stroke-width="3.0"/><path d="M52 226 l-3.6 -10.2" stroke="#203c05" stroke-opacity="0.26" stroke-width="1.5"/><path d="M635 371 l4.2 -14.1" stroke="#2f560b" stroke-opacity="0.36" stroke-width="2.4"/><path d="M252 447 l6.9 -25.5" stroke="#1c3604" stroke-opacity="0.52" stroke-width="2.8"/><path d="M365 318 l0.9 -10.0" stroke="#284a08" stroke-opacity="0.38" stroke-width="2.0"/><path d="M675 172 l-0.1 -6.1" stroke="#284a08" stroke-opacity="0.28" stroke-width="1.1"/><path d="M50 336 l4.9 -14.2" stroke="#284a08" stroke-opacity="0.41" stroke-width="2.1"/><path d="M298 399 l6.7 -19.4" stroke="#2f560b" stroke-opacity="0.49" stroke-width="2.5"/><path d="M310 136 l-1.4 -4.8" stroke="#1c3604" stroke-opacity="0.33" stroke-width="0.9"/><path d="M20 211 l1.6 -7.3" stroke="#74a82c" stroke-opacity="0.30" stroke-width="1.4"/><path d="M666 366 l-2.1 -11.5" stroke="#2f560b" stroke-opacity="0.34" stroke-width="2.3"/><path d="M609 180 l-1.0 -5.1" stroke="#203c05" stroke-opacity="0.20" stroke-width="1.2"/><path d="M559 447 l9.0 -27.6" stroke="#284a08" stroke-opacity="0.50" stroke-width="2.8"/><path d="M131 247 l1.9 -7.6" stroke="#74a82c" stroke-opacity="0.42" stroke-width="1.6"/><path d="M279 327 l3.1 -14.7" stroke="#203c05" stroke-opacity="0.33" stroke-width="2.1"/><path d="M334 223 l2.5 -8.9" stroke="#284a08" stroke-opacity="0.38" stroke-width="1.4"/><path d="M503 478 l0.1 -20.7" stroke="#1c3604" stroke-opacity="0.48" stroke-width="3.0"/><path d="M88 350 l0.5 -14.4" stroke="#80b434" stroke-opacity="0.39" stroke-width="2.2"/><path d="M219 166 l-0.9 -5.1" stroke="#284a08" stroke-opacity="0.29" stroke-width="1.1"/><path d="M79 135 l-2.7 -8.7" stroke="#284a08" stroke-opacity="0.18" stroke-width="0.9"/><path d="M604 336 l-5.3 -15.4" stroke="#80b434" stroke-opacity="0.43" stroke-width="2.1"/><path d="M583 371 l2.0 -15.0" stroke="#203c05" stroke-opacity="0.32" stroke-width="2.4"/><path d="M233 436 l2.4 -19.6" stroke="#203c05" stroke-opacity="0.47" stroke-width="2.8"/><path d="M141 261 l2.2 -11.4" stroke="#80b434" stroke-opacity="0.29" stroke-width="1.7"/><path d="M630 266 l-1.6 -9.4" stroke="#1c3604" stroke-opacity="0.36" stroke-width="1.7"/><path d="M23 189 l2.0 -9.2" stroke="#203c05" stroke-opacity="0.19" stroke-width="1.2"/><path d="M412 180 l-1.8 -9.2" stroke="#80b434" stroke-opacity="0.28" stroke-width="1.2"/><path d="M22 305 l-0.6 -10.3" stroke="#1c3604" stroke-opacity="0.39" stroke-width="1.9"/><path d="M474 173 l-0.2 -5.7" stroke="#284a08" stroke-opacity="0.27" stroke-width="1.1"/><path d="M199 471 l-4.6 -21.8" stroke="#74a82c" stroke-opacity="0.56" stroke-width="3.0"/><path d="M244 139 l0.8 -6.4" stroke="#1c3604" stroke-opacity="0.20" stroke-width="0.9"/><path d="M443 199 l-1.2 -5.3" stroke="#1c3604" stroke-opacity="0.37" stroke-width="1.3"/><path d="M18 416 l5.9 -17.1" stroke="#203c05" stroke-opacity="0.51" stroke-width="2.6"/><path d="M128 511 l-9.3 -38.1" stroke="#203c05" stroke-opacity="0.45" stroke-width="3.2"/><path d="M564 194 l0.6 -7.8" stroke="#2f560b" stroke-opacity="0.24" stroke-width="1.3"/><path d="M168 356 l-0.8 -14.0" stroke="#2f560b" stroke-opacity="0.35" stroke-width="2.3"/><path d="M574 352 l3.3 -11.9" stroke="#1c3604" stroke-opacity="0.35" stroke-width="2.2"/><path d="M301 345 l2.7 -14.6" stroke="#1c3604" stroke-opacity="0.32" stroke-width="2.2"/></g>
</g></svg>
<svg style="left:510px;top:325px" width="110" height="110" viewBox="0 0 110 110">
<g fill="#d6ebb6">
<path d="M15.9 18.2 L44 27 Q49 29 49 34 L48.5 47 Q48 53 42 53.1 L27 52.5 Q23 52.3 22 49 Z"/>
<path d="M102.5 8.4 L97 44 Q96 49.4 91 49.4 L71 49.4 Q65 49 64 44 L63 36 Q62 30 68 27.5 Z"/>
<path d="M8 71.4 H20.5 V103.3 H8 Z"/>
<path d="M20.5 75.2 C26 73 32 71.8 38 72 C48 72.5 58 74 64.5 76 C68.5 77.5 68.5 83 64 84.5 L50.1 85.8 C56 87.5 64 87 72 85 C80 83 86 80 90 80.5 C94 81 95.5 85 92.6 88 C86 95 78 99 68 101 C58 103 45 102 35 100.5 C28 99.5 24 99 20.5 98.7 Z"/>
</g>
<g stroke-linecap="round" fill="none" stroke-width="5.4">
<path d="M33.4 37.2 L44.8 48.6" stroke="#507a1c"/><path d="M83.5 28.9 L70.6 47.1" stroke="#507a1c"/>
<path d="M44.5 52.5 L50.1 64.5" stroke="#d6ebb6"/><path d="M69.5 49.5 L60.7 65.3" stroke="#d6ebb6"/>
</g>
</svg>
<div class="t" style="left:488.00px;top:477.99px;font-size:32.27px;color:#d6ebb6;transform:scaleX(0.9955);">Total crops</div>
<div class="t" style="left:535.10px;top:537.16px;font-size:109.74px;color:#d6ebb6;font-weight:700;">5</div>
<div class="b" style="left:904px;top:246.5px;width:684px;height:244.5px;background:#cdd4cc;border-radius:30px 0 0 0;"></div>
<div class="b" style="left:1600px;top:246.5px;width:686px;height:244.5px;background:#b4dba9;border-radius:0 30px 0 0;"></div>
<div class="b" style="left:904px;top:503px;width:684px;height:244px;background:#afd9d9;border-radius:0 0 0 30px;"></div>
<div class="b" style="left:1600px;top:503px;width:686px;height:244px;background:#f2cfb7;border-radius:0 0 30px 0;"></div>
<div class="t" style="left:1028.00px;top:304.21px;font-size:31.69px;color:#2f3a26;transform:scaleX(0.9883);">Total energy usage (Kw)</div>
<div class="t" style="left:1723.40px;top:304.21px;font-size:31.69px;color:#2f3a26;transform:scaleX(1.0126);">Total yields (Ton)</div>
<div class="t" style="left:1040.00px;top:560.51px;font-size:31.69px;color:#2f3a26;transform:scaleX(0.9939);">Total water usage (Gal)</div>
<div class="t" style="left:1734.50px;top:560.51px;font-size:31.69px;color:#2f3a26;transform:scaleX(1.0082);">Total devices</div>
<div class="t" style="left:1028.50px;top:360.89px;font-size:74.13px;color:#2d3a1c;font-weight:700;transform:scaleX(1.1212);">2400</div>
<div class="t" style="left:1726.00px;top:360.89px;font-size:74.13px;color:#2d3a1c;font-weight:700;transform:scaleX(0.7893);">11.3</div>
<div class="t" style="left:1040.00px;top:617.69px;font-size:74.13px;color:#2d3a1c;font-weight:700;transform:scaleX(1.1182);">2950</div>
<div class="t" style="left:1735.60px;top:617.69px;font-size:74.13px;color:#2d3a1c;font-weight:700;transform:scaleX(1.1098);">80</div>
<div class="b" style="left:1228px;top:351px;width:91px;height:43px;background:#ffffff;border-radius:7px;"></div>
<div class="t" style="left:1240.88px;top:356.05px;font-size:28.78px;color:#7f9a58;transform:scaleX(0.8817);">+10%</div>
<div class="b" style="left:1852px;top:351px;width:90.29999999999995px;height:43px;background:#ffffff;border-radius:7px;"></div>
<div class="t" style="left:1864.78px;top:356.05px;font-size:28.78px;color:#7f9a58;transform:scaleX(0.8749);">+15%</div>
<div class="b" style="left:1237px;top:607.6px;width:68.59999999999991px;height:42.39999999999998px;background:#ffffff;border-radius:7px;"></div>
<div class="t" style="left:1246.71px;top:612.35px;font-size:28.78px;color:#ee7433;transform:scaleX(0.9644);">-5%</div>
<svg style="left:953.3px;top:296.1px" width="48" height="48" viewBox="0 0 48 48">
<circle cx="23.7" cy="23.7" r="23.7" fill="#7e8b89"/>
<path fill="#d3dbd5" d="M27 6 L11.5 27 H22 L19.5 41.5 L35 20 H24.5 Z"/>
</svg>
<svg style="left:1648px;top:292.4px" width="50" height="54" viewBox="0 0 50 54">
<g fill="#35a816">
<path d="M1 14 L24.5 1.5 L34 7 L10 19.5 Z"/>
<path d="M19 21 L43 8.5 L48.5 12 V14 L25 26.5 Z"/>
<path d="M0.5 18.5 L22 30 V53 L1.5 42 Q0.5 41 0.5 40 Z"/>
<path d="M26.5 30 L49 18 V40 Q49 41 48 42 L26.5 53 Z"/>
</g></svg>
<svg style="left:956.6px;top:549.4px" width="41" height="49" viewBox="0 0 41 49">
<path fill="#1fa8c1" d="M20.4 0 C28 9 40.8 18 40.8 28.5 A20.4 20.4 0 0 1 0 28.5 C0 18 13 9 20.4 0 Z"/>
</svg>
<svg style="left:1648px;top:555px" width="50" height="41" viewBox="0 0 50 41">
<g fill="none" stroke="#f47a2c" stroke-width="6.5" stroke-linecap="round">
<path d="M3.5 11.5 A36 36 0 0 1 46 11.5"/>
<path d="M10.5 21 A24 24 0 0 1 39 21"/>
<path d="M17.5 30 A12 12 0 0 1 32 30"/>
</g>
<path fill="#f47a2c" d="M20.5 34 L28.5 34 L24.5 40.5 Z"/>
</svg>
<div class="b" style="left:2352px;top:250px;width:821px;height:497px;background:#f5f6f1;border-radius:30px;"></div>
<div class="b" style="left:2352px;top:250px;width:821px;height:135px;background:#ffffff;border-radius:30px 30px 0 0;"></div>
<div class="t" style="left:2399.00px;top:297.84px;font-size:42.15px;color:#2d3a1c;font-weight:700;transform:scaleX(0.9025);">Devices</div>
<div class="t" style="left:3011.50px;top:300.60px;font-size:36.34px;color:#91b868;font-weight:700;transform:scaleX(0.9913);">See all</div>
<div class="t" style="left:2481.00px;top:420.47px;font-size:39.24px;color:#2d3a1c;font-weight:700;transform:scaleX(0.8217);">Fans</div>
<div class="t" style="left:3019.80px;top:427.10px;font-size:36.34px;color:#333d2c;transform:scaleX(0.9100);">8</div>
<div class="b" style="left:3077.6px;top:443.9px;width:9.2px;height:9.2px;border-radius:50%;background:#878f78"></div>
<div class="b" style="left:3095.9px;top:443.9px;width:9.2px;height:9.2px;border-radius:50%;background:#878f78"></div>
<div class="b" style="left:3114.1px;top:443.9px;width:9.2px;height:9.2px;border-radius:50%;background:#878f78"></div>
<div class="t" style="left:2481.00px;top:542.87px;font-size:39.24px;color:#2d3a1c;font-weight:700;transform:scaleX(0.8415);">Lights</div>
<div class="t" style="left:2999.30px;top:544.50px;font-size:36.34px;color:#333d2c;transform:scaleX(0.9675);">32</div>
<div class="b" style="left:3077.6px;top:561.4px;width:9.2px;height:9.2px;border-radius:50%;background:#878f78"></div>
<div class="b" style="left:3095.9px;top:561.4px;width:9.2px;height:9.2px;border-radius:50%;background:#878f78"></div>
<div class="b" style="left:3114.1px;top:561.4px;width:9.2px;height:9.2px;border-radius:50%;background:#878f78"></div>
<div class="t" style="left:2481.00px;top:656.77px;font-size:39.24px;color:#2d3a1c;font-weight:700;transform:scaleX(0.8550);">Pumps</div>
<div class="t" style="left:2999.30px;top:663.00px;font-size:36.34px;color:#333d2c;transform:scaleX(0.9675);">40</div>
<div class="b" style="left:3077.6px;top:679.9px;width:9.2px;height:9.2px;border-radius:50%;background:#878f78"></div>
<div class="b" style="left:3095.9px;top:679.9px;width:9.2px;height:9.2px;border-radius:50%;background:#878f78"></div>
<div class="b" style="left:3114.1px;top:679.9px;width:9.2px;height:9.2px;border-radius:50%;background:#878f78"></div>
<div class="b" style="left:2399px;top:505px;width:728px;height:2.5px;background:#e6e8e1;"></div>
<div class="b" style="left:2399px;top:623.5px;width:728px;height:2.5px;background:#e6e8e1;"></div>
<svg style="left:2400px;top:424px" width="51" height="50" viewBox="0 0 51 50">
<g fill="#858e77">
<path d="M25 24.8 V0 A12.4 12.4 0 0 0 25 24.8 Z"/>
<path d="M25 24 H50.3 A12.65 12.65 0 0 0 25 24 Z"/>
<path d="M25 24.8 V49.2 A12.2 12.2 0 0 0 25 24.8 Z"/>
<path d="M25 24.8 H0.2 A12.4 12.4 0 0 0 25 24.8 Z"/>
</g></svg>
<svg style="left:2394px;top:536px" width="64" height="60" viewBox="0 0 64 60">
<g fill="#858e77"><rect x="24.4" y="7.9" width="13.5" height="4.9" rx="1"/>
<path d="M24 16.1 H38 V21.5 A15.3 15.3 0 1 1 24 21.5 Z"/></g></svg>
<svg style="left:2394px;top:656px" width="64" height="56" viewBox="0 0 64 56">
<g fill="#858e77">
<path fill-rule="evenodd" d="M31.3 14.3 A14.3 14.3 0 1 1 31.3 42.9 A14.3 14.3 0 1 1 31.3 14.3 Z M31 22.4 C33 26 35.6 28.5 35.6 31.3 A4.6 4.6 0 0 1 26.5 31.3 C26.5 28.5 29 26 31 22.4 Z"/>
<path d="M6.2 28.6 H10.4 V30.5 H14.4 A17 17 0 0 0 21.8 43.2 L22.5 44.2 H10.4 V46.8 H6.2 Z"/>
<path d="M56 10 V28.6 H51.8 V26.7 H48.2 A17 17 0 0 0 40.8 14.5 L40.2 12.6 H51.8 V10 Z"/>
</g></svg>
<div class="b" style="left:226px;top:794px;width:668px;height:684px;background:#ffffff;border-radius:30px;"></div>
<div class="b" style="left:226px;top:961.3px;width:668px;height:4.2999999999999545px;background:#eceee7;"></div>
<div class="b" style="left:226px;top:1133.7px;width:668px;height:4.2999999999999545px;background:#eceee7;"></div>
<div class="b" style="left:226px;top:1306.2px;width:668px;height:4.2999999999999545px;background:#eceee7;"></div>
<div class="b" style="left:261.6px;top:827.7px;width:98.4px;height:98.4px;border-radius:50%;background:#ebede6"></div>
<div class="t" style="left:388.00px;top:824.74px;font-size:27.91px;color:#333d2c;transform:scaleX(0.9575);">Temperature (F)</div>
<div class="t" style="left:388.50px;top:860.29px;font-size:46.51px;color:#2d3a1c;font-weight:700;transform:scaleX(1.0346);">67</div>
<svg style="left:0;top:0" width="1" height="1">
<path d="M710.00 913.00 A69.5 69.5 0 0 1 849.00 913.00" fill="none" stroke="#e9ebe4" stroke-width="20.0"/>
<path d="M710.00 913.00 A69.5 69.5 0 0 1 753.46 848.56" fill="none" stroke="#a0b872" stroke-width="20.0"/>
<path d="M779.50 904.00 L754.04 865.69" stroke="#a0b872" stroke-width="8"/>
<circle cx="779.5" cy="904.0" r="9.2" fill="#465e1c"/>
</svg>
<div class="b" style="left:261.6px;top:1000.1px;width:98.4px;height:98.4px;border-radius:50%;background:#ebede6"></div>
<div class="t" style="left:388.00px;top:997.14px;font-size:27.91px;color:#333d2c;transform:scaleX(0.9435);">Humidity (%RH)</div>
<div class="t" style="left:388.50px;top:1032.69px;font-size:46.51px;color:#2d3a1c;font-weight:700;transform:scaleX(1.1038);">88</div>
<svg style="left:0;top:0" width="1" height="1">
<path d="M710.00 1085.40 A69.5 69.5 0 0 1 849.00 1085.40" fill="none" stroke="#e9ebe4" stroke-width="20.0"/>
<path d="M710.00 1085.40 A69.5 69.5 0 0 1 809.75 1022.83" fill="none" stroke="#e8b12e" stroke-width="20.0"/>
<path d="M779.50 1076.40 L803.88 1037.39" stroke="#e8b12e" stroke-width="8"/>
<circle cx="779.5" cy="1076.4" r="9.2" fill="#465e1c"/>
</svg>
<div class="b" style="left:261.6px;top:1172.5px;width:98.4px;height:98.4px;border-radius:50%;background:#ebede6"></div>
<div class="t" style="left:388.00px;top:1169.54px;font-size:27.91px;color:#333d2c;transform:scaleX(0.9802);">Light (nm)</div>
<div class="t" style="left:388.50px;top:1205.09px;font-size:46.51px;color:#2d3a1c;font-weight:700;transform:scaleX(1.0936);">520</div>
<svg style="left:0;top:0" width="1" height="1">
<path d="M710.00 1257.80 A69.5 69.5 0 0 1 849.00 1257.80" fill="none" stroke="#e9ebe4" stroke-width="20.0"/>
<path d="M710.00 1257.80 A69.5 69.5 0 0 1 779.50 1188.30" fill="none" stroke="#a0b872" stroke-width="20.0"/>
<path d="M779.50 1248.80 L779.50 1202.80" stroke="#a0b872" stroke-width="8"/>
<circle cx="779.5" cy="1248.8" r="9.2" fill="#465e1c"/>
</svg>
<div class="b" style="left:261.6px;top:1344.9px;width:98.4px;height:98.4px;border-radius:50%;background:#ebede6"></div>
<div class="t" style="left:388.00px;top:1341.94px;font-size:27.91px;color:#333d2c;transform:scaleX(0.9489);">Carbon dioxide (ppm)</div>
<div class="t" style="left:388.50px;top:1377.49px;font-size:46.51px;color:#2d3a1c;font-weight:700;transform:scaleX(1.1417);">4900</div>
<svg style="left:0;top:0" width="1" height="1">
<path d="M710.00 1430.20 A69.5 69.5 0 0 1 849.00 1430.20" fill="none" stroke="#e9ebe4" stroke-width="20.0"/>
<path d="M710.00 1430.20 A69.5 69.5 0 0 1 828.21 1380.63" fill="none" stroke="#f47a2c" stroke-width="20.0"/>
<path d="M779.50 1421.20 L814.94 1391.88" stroke="#f47a2c" stroke-width="8"/>
<circle cx="779.5" cy="1421.2" r="9.2" fill="#465e1c"/>
</svg>
<svg style="left:280px;top:840px" width="65" height="72" viewBox="0 0 65 72">
<path fill="none" stroke="#858e77" stroke-width="2.9" d="M22.8 38 V18.6 A7.6 7.6 0 0 1 38 18.6 V38 A13 13 0 1 1 22.8 38 Z"/>
<rect x="27.6" y="24.4" width="5.5" height="22" fill="#858e77"/>
<circle cx="30.4" cy="49" r="9" fill="#858e77"/>
</svg>
<svg style="left:280px;top:1015px" width="65" height="70" viewBox="0 0 65 70">
<g fill="none" stroke="#858e77" stroke-width="4.4" stroke-linecap="round">
<path d="M8.6 26 C12 23.5 18 22.5 23.8 24.6"/>
<path d="M8.6 36 C12 33.5 18 32.8 23.4 34.6"/>
<path d="M8.6 46.2 C14 42 20 43 26 48 C32 52.5 42 53.5 51 46.4"/>
</g>
<path fill="#858e77" d="M38.6 13.6 C41 19 50.7 25 50.7 33.4 A12.1 12.1 0 0 1 26.5 33.4 C26.5 25 36 19 38.6 13.6 Z"/>
</svg>
<svg style="left:283.5px;top:1193.5px" width="55" height="55" viewBox="0 0 55 55">
<circle cx="27.5" cy="27.5" r="11.5" fill="#878f78"/>
<g stroke="#878f78" stroke-width="4.2">
<path d="M27.5 0 V8"/><path d="M27.5 47 V55"/><path d="M0 27.5 H8"/><path d="M47 27.5 H55"/>
<path d="M8 8 L13.5 13.5"/><path d="M47 8 L41.5 13.5"/><path d="M8 47 L13.5 41.5"/><path d="M47 47 L41.5 41.5"/>
</g></svg>
<svg style="left:270px;top:1360px" width="80" height="70" viewBox="0 0 80 70">
<g fill="none" stroke="#707f80" stroke-width="5.2">
<path d="M31.4 25.3 H25.5 Q22.6 25.3 22.6 28.2 V39.4 Q22.6 42.3 25.5 42.3 H31.4"/>
<rect x="36.6" y="25.3" width="8.4" height="17" rx="2.6"/>
</g>
<path fill="none" stroke="#707f80" stroke-width="4" d="M50 32.9 H55.9 Q57.9 32.9 57.9 34.9 V37.3 Q57.9 39.3 55.9 39.3 H54 Q52 39.3 52 41.3 V45.6 H59.9"/>
</svg>
<div class="b" style="left:904px;top:793px;width:1382px;height:684px;background:#ffffff;border-radius:30px;"></div>
<div class="b" style="left:1248px;top:827px;width:2px;height:618px;background:repeating-linear-gradient(180deg,#c9cdc2 0 4px,transparent 4px 8px)"></div>
<div class="b" style="left:1594px;top:827px;width:2px;height:618px;background:repeating-linear-gradient(180deg,#c9cdc2 0 4px,transparent 4px 8px)"></div>
<div class="b" style="left:1939px;top:827px;width:2px;height:618px;background:repeating-linear-gradient(180deg,#c9cdc2 0 4px,transparent 4px 8px)"></div>
<div class="b" style="left:927px;top:1134.5px;width:1335px;height:2px;background:repeating-linear-gradient(90deg,#c9cdc2 0 5px,transparent 5px 10px)"></div>
<div class="t" style="left:950.00px;top:842.66px;font-size:32.41px;color:#2d3a1c;font-weight:700;transform:scaleX(0.9330);">Tomato</div>
<div class="t" style="left:950.00px;top:888.21px;font-size:28.49px;color:#93a07e;transform:scaleX(0.9105);">Est. yield: </div><div class="t" style="left:1069.62px;top:888.21px;font-size:28.49px;color:#93a07e;font-weight:700;transform:scaleX(0.9105);">2 Ton</div>
<div class="b" style="left:950px;top:934px;width:254px;height:2px;background:#eceee7;"></div>
<div class="t" style="left:950.00px;top:946.71px;font-size:22.97px;color:#93a07e;transform:scaleX(0.9469);">Sown:</div>
<div class="t" style="left:950.00px;top:977.95px;font-size:28.78px;color:#333d2c;transform:scaleX(0.9944);">05/07/2023</div>
<div class="t" style="left:950.00px;top:1021.21px;font-size:22.97px;color:#93a07e;transform:scaleX(0.9653);">Est harvest:</div>
<div class="t" style="left:950.00px;top:1052.95px;font-size:28.78px;color:#333d2c;transform:scaleX(0.9944);">05/10/2023</div>
<div class="b" style="left:1169px;top:827.5px;width:46px;height:44.5px;background:#ebede6;border-radius:15px;"></div>
<div class="t" style="left:1182.00px;top:834.30px;font-size:27.62px;color:#8f9c78;font-weight:700;">A</div>
<div class="t" style="left:1295.50px;top:842.66px;font-size:32.41px;color:#2d3a1c;font-weight:700;transform:scaleX(0.9103);">Beans</div>
<div class="t" style="left:1295.50px;top:888.21px;font-size:28.49px;color:#93a07e;transform:scaleX(0.9112);">Est. yield: </div><div class="t" style="left:1415.21px;top:888.21px;font-size:28.49px;color:#93a07e;font-weight:700;transform:scaleX(0.9112);">0,8 Ton</div>
<div class="b" style="left:1295.5px;top:934px;width:254.0px;height:2px;background:#eceee7;"></div>
<div class="t" style="left:1295.50px;top:946.71px;font-size:22.97px;color:#93a07e;transform:scaleX(0.9469);">Sown:</div>
<div class="t" style="left:1295.50px;top:977.95px;font-size:28.78px;color:#333d2c;transform:scaleX(0.9944);">21/06/2023</div>
<div class="t" style="left:1295.50px;top:1021.21px;font-size:22.97px;color:#93a07e;transform:scaleX(0.9653);">Est harvest:</div>
<div class="t" style="left:1295.50px;top:1052.95px;font-size:28.78px;color:#333d2c;transform:scaleX(0.9944);">08/08/2023</div>
<div class="b" style="left:1514.5px;top:827.5px;width:46.0px;height:44.5px;background:#ebede6;border-radius:15px;"></div>
<div class="t" style="left:1527.50px;top:834.30px;font-size:27.62px;color:#8f9c78;font-weight:700;">B</div>
<div class="t" style="left:1641.00px;top:842.66px;font-size:32.41px;color:#2d3a1c;font-weight:700;transform:scaleX(0.8990);">Beans</div>
<div class="t" style="left:1641.00px;top:888.21px;font-size:28.49px;color:#93a07e;transform:scaleX(0.9155);">Est. yield: </div><div class="t" style="left:1761.28px;top:888.21px;font-size:28.49px;color:#93a07e;font-weight:700;transform:scaleX(0.9155);">0.9 Ton</div>
<div class="b" style="left:1641px;top:934px;width:254px;height:2px;background:#eceee7;"></div>
<div class="t" style="left:1641.00px;top:946.71px;font-size:22.97px;color:#93a07e;transform:scaleX(0.9469);">Sown:</div>
<div class="t" style="left:1641.00px;top:977.95px;font-size:28.78px;color:#333d2c;transform:scaleX(0.9944);">21/06/2023</div>
<div class="t" style="left:1641.00px;top:1021.21px;font-size:22.97px;color:#93a07e;transform:scaleX(0.9653);">Est harvest:</div>
<div class="t" style="left:1641.00px;top:1052.95px;font-size:28.78px;color:#333d2c;transform:scaleX(0.9944);">08/08/2023</div>
<div class="b" style="left:1860px;top:827.5px;width:46px;height:44.5px;background:#ebede6;border-radius:15px;"></div>
<div class="t" style="left:1873.00px;top:834.30px;font-size:27.62px;color:#8f9c78;font-weight:700;">C</div>
<div class="t" style="left:1986.50px;top:842.66px;font-size:32.41px;color:#2d3a1c;font-weight:700;transform:scaleX(0.9383);">Tomato</div>
<div class="t" style="left:1986.50px;top:888.21px;font-size:28.49px;color:#93a07e;transform:scaleX(0.9177);">Est. yield: </div><div class="t" style="left:2107.06px;top:888.21px;font-size:28.49px;color:#93a07e;font-weight:700;transform:scaleX(0.9177);">1.8 Ton</div>
<div class="b" style="left:1986.5px;top:934px;width:254.0px;height:2px;background:#eceee7;"></div>
<div class="t" style="left:1986.50px;top:946.71px;font-size:22.97px;color:#93a07e;transform:scaleX(0.9469);">Sown:</div>
<div class="t" style="left:1986.50px;top:977.95px;font-size:28.78px;color:#333d2c;transform:scaleX(0.9944);">05/07/2023</div>
<div class="t" style="left:1986.50px;top:1021.21px;font-size:22.97px;color:#93a07e;transform:scaleX(0.9653);">Est harvest:</div>
<div class="t" style="left:1986.50px;top:1052.95px;font-size:28.78px;color:#333d2c;transform:scaleX(0.9944);">05/10/2023</div>
<div class="b" style="left:2205.5px;top:827.5px;width:46.0px;height:44.5px;background:#ebede6;border-radius:15px;"></div>
<div class="t" style="left:2218.50px;top:834.30px;font-size:27.62px;color:#8f9c78;font-weight:700;">D</div>
<div class="t" style="left:950.00px;top:1189.66px;font-size:32.41px;color:#2d3a1c;font-weight:700;transform:scaleX(0.9250);">Cucumber</div>
<div class="t" style="left:950.00px;top:1235.21px;font-size:28.49px;color:#93a07e;transform:scaleX(0.9181);">Est. yield: </div><div class="t" style="left:1070.62px;top:1235.21px;font-size:28.49px;color:#93a07e;font-weight:700;transform:scaleX(0.9181);">2.3 Ton</div>
<div class="b" style="left:950px;top:1281px;width:254px;height:2px;background:#eceee7;"></div>
<div class="t" style="left:950.00px;top:1293.71px;font-size:22.97px;color:#93a07e;transform:scaleX(0.9469);">Sown:</div>
<div class="t" style="left:950.00px;top:1324.95px;font-size:28.78px;color:#333d2c;transform:scaleX(0.9944);">01/06/2023</div>
<div class="t" style="left:950.00px;top:1368.21px;font-size:22.97px;color:#93a07e;transform:scaleX(0.9653);">Est harvest:</div>
<div class="t" style="left:950.00px;top:1399.95px;font-size:28.78px;color:#333d2c;transform:scaleX(0.9944);">10/08/2023</div>
<div class="b" style="left:1169px;top:1174.5px;width:46px;height:44.5px;background:#ebede6;border-radius:15px;"></div>
<div class="t" style="left:1183.00px;top:1181.30px;font-size:27.62px;color:#8f9c78;font-weight:700;">E</div>
<div class="t" style="left:1295.50px;top:1189.66px;font-size:32.41px;color:#2d3a1c;font-weight:700;transform:scaleX(0.9273);">Pepper</div>
<div class="t" style="left:1295.50px;top:1235.21px;font-size:28.49px;color:#93a07e;transform:scaleX(0.9181);">Est. yield: </div><div class="t" style="left:1416.12px;top:1235.21px;font-size:28.49px;color:#93a07e;font-weight:700;transform:scaleX(0.9181);">1.6 Ton</div>
<div class="b" style="left:1295.5px;top:1281px;width:254.0px;height:2px;background:#eceee7;"></div>
<div class="t" style="left:1295.50px;top:1293.71px;font-size:22.97px;color:#93a07e;transform:scaleX(0.9469);">Sown:</div>
<div class="t" style="left:1295.50px;top:1324.95px;font-size:28.78px;color:#333d2c;transform:scaleX(0.9944);">01/06/2023</div>
<div class="t" style="left:1295.50px;top:1368.21px;font-size:22.97px;color:#93a07e;transform:scaleX(0.9653);">Est harvest:</div>
<div class="t" style="left:1295.50px;top:1399.95px;font-size:28.78px;color:#333d2c;transform:scaleX(0.9944);">10/08/2023</div>
<div class="b" style="left:1514.5px;top:1174.5px;width:46.0px;height:44.5px;background:#ebede6;border-radius:15px;"></div>
<div class="t" style="left:1529.00px;top:1181.30px;font-size:27.62px;color:#8f9c78;font-weight:700;">F</div>
<div class="t" style="left:1641.00px;top:1189.66px;font-size:32.41px;color:#2d3a1c;font-weight:700;transform:scaleX(0.9357);">Tomato</div>
<div class="t" style="left:1641.00px;top:1235.21px;font-size:28.49px;color:#93a07e;transform:scaleX(0.9155);">Est. yield: </div><div class="t" style="left:1761.28px;top:1235.21px;font-size:28.49px;color:#93a07e;font-weight:700;transform:scaleX(0.9155);">1.9 Ton</div>
<div class="b" style="left:1641px;top:1281px;width:254px;height:2px;background:#eceee7;"></div>
<div class="t" style="left:1641.00px;top:1293.71px;font-size:22.97px;color:#93a07e;transform:scaleX(0.9469);">Sown:</div>
<div class="t" style="left:1641.00px;top:1324.95px;font-size:28.78px;color:#333d2c;transform:scaleX(0.9944);">05/07/2023</div>
<div class="t" style="left:1641.00px;top:1368.21px;font-size:22.97px;color:#93a07e;transform:scaleX(0.9653);">Est harvest:</div>
<div class="t" style="left:1641.00px;top:1399.95px;font-size:28.78px;color:#333d2c;transform:scaleX(0.9944);">05/10/2023</div>
<div class="b" style="left:1860px;top:1174.5px;width:46px;height:44.5px;background:#ebede6;border-radius:15px;"></div>
<div class="t" style="left:1872.50px;top:1181.30px;font-size:27.62px;color:#8f9c78;font-weight:700;">G</div>
<div class="b" style="left:1961.5px;top:1162.5px;width:300.5px;height:292.5px;background:#ebede6;border-radius:22px;"></div>
<div class="b" style="left:2204px;top:1174.5px;width:46px;height:44.5px;background:#dfe2d8;border-radius:15px;"></div>
<div class="t" style="left:2217.00px;top:1181.30px;font-size:27.62px;color:#8f9c78;font-weight:700;">H</div>
<svg style="left:2080px;top:1277px" width="64" height="64" viewBox="0 0 64 64">
<circle cx="32" cy="32" r="32" fill="#9fab8a"/>
<path d="M32 12 V52 M12 32 H52" stroke="#ebede6" stroke-width="7"/>
</svg>
<div class="b" style="left:2352px;top:794px;width:821px;height:684px;background:#f5f6f1;border-radius:30px;"></div>
<div class="b" style="left:2352px;top:794px;width:821px;height:132.60000000000002px;background:#ffffff;border-radius:30px 30px 0 0;"></div>
<div class="t" style="left:2399.60px;top:839.64px;font-size:41.72px;color:#2d3a1c;font-weight:700;transform:scaleX(1.0105);">Alert</div>
<div class="t" style="left:3012.60px;top:841.70px;font-size:36.34px;color:#91b868;font-weight:700;transform:scaleX(0.9913);">See all</div>
<div class="b" style="left:2398.6px;top:961.0px;width:72.0px;height:72.0px;background:#e3e6de;border-radius:16px;"></div>
<div class="t" style="left:2422.60px;top:977.89px;font-size:32.70px;color:#8f9c78;font-weight:700;">A</div>
<div class="t" style="left:2499.00px;top:962.83px;font-size:35.32px;color:#2d3a1c;font-weight:700;transform:scaleX(0.8945);">Hight CO²</div>
<div class="t" style="left:2499.00px;top:1011.09px;font-size:27.18px;color:#93a07e;transform:scaleX(1.0225);">Tomato</div>
<div class="t" style="left:2815.70px;top:964.48px;font-size:34.16px;color:#333d2c;transform:scaleX(0.9450);">26/02/2024 04:45 PM</div>
<div class="b" style="left:2399px;top:1066.0px;width:728px;height:2.5px;background:#e6e8e1;"></div>
<div class="b" style="left:2398.6px;top:1096.8px;width:72.0px;height:72.0px;background:#e3e6de;border-radius:16px;"></div>
<div class="t" style="left:2423.60px;top:1113.69px;font-size:32.70px;color:#8f9c78;font-weight:700;">E</div>
<div class="t" style="left:2499.00px;top:1098.63px;font-size:35.32px;color:#2d3a1c;font-weight:700;transform:scaleX(0.9180);">Top Temperature²</div>
<div class="t" style="left:2499.00px;top:1146.89px;font-size:27.18px;color:#93a07e;transform:scaleX(0.9840);">Cucumber</div>
<div class="t" style="left:2815.70px;top:1100.28px;font-size:34.16px;color:#333d2c;transform:scaleX(0.9450);">26/02/2024 04:45 PM</div>
<div class="b" style="left:2399px;top:1201.8px;width:728px;height:2.5px;background:#e6e8e1;"></div>
<div class="b" style="left:2398.6px;top:1232.6px;width:72.0px;height:72.0px;background:#e3e6de;border-radius:16px;"></div>
<div class="t" style="left:2422.60px;top:1249.49px;font-size:32.70px;color:#8f9c78;font-weight:700;">B</div>
<div class="t" style="left:2499.00px;top:1234.43px;font-size:35.32px;color:#2d3a1c;font-weight:700;transform:scaleX(0.8945);">Hight CO²</div>
<div class="t" style="left:2499.00px;top:1282.69px;font-size:27.18px;color:#93a07e;transform:scaleX(0.9481);">Beans</div>
<div class="t" style="left:2815.70px;top:1236.08px;font-size:34.16px;color:#333d2c;transform:scaleX(0.9450);">26/02/2024 04:45 PM</div>
<div class="b" style="left:2399px;top:1337.6px;width:728px;height:2.5px;background:#e6e8e1;"></div>
<div class="b" style="left:2398.6px;top:1368.4px;width:72.0px;height:72.0px;background:#e3e6de;border-radius:16px;"></div>
<div class="t" style="left:2424.60px;top:1385.29px;font-size:32.70px;color:#8f9c78;font-weight:700;">F</div>
<div class="t" style="left:2499.00px;top:1370.23px;font-size:35.32px;color:#2d3a1c;font-weight:700;transform:scaleX(0.8890);">Low humidity</div>
<div class="t" style="left:2499.00px;top:1418.49px;font-size:27.18px;color:#93a07e;transform:scaleX(0.9489);">Pepper</div>
<div class="t" style="left:2815.70px;top:1371.88px;font-size:34.16px;color:#333d2c;transform:scaleX(0.9450);">26/02/2024 04:45 PM</div>
<div class="b" style="left:226px;top:1522px;width:2947px;height:378px;background:#f6f7f2;border-radius:30px;"></div>
<div class="t" style="left:273.80px;top:1587.73px;font-size:40.84px;color:#2d3a1c;font-weight:700;transform:scaleX(0.9180);">Energy</div>
<div class="t" style="left:1248.50px;top:1587.73px;font-size:40.84px;color:#2d3a1c;font-weight:700;transform:scaleX(0.9643);">Water</div>
<div class="t" style="left:2222.00px;top:1587.53px;font-size:40.84px;color:#2d3a1c;font-weight:700;transform:scaleX(0.9619);">Productivity</div>
<div class="t" style="left:273.50px;top:1692.49px;font-size:24.42px;color:#5f6656;transform:scaleX(0.9167);">2000</div>
<div class="t" style="left:273.50px;top:1760.19px;font-size:24.42px;color:#5f6656;transform:scaleX(0.9167);">1500</div>
<div class="t" style="left:273.50px;top:1827.89px;font-size:24.42px;color:#5f6656;transform:scaleX(0.9167);">1000</div>
<div class="t" style="left:1247.00px;top:1696.49px;font-size:24.42px;color:#5f6656;transform:scaleX(0.9444);">4000</div>
<div class="t" style="left:1247.00px;top:1764.89px;font-size:24.42px;color:#5f6656;transform:scaleX(0.9444);">3000</div>
<div class="t" style="left:1247.00px;top:1832.89px;font-size:24.42px;color:#5f6656;transform:scaleX(0.9444);">2000</div>
<div class="t" style="left:2203.00px;top:1698.89px;font-size:24.42px;color:#5f6656;transform:scaleX(0.8529);">3.1</div>
<div class="t" style="left:2203.00px;top:1770.39px;font-size:24.42px;color:#5f6656;transform:scaleX(0.8824);">2.2</div>
<div class="b" style="left:346.7px;top:1711.3999999999999px;width:831.3px;height:2.4px;background:repeating-linear-gradient(90deg,#c4c8bd 0 2.2px,transparent 2.2px 4.4px)"></div>
<div class="b" style="left:1321px;top:1711.3999999999999px;width:831.5px;height:2.4px;background:repeating-linear-gradient(90deg,#c4c8bd 0 2.2px,transparent 2.2px 4.4px)"></div>
<div class="b" style="left:346.7px;top:1779.1px;width:831.3px;height:2.4px;background:repeating-linear-gradient(90deg,#c4c8bd 0 2.2px,transparent 2.2px 4.4px)"></div>
<div class="b" style="left:1321px;top:1779.1px;width:831.5px;height:2.4px;background:repeating-linear-gradient(90deg,#c4c8bd 0 2.2px,transparent 2.2px 4.4px)"></div>
<div class="b" style="left:346.7px;top:1846.8px;width:831.3px;height:2.4px;background:repeating-linear-gradient(90deg,#c4c8bd 0 2.2px,transparent 2.2px 4.4px)"></div>
<div class="b" style="left:1321px;top:1846.8px;width:831.5px;height:2.4px;background:repeating-linear-gradient(90deg,#c4c8bd 0 2.2px,transparent 2.2px 4.4px)"></div>
<div class="b" style="left:2248px;top:1706.3px;width:868px;height:2.4px;background:repeating-linear-gradient(90deg,#c4c8bd 0 2.2px,transparent 2.2px 4.4px)"></div>
<div class="b" style="left:2248px;top:1753.3999999999999px;width:868px;height:2.4px;background:repeating-linear-gradient(90deg,#c4c8bd 0 2.2px,transparent 2.2px 4.4px)"></div>
<div class="b" style="left:2248px;top:1800.5px;width:868px;height:2.4px;background:repeating-linear-gradient(90deg,#c4c8bd 0 2.2px,transparent 2.2px 4.4px)"></div>
<svg style="left:0;top:0" width="1" height="1"><defs><linearGradient id="ge1" x1="0" y1="0" x2="0" y2="1" gradientUnits="objectBoundingBox"><stop offset="0" stop-color="#c6d7aa"/><stop offset="1" stop-color="#d6e2c2"/></linearGradient></defs>
<path d="M346.7 1804.9 C352.8 1807.4 364.0 1822.6 380.4 1818.7 C396.8 1814.8 420.3 1787.2 437.8 1783.1 C455.3 1779.0 463.9 1788.5 477.4 1796.0 C490.9 1803.5 498.4 1826.9 513.0 1824.7 C527.6 1822.5 540.7 1796.8 558.5 1784.0 C576.3 1771.2 591.7 1753.6 612.0 1753.4 C632.3 1753.2 650.4 1781.0 671.4 1783.1 C692.4 1785.2 711.0 1765.5 728.8 1765.3 C746.6 1765.1 751.9 1775.0 770.4 1782.0 C788.9 1789.0 818.3 1794.4 831.8 1804.1 C845.3 1813.8 842.3 1822.3 845.6 1836.0 C848.9 1849.7 849.2 1872.1 850.0 1880.0 L850.0 1900 L346.7 1900 Z" fill="url(#ge1)"/><path d="M346.7 1804.9 C352.8 1807.4 364.0 1822.6 380.4 1818.7 C396.8 1814.8 420.3 1787.2 437.8 1783.1 C455.3 1779.0 463.9 1788.5 477.4 1796.0 C490.9 1803.5 498.4 1826.9 513.0 1824.7 C527.6 1822.5 540.7 1796.8 558.5 1784.0 C576.3 1771.2 591.7 1753.6 612.0 1753.4 C632.3 1753.2 650.4 1781.0 671.4 1783.1 C692.4 1785.2 711.0 1765.5 728.8 1765.3 C746.6 1765.1 751.9 1775.0 770.4 1782.0 C788.9 1789.0 818.3 1794.4 831.8 1804.1 C845.3 1813.8 842.3 1822.3 845.6 1836.0 C848.9 1849.7 849.2 1872.1 850.0 1880.0" fill="none" stroke="#92b463" stroke-width="4.6" stroke-linejoin="round"/></svg>
<svg style="left:0;top:0" width="1" height="1"><defs><linearGradient id="ge2" x1="0" y1="0" x2="0" y2="1" gradientUnits="objectBoundingBox"><stop offset="0" stop-color="#c6d7aa"/><stop offset="1" stop-color="#d6e2c2"/></linearGradient></defs>
<path d="M930.0 1890.0 C934.8 1880.3 941.0 1850.8 956.5 1836.0 C972.0 1821.2 994.5 1808.0 1015.9 1808.0 C1037.3 1808.0 1062.0 1823.0 1075.3 1836.0 C1088.6 1849.0 1087.4 1872.1 1090.0 1880.0 L1090.0 1900 L930.0 1900 Z" fill="url(#ge2)"/><path d="M930.0 1890.0 C934.8 1880.3 941.0 1850.8 956.5 1836.0 C972.0 1821.2 994.5 1808.0 1015.9 1808.0 C1037.3 1808.0 1062.0 1823.0 1075.3 1836.0 C1088.6 1849.0 1087.4 1872.1 1090.0 1880.0" fill="none" stroke="#92b463" stroke-width="4.6" stroke-linejoin="round"/></svg>
<svg style="left:0;top:0" width="1" height="1"><defs><linearGradient id="gw1" x1="0" y1="0" x2="0" y2="1" gradientUnits="objectBoundingBox"><stop offset="0" stop-color="#64c0d1"/><stop offset="1" stop-color="#9ad6e1"/></linearGradient></defs>
<path d="M1321.0 1804.0 C1327.0 1806.6 1335.4 1831.0 1354.6 1818.7 C1373.8 1806.4 1404.0 1734.5 1427.9 1735.6 C1451.8 1736.7 1468.2 1816.0 1487.3 1824.7 C1506.4 1833.4 1515.3 1805.0 1534.0 1784.0 C1552.7 1763.0 1571.3 1708.1 1591.4 1707.9 C1611.5 1707.7 1622.4 1773.8 1645.7 1783.1 C1669.0 1792.4 1694.9 1756.5 1720.9 1759.4 C1746.9 1762.3 1774.9 1790.8 1790.2 1799.0 C1805.5 1807.2 1800.3 1798.3 1806.0 1805.0 C1811.7 1811.7 1817.9 1822.5 1821.9 1836.0 C1825.9 1849.5 1826.9 1872.1 1828.0 1880.0 L1828.0 1900 L1321.0 1900 Z" fill="url(#gw1)"/><path d="M1321.0 1804.0 C1327.0 1806.6 1335.4 1831.0 1354.6 1818.7 C1373.8 1806.4 1404.0 1734.5 1427.9 1735.6 C1451.8 1736.7 1468.2 1816.0 1487.3 1824.7 C1506.4 1833.4 1515.3 1805.0 1534.0 1784.0 C1552.7 1763.0 1571.3 1708.1 1591.4 1707.9 C1611.5 1707.7 1622.4 1773.8 1645.7 1783.1 C1669.0 1792.4 1694.9 1756.5 1720.9 1759.4 C1746.9 1762.3 1774.9 1790.8 1790.2 1799.0 C1805.5 1807.2 1800.3 1798.3 1806.0 1805.0 C1811.7 1811.7 1817.9 1822.5 1821.9 1836.0 C1825.9 1849.5 1826.9 1872.1 1828.0 1880.0" fill="none" stroke="#1a9eb6" stroke-width="4.6" stroke-linejoin="round"/></svg>
<svg style="left:0;top:0" width="1" height="1"><defs><linearGradient id="gw2" x1="0" y1="0" x2="0" y2="1" gradientUnits="objectBoundingBox"><stop offset="0" stop-color="#64c0d1"/><stop offset="1" stop-color="#9ad6e1"/></linearGradient></defs>
<path d="M1860.0 1890.0 C1864.2 1880.3 1863.3 1864.5 1883.2 1836.0 C1903.1 1807.5 1940.1 1731.6 1970.4 1731.6 C2000.7 1731.6 2032.7 1807.5 2051.5 1836.0 C2070.3 1864.5 2070.8 1880.3 2075.0 1890.0 L2075.0 1900 L1860.0 1900 Z" fill="url(#gw2)"/><path d="M1860.0 1890.0 C1864.2 1880.3 1863.3 1864.5 1883.2 1836.0 C1903.1 1807.5 1940.1 1731.6 1970.4 1731.6 C2000.7 1731.6 2032.7 1807.5 2051.5 1836.0 C2070.3 1864.5 2070.8 1880.3 2075.0 1890.0" fill="none" stroke="#1a9eb6" stroke-width="4.6" stroke-linejoin="round"/></svg>
<div class="b" style="left:2316.8px;top:1753.7px;width:49.19999999999982px;height:146.29999999999995px;background:#8f9a78;"></div>
<div class="b" style="left:2479.6px;top:1708.3px;width:49.30000000000018px;height:191.70000000000005px;background:#8f9a78;"></div>
<div class="b" style="left:2528.9px;top:1790.4px;width:49.59999999999991px;height:109.59999999999991px;background:#2e3a1c;"></div>
<div class="b" style="left:2642px;top:1699.9px;width:49.30000000000018px;height:200.0999999999999px;background:#8f9a78;"></div>
<div class="b" style="left:2691.3px;top:1767.6px;width:49.69999999999982px;height:132.4000000000001px;background:#2e3a1c;"></div>
<div class="b" style="left:2804.9px;top:1753.3px;width:49.19999999999982px;height:146.70000000000005px;background:#8f9a78;"></div>
<div class="b" style="left:2854.1px;top:1799.6px;width:49.70000000000027px;height:100.40000000000009px;background:#2e3a1c;"></div>
<div class="b" style="left:2967.7px;top:1699.9px;width:48.90000000000009px;height:200.0999999999999px;background:#8f9a78;"></div>
<div class="b" style="left:3016.6px;top:1795.4px;width:50.0px;height:104.59999999999991px;background:#2e3a1c;"></div>
<div class="b" style="left:2833.5px;top:1571.5px;width:294.1999999999998px;height:72.0px;background:#e3e7df;border-radius:22px;"></div>
<div class="t" style="left:2861.50px;top:1586.65px;font-size:31.98px;color:#2f3a26;transform:scaleX(0.9955);">Monthly</div>
<svg style="left:3080px;top:1605px" width="20" height="10" viewBox="0 0 20 10"><path d="M0 0 H19.2 L9.6 9.6 Z" fill="#848e77"/></svg>
</body></html>
